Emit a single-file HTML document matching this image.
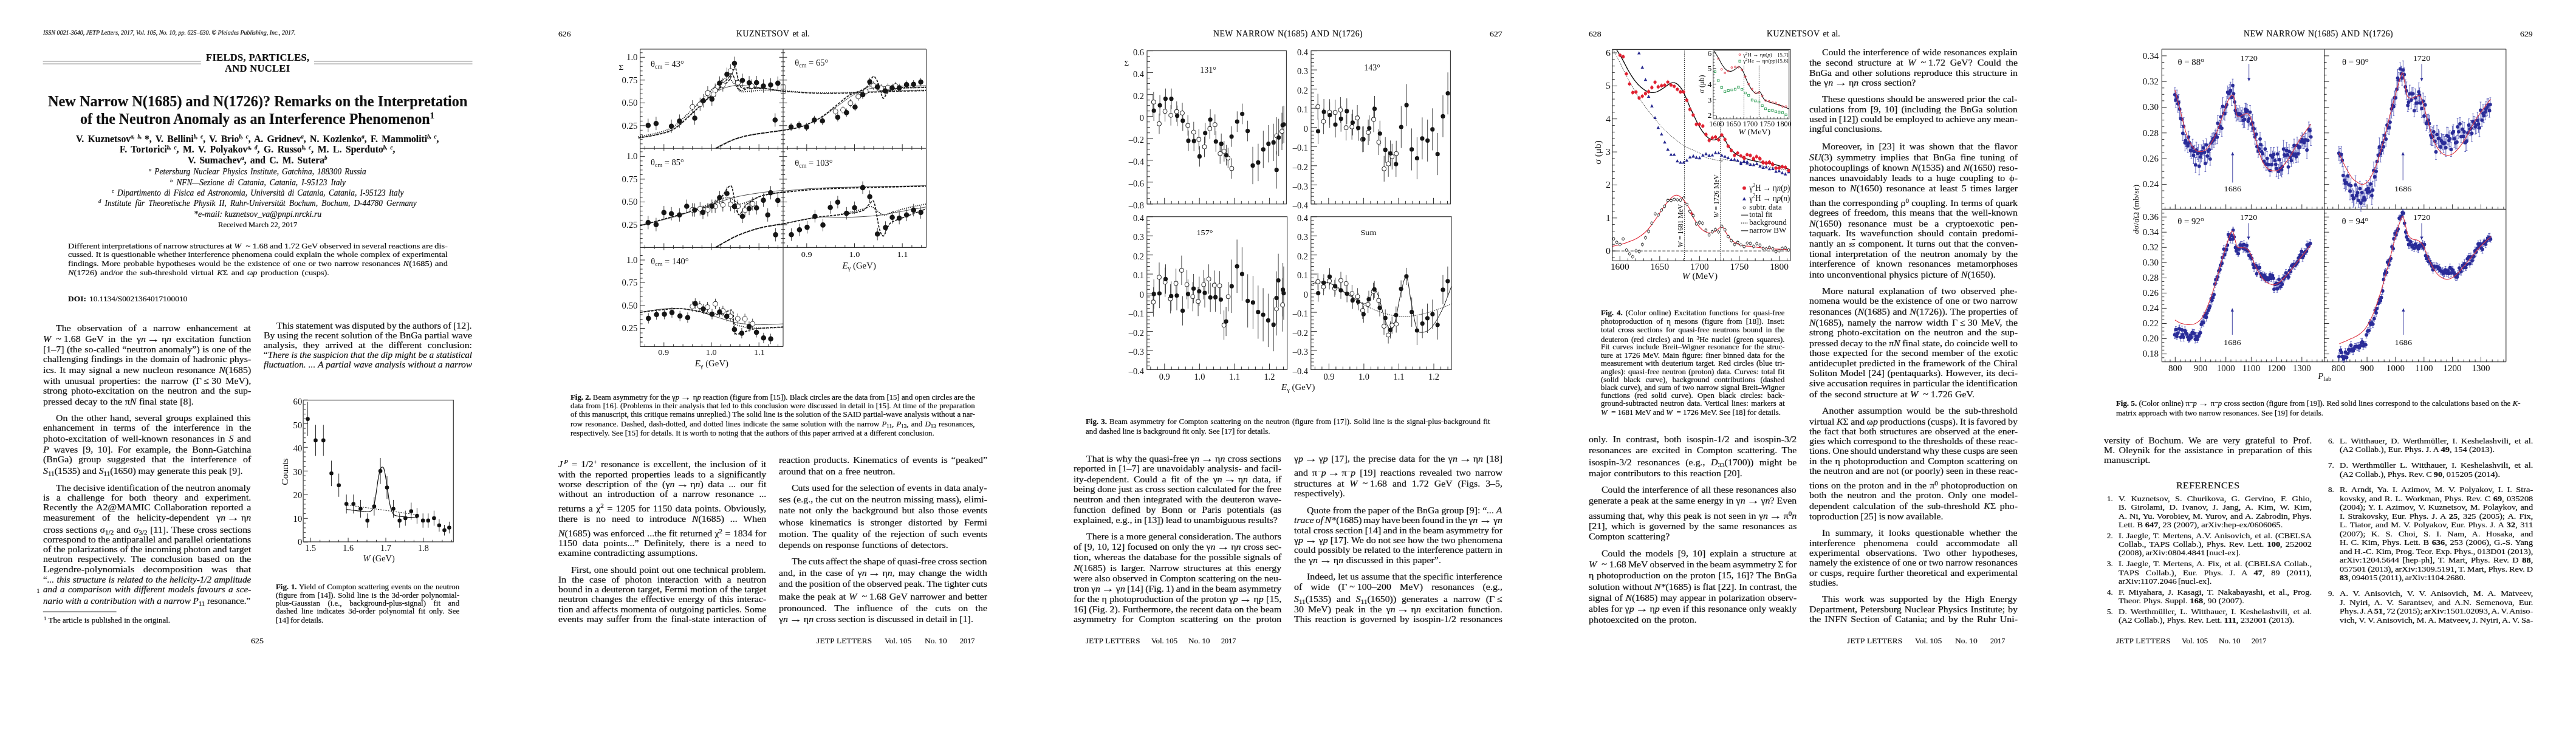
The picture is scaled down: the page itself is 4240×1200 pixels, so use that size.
<!DOCTYPE html><html><head><meta charset="utf-8"><title>JETP Letters</title><style>
html,body{margin:0;padding:0;background:#fff}
body{width:4240px;height:1200px;position:relative;overflow:hidden;font-family:"Liberation Serif",serif;color:#111}
.pg{position:absolute;top:0;width:848px;height:1200px;overflow:hidden;will-change:transform}
.l{position:absolute;white-space:nowrap;height:20px;line-height:20px;transform-origin:0 0;-webkit-text-stroke:0.2px #111}
.l sup,.l sub{font-size:70%;line-height:0;vertical-align:baseline;position:relative}
.l sup{top:-0.5em}
.l sub{top:0.3em}
.l sup.au{font-style:italic;font-size:9.5px;top:-5.5px;font-weight:bold}
.ar{display:inline-block;transform:scaleX(1.33);margin:0 4.5px}
.l sup.af{font-style:italic;font-size:9px;top:-5px}
svg{position:absolute;left:0;top:0}
svg text{font-family:"Liberation Serif",serif;fill:#111}
</style></head><body>
<div class="pg" style="left:0px">
<svg width="848" height="1200" viewBox="0 0 848 1200"><path d="M70.6 100.9H330.7M517 100.9H777.5M70.6 105.2H330.7M517 105.2H777.5" fill="none" stroke="#999" stroke-width="1.3" />
<path d="M70.8 1007H191.6" fill="none" stroke="#222" stroke-width="0.9" />
<rect x="499.1" y="658.6" width="247.2" height="233.3" fill="none" stroke="#444" stroke-width="1.3"/>
<path d="M499.7 892.3H506.7M499.7 884.5H503.2M499.7 876.7H503.2M499.7 868.9H503.2M499.7 861.1H503.2M499.7 853.3H506.7M499.7 845.5H503.2M499.7 837.7H503.2M499.7 829.9H503.2M499.7 822.1H503.2M499.7 814.3H506.7M499.7 806.5H503.2M499.7 798.7H503.2M499.7 790.9H503.2M499.7 783.1H503.2M499.7 775.3H506.7M499.7 767.5H503.2M499.7 759.7H503.2M499.7 751.9H503.2M499.7 744.1H503.2M499.7 736.3H506.7M499.7 728.5H503.2M499.7 720.7H503.2M499.7 712.9H503.2M499.7 705.1H503.2M499.7 697.3H506.7M499.7 689.5H503.2M499.7 681.7H503.2M499.7 673.9H503.2M499.7 666.1H503.2M499.7 658.3H506.7" fill="none" stroke="#333" stroke-width="1" />
<text transform="translate(497.3,897.3) scale(0.98,1)" font-size="15" text-anchor="end" >0</text>
<text transform="translate(497.3,858.7) scale(0.98,1)" font-size="15" text-anchor="end" >10</text>
<text transform="translate(497.3,820.2) scale(0.98,1)" font-size="15" text-anchor="end" >20</text>
<text transform="translate(497.3,781.6) scale(0.98,1)" font-size="15" text-anchor="end" >30</text>
<text transform="translate(497.3,743) scale(0.98,1)" font-size="15" text-anchor="end" >40</text>
<text transform="translate(497.3,704.5) scale(0.98,1)" font-size="15" text-anchor="end" >50</text>
<text transform="translate(497.3,665.9) scale(0.98,1)" font-size="15" text-anchor="end" >60</text>
<path d="M511.2 892.2V885.2M526.7 892.2V888.7M542.1 892.2V888.7M557.6 892.2V888.7M573.1 892.2V885.2M588.6 892.2V888.7M604 892.2V888.7M619.5 892.2V888.7M635 892.2V885.2M650.5 892.2V888.7M666 892.2V888.7M681.4 892.2V888.7M696.9 892.2V885.2M712.4 892.2V888.7M727.9 892.2V888.7M743.3 892.2V888.7" fill="none" stroke="#333" stroke-width="1" />
<text transform="translate(511.2,906.6) scale(0.95,1)" font-size="15" text-anchor="middle" >1.5</text>
<text transform="translate(573.1,906.6) scale(0.95,1)" font-size="15" text-anchor="middle" >1.6</text>
<text transform="translate(635,906.6) scale(0.95,1)" font-size="15" text-anchor="middle" >1.7</text>
<text transform="translate(696.9,906.6) scale(0.95,1)" font-size="15" text-anchor="middle" >1.8</text>
<text transform="translate(623.6,923.5) scale(1.03,1)" font-size="14" text-anchor="middle" ><tspan font-style="italic">W</tspan> (GeV)</text>
<text transform="translate(473.8,776.5) rotate(-90) scale(1.08,1)" font-size="14.5" text-anchor="middle">Counts</text>
<path d="M506.6 661.6V717.8M519.5 699.4V750.5M532.3 699.4V750.5M545.5 758.3V800.2M557.7 779.6V817.8M570.2 814V845.3M581.7 814V845.3M593.5 822.9V852.1M604.7 845.2V868.7M615.9 818.4V848.7M626.1 753.9V796.7M637 783.9V821.3M647.5 822.9V852.1M657.7 845.2V868.7M667.3 840.6V865.4M676.8 827.4V855.5M686.4 836.1V862M696.2 845.2V868.7M704.8 845.2V868.7M714.4 840.6V865.4M722.9 854.5V875.2M731.5 864V881.5M739.4 858.8V878.1" fill="none" stroke="#333" stroke-width="1" />
<path d="M570.2 838.5 L572.2 838.8 L575.1 839.1 L578.5 839.6 L582 840 L585.5 840.4 L588.6 840.8 L591.4 841.2 L594.1 841.5 L596.7 841.8 L599.2 842.1 L601.5 842.3 L603.4 842.5 L605 842.5 L606.3 842.5 L607.4 842.4 L608.3 842.2 L609.1 841.9 L610 841.5 L610.8 840.9 L611.6 840.4 L612.3 839.7 L613 838.8 L613.6 837.6 L614.3 835.9 L614.9 833.7 L615.6 831.2 L616.3 828.3 L616.9 825.1 L617.6 821.6 L618.2 817.8 L618.9 813.3 L619.6 808.3 L620.4 802.8 L621.1 797.5 L621.8 792.4 L622.5 788.1 L623.2 784.5 L623.9 781.2 L624.5 778.2 L625.2 775.7 L625.8 773.5 L626.5 771.7 L627.1 770.4 L627.6 769.5 L628.2 769.1 L628.7 768.9 L629.2 768.9 L629.7 769 L630.2 769.2 L630.6 769.3 L631 769.7 L631.4 770.4 L631.9 771.5 L632.4 773.3 L633 775.8 L633.6 778.9 L634.3 782.4 L634.9 786.3 L635.6 790.5 L636.3 794.7 L637 799.3 L637.7 804.5 L638.5 809.8 L639.2 815.1 L639.9 820.1 L640.6 824.4 L641.3 828 L641.9 831.2 L642.6 834 L643.2 836.5 L643.9 838.8 L644.6 840.8 L645.2 842.5 L645.9 843.9 L646.6 845 L647.3 845.9 L648 846.7 L648.8 847.4 L649.6 848 L650.3 848.4 L651.1 848.7 L652 848.9 L653.1 849.1 L654.4 849.4 L656.1 849.7 L658.1 849.9 L660.2 850.2 L662.5 850.5 L665 850.7 L667.6 851 L670.6 851.3 L674.1 851.6 L677.8 851.9 L681.3 852.2 L684.3 852.5 L686.4 852.7" fill="none" stroke="#111" stroke-width="1.2" stroke-linejoin="round" />
<path d="M572.1 831.3 L686.4 847.4" fill="none" stroke="#222" stroke-width="1" stroke-linejoin="round" stroke-dasharray="2.2 2"/>
<path d="M506.6 689.7h0M519.5 724.9h0M532.3 724.9h0M545.5 779.3h0M557.7 798.7h0M570.2 829.6h0M581.7 829.6h0M593.5 837.5h0M604.7 856.9h0M615.9 833.6h0M626.1 775.3h0M637 802.6h0M647.5 837.5h0M657.7 856.9h0M667.3 853h0M676.8 841.5h0M686.4 849h0M696.2 856.9h0M704.8 856.9h0M714.4 853h0M722.9 864.8h0M731.5 872.7h0M739.4 868.5h0" fill="none" stroke="#111" stroke-width="6.6" stroke-linecap="round"/></svg>
<div class="l" style="left:71.3px;top:44.0px;font-size:9.6px;transform:scaleX(1.0418);font-style:italic">ISSN 0021-3640, JETP Letters, 2017, Vol. 105, No. 10, pp. 625–630. © Pleiades Publishing, Inc., 2017.</div>
<div class="l" style="left:338.8px;top:85.3px;font-size:16.2px;transform:scaleX(1.0215);font-weight:bold;letter-spacing:0.3px">FIELDS, PARTICLES,</div>
<div class="l" style="left:369.8px;top:102.5px;font-size:16.2px;transform:scaleX(1.0219);font-weight:bold;letter-spacing:0.3px">AND NUCLEI</div>
<div class="l" style="left:78.8px;top:157.1px;font-size:24.6px;transform:scaleX(0.9865);font-weight:bold">New Narrow N(1685) and N(1726)? Remarks on the Interpretation</div>
<div class="l" style="left:132.0px;top:185.9px;font-size:24.6px;transform:scaleX(0.9735);font-weight:bold">of the Neutron Anomaly as an Interference Phenomenon<sup style="font-size:15px;top:-9px">1</sup></div>
<div class="l" style="left:124.8px;top:218.6px;font-size:16.5px;word-spacing:2.51px;transform:scaleX(0.9500);font-weight:bold">V. Kuznetsov<sup class="au">a, b, </sup>*, V. Bellini<sup class="au">b, c</sup>, V. Brio<sup class="au">b, c</sup>, A. Gridnev<sup class="au">a</sup>, N. Kozlenko<sup class="au">a</sup>, F. Mammoliti<sup class="au">b, c</sup>,</div>
<div class="l" style="left:196.9px;top:236.3px;font-size:16.5px;word-spacing:2.74px;transform:scaleX(0.9500);font-weight:bold">F. Tortorici<sup class="au">b, c</sup>, M. V. Polyakov<sup class="au">a, d</sup>, G. Russo<sup class="au">b, c</sup>, M. L. Sperduto<sup class="au">b, c</sup>,</div>
<div class="l" style="left:309.4px;top:253.6px;font-size:16.5px;word-spacing:2.38px;transform:scaleX(0.9500);font-weight:bold">V. Sumachev<sup class="au">a</sup>, and C. M. Sutera<sup class="au">b</sup></div>
<div class="l" style="left:245.3px;top:273.1px;font-size:13.9px;word-spacing:1.79px;transform:scaleX(0.9600);font-style:italic"><sup class="af">a</sup> Petersburg Nuclear Physics Institute, Gatchina, 188300 Russia</div>
<div class="l" style="left:279.8px;top:290.5px;font-size:13.9px;word-spacing:2.86px;transform:scaleX(0.9600);font-style:italic"><sup class="af">b</sup> NFN—Sezione di Catania, Catania, I-95123 Italy</div>
<div class="l" style="left:183.7px;top:308.0px;font-size:13.9px;word-spacing:1.98px;transform:scaleX(0.9600);font-style:italic"><sup class="af">c</sup> Dipartimento di Fisica ed Astronomia, Università di Catania, Catania, I-95123 Italy</div>
<div class="l" style="left:162.0px;top:325.4px;font-size:13.9px;word-spacing:2.99px;transform:scaleX(0.9600);font-style:italic"><sup class="af">d</sup> Institute für Theoretische Physik II, Ruhr-Universität Bochum, Bochum, D-44780 Germany</div>
<div class="l" style="left:318.7px;top:342.9px;font-size:13.9px;transform:scaleX(1.0043);font-style:italic">*e-mail: kuznetsov_va@pnpi.nrcki.ru</div>
<div class="l" style="left:358.8px;top:361.0px;font-size:11.7px;transform:scaleX(1.0800);">Received March 22, 2017</div>
<div class="l" style="left:111.6px;top:394.5px;font-size:13.2px;word-spacing:-0.41px;transform:scaleX(1.0900);">Different interpretations of narrow structures at <i>W</i>&ensp;~&#8197;1.68 and 1.72 GeV observed in several reactions are dis-</div>
<div class="l" style="left:111.6px;top:409.3px;font-size:13.2px;word-spacing:0.04px;transform:scaleX(1.0900);">cussed. It is questionable whether interference phenomena could explain the whole complex of experimental</div>
<div class="l" style="left:111.6px;top:424.0px;font-size:13.2px;word-spacing:0.96px;transform:scaleX(1.0900);">findings. More probable hypotheses would be the existence of one or two narrow resonances <i>N</i>(1685) and</div>
<div class="l" style="left:111.6px;top:438.7px;font-size:13.2px;word-spacing:1.71px;transform:scaleX(1.0900);"><i>N</i>(1726) and/or the sub-threshold virtual <i>K</i>Σ and ω<i>p</i> production (cusps).</div>
<div class="l" style="left:111.6px;top:481.7px;font-size:12.8px;transform:scaleX(1.0514);font-weight:bold">DOI:</div>
<div class="l" style="left:146.5px;top:481.7px;font-size:12.8px;transform:scaleX(1.0462);">10.1134/S0021364017100010</div>
<div class="l" style="left:92.3px;top:530.1px;font-size:14.4px;word-spacing:5.63px;transform:scaleX(1.1050);">The observation of a narrow enhancement at</div>
<div class="l" style="left:70.8px;top:548.2px;font-size:14.4px;word-spacing:3.39px;transform:scaleX(1.1050);"><i>W</i>&ensp;~&#8197;1.68 GeV in the γ<i>n</i><span class="ar">→</span>η<i>n</i> excitation function</div>
<div class="l" style="left:70.8px;top:564.6px;font-size:14.4px;word-spacing:0.56px;transform:scaleX(1.1050);">[1–7] (the so-called “neutron anomaly”) is one of the</div>
<div class="l" style="left:70.8px;top:581.1px;font-size:14.4px;word-spacing:0.57px;transform:scaleX(1.1050);">challenging findings in the domain of hadronic phys-</div>
<div class="l" style="left:70.8px;top:598.9px;font-size:14.4px;word-spacing:1.50px;transform:scaleX(1.1050);">ics. It may signal a new nucleon resonance <i>N</i>(1685)</div>
<div class="l" style="left:70.8px;top:616.6px;font-size:14.4px;word-spacing:2.90px;transform:scaleX(1.1050);">with unusual properties: the narrow (Γ&#8197;≤&#8197;30 MeV),</div>
<div class="l" style="left:70.8px;top:632.8px;font-size:14.4px;word-spacing:2.18px;transform:scaleX(1.1050);">strong photo-excitation on the neutron and the sup-</div>
<div class="l" style="left:70.8px;top:650.9px;font-size:14.4px;word-spacing:0.51px;transform:scaleX(1.1050);">pressed decay to the π<i>N</i> final state [8].</div>
<div class="l" style="left:92.3px;top:677.5px;font-size:14.4px;word-spacing:1.74px;transform:scaleX(1.1050);">On the other hand, several groups explained this</div>
<div class="l" style="left:70.8px;top:694.0px;font-size:14.4px;word-spacing:5.49px;transform:scaleX(1.1050);">enhancement in terms of the interference in the</div>
<div class="l" style="left:70.8px;top:711.7px;font-size:14.4px;word-spacing:1.80px;transform:scaleX(1.1050);">photo-excitation of well-known resonances in <i>S</i> and</div>
<div class="l" style="left:70.8px;top:729.9px;font-size:14.4px;word-spacing:3.38px;transform:scaleX(1.1050);"><i>P</i> waves [9, 10]. For example, the Bonn-Gatchina</div>
<div class="l" style="left:70.8px;top:746.3px;font-size:14.4px;word-spacing:5.81px;transform:scaleX(1.1050);">(BnGa) group suggested that the interference of</div>
<div class="l" style="left:70.8px;top:765.4px;font-size:14.4px;word-spacing:-0.16px;transform:scaleX(1.1050);"><i>S</i><sub>11</sub>(1535) and <i>S</i><sub>11</sub>(1650) may generate this peak [9].</div>
<div class="l" style="left:92.3px;top:792.7px;font-size:14.4px;word-spacing:-0.10px;transform:scaleX(1.1050);">The decisive identification of the neutron anomaly</div>
<div class="l" style="left:70.8px;top:809.2px;font-size:14.4px;word-spacing:6.46px;transform:scaleX(1.1050);">is a challenge for both theory and experiment.</div>
<div class="l" style="left:70.8px;top:825.3px;font-size:14.4px;word-spacing:1.83px;transform:scaleX(1.1050);">Recently the A2@MAMIC Collaboration reported a</div>
<div class="l" style="left:70.8px;top:841.8px;font-size:14.4px;word-spacing:7.58px;transform:scaleX(1.1050);">measurement of the helicity-dependent γ<i>n</i><span class="ar">→</span>η<i>n</i></div>
<div class="l" style="left:70.8px;top:861.5px;font-size:14.4px;word-spacing:0.70px;transform:scaleX(1.1050);">cross sections σ<sub>1/2</sub> and σ<sub>3/2</sub> [11]. These cross sections</div>
<div class="l" style="left:70.8px;top:877.5px;font-size:14.4px;word-spacing:-0.19px;transform:scaleX(1.1050);">correspond to the antiparallel and parallel orientations</div>
<div class="l" style="left:70.8px;top:894.0px;font-size:14.4px;word-spacing:-0.01px;transform:scaleX(1.1050);">of the polarizations of the incoming photon and target</div>
<div class="l" style="left:70.8px;top:910.4px;font-size:14.4px;word-spacing:3.81px;transform:scaleX(1.1050);">neutron respectively. The conclusion based on the</div>
<div class="l" style="left:70.8px;top:926.9px;font-size:14.4px;word-spacing:9.00px;transform:scaleX(1.1534);">Legendre-polynomials decomposition was that</div>
<div class="l" style="left:70.8px;top:943.7px;font-size:14.4px;word-spacing:0.56px;transform:scaleX(1.0553);">“<i>... this structure is related to the helicity-1/2 amplitude</i></div>
<div class="l" style="left:70.8px;top:960.1px;font-size:14.4px;word-spacing:1.44px;transform:scaleX(1.0553);"><i>and a comparison with different models favours a sce-</i></div>
<div class="l" style="left:70.8px;top:978.9px;font-size:14.4px;word-spacing:0.05px;transform:scaleX(1.0553);"><i>nario with a contribution with a narrow P</i><sub>11</sub> resonance.”</div>
<div class="l" style="left:71.8px;top:1011.9px;font-size:11.7px;word-spacing:0.23px;transform:scaleX(1.1000);"><sup style="font-size:8px;top:-4px">1</sup> The article is published in the original.</div>
<div class="l" style="left:60.5px;top:963.0px;font-size:9.5px;">1</div>
<div class="l" style="left:413.3px;top:1044.9px;font-size:12.8px;transform:scaleX(1.0884);">625</div>
<div class="l" style="left:455.4px;top:525.8px;font-size:14.4px;word-spacing:-0.45px;transform:scaleX(1.1050);">This statement was disputed by the authors of [12].</div>
<div class="l" style="left:433.9px;top:541.9px;font-size:14.4px;word-spacing:0.07px;transform:scaleX(1.1050);">By using the recent solution of the BnGa partial wave</div>
<div class="l" style="left:433.9px;top:558.0px;font-size:14.4px;word-spacing:4.96px;transform:scaleX(1.1050);">analysis, they arrived at the different conclusion:</div>
<div class="l" style="left:433.9px;top:573.8px;font-size:14.4px;word-spacing:0.02px;transform:scaleX(1.0553);">“<i>There is the suspicion that the dip might be a statistical</i></div>
<div class="l" style="left:433.9px;top:590.3px;font-size:14.4px;word-spacing:0.39px;transform:scaleX(1.0553);"><i>fluctuation. ... A partial wave analysis without a narrow</i></div>
<div class="l" style="left:454.3px;top:956.7px;font-size:11.7px;word-spacing:0.60px;transform:scaleX(1.1000);"><b>Fig. 1.</b> Yield of Compton scattering events on the neutron</div>
<div class="l" style="left:454.3px;top:970.6px;font-size:11.7px;word-spacing:1.11px;transform:scaleX(1.1000);">(figure from [14]). Solid line is the 3d-order polynomial-</div>
<div class="l" style="left:454.3px;top:984.0px;font-size:11.7px;word-spacing:8.55px;transform:scaleX(1.1000);">plus-Gaussian (i.e., background-plus-signal) fit and</div>
<div class="l" style="left:454.3px;top:997.3px;font-size:11.7px;word-spacing:2.72px;transform:scaleX(1.1000);">dashed line indicates 3d-order polynomial fit only. See</div>
<div class="l" style="left:454.3px;top:1012.0px;font-size:11.7px;word-spacing:-0.60px;transform:scaleX(1.1000);">[14] for details.</div>
</div>
<div class="pg" style="left:848px">
<svg width="848" height="1200" viewBox="0 0 848 1200"><path d="M205.7 80.9H676.5M205.7 80.9V570.5M676.5 80.9V407.4M205.7 244.3H676.5M205.7 407.4H676.5M205.7 570.5H441M441 80.9V570.5" fill="none" stroke="#333" stroke-width="1.1" />
<path d="M213.5 240.3V246.7M213.5 403.4V409.8M213.5 566.5V570.5M229.2 240.3V246.7M229.2 403.4V409.8M229.2 566.5V570.5M244.8 237.3V248.5M244.8 400.4V411.6M244.8 563.5V570.5M260.4 240.3V246.7M260.4 403.4V409.8M260.4 566.5V570.5M276.1 240.3V246.7M276.1 403.4V409.8M276.1 566.5V570.5M291.7 240.3V246.7M291.7 403.4V409.8M291.7 566.5V570.5M307.4 240.3V246.7M307.4 403.4V409.8M307.4 566.5V570.5M323 237.3V248.5M323 400.4V411.6M323 563.5V570.5M338.6 240.3V246.7M338.6 403.4V409.8M338.6 566.5V570.5M354.3 240.3V246.7M354.3 403.4V409.8M354.3 566.5V570.5M369.9 240.3V246.7M369.9 403.4V409.8M369.9 566.5V570.5M385.6 240.3V246.7M385.6 403.4V409.8M385.6 566.5V570.5M401.2 237.3V248.5M401.2 400.4V411.6M401.2 563.5V570.5M416.8 240.3V246.7M416.8 403.4V409.8M416.8 566.5V570.5M432.5 240.3V246.7M432.5 403.4V409.8M432.5 566.5V570.5M448.3 240.3V246.7M448.3 403.4V407.4M464.1 240.3V246.7M464.1 403.4V407.4M479.8 237.3V248.5M479.8 400.4V407.4M495.5 240.3V246.7M495.5 403.4V407.4M511.3 240.3V246.7M511.3 403.4V407.4M527 240.3V246.7M527 403.4V407.4M542.8 240.3V246.7M542.8 403.4V407.4M558.5 237.3V248.5M558.5 400.4V407.4M574.2 240.3V246.7M574.2 403.4V407.4M590 240.3V246.7M590 403.4V407.4M605.7 240.3V246.7M605.7 403.4V407.4M621.5 240.3V246.7M621.5 403.4V407.4M637.2 237.3V248.5M637.2 400.4V407.4M652.9 240.3V246.7M652.9 403.4V407.4M668.7 240.3V246.7M668.7 403.4V407.4M205.7 236.8H209.7M437.8 236.8H444.2M205.7 229.3H209.7M437.8 229.3H444.2M205.7 221.8H209.7M437.8 221.8H444.2M205.7 214.3H209.7M437.8 214.3H444.2M205.7 206.8H213.7M434.6 206.8H447.4M205.7 199.3H209.7M437.8 199.3H444.2M205.7 191.8H209.7M437.8 191.8H444.2M205.7 184.3H209.7M437.8 184.3H444.2M205.7 176.8H209.7M437.8 176.8H444.2M205.7 169.3H213.7M434.6 169.3H447.4M205.7 161.8H209.7M437.8 161.8H444.2M205.7 154.3H209.7M437.8 154.3H444.2M205.7 146.8H209.7M437.8 146.8H444.2M205.7 139.3H209.7M437.8 139.3H444.2M205.7 131.8H213.7M434.6 131.8H447.4M205.7 124.3H209.7M437.8 124.3H444.2M205.7 116.8H209.7M437.8 116.8H444.2M205.7 109.3H209.7M437.8 109.3H444.2M205.7 101.8H209.7M437.8 101.8H444.2M205.7 94.3H213.7M434.6 94.3H447.4M205.7 86.8H209.7M437.8 86.8H444.2" fill="none" stroke="#333" stroke-width="1" />
<text transform="translate(201.5,211.6) scale(1.06,1)" font-size="14" text-anchor="end" >0.25</text>
<text transform="translate(201.5,174.1) scale(1.06,1)" font-size="14" text-anchor="end" >0.50</text>
<text transform="translate(201.5,136.6) scale(1.06,1)" font-size="14" text-anchor="end" >0.75</text>
<text transform="translate(201.5,99.1) scale(1.06,1)" font-size="14" text-anchor="end" >1.0</text>
<path d="M205.7 399.9H209.7M437.8 399.9H444.2M205.7 392.4H209.7M437.8 392.4H444.2M205.7 384.9H209.7M437.8 384.9H444.2M205.7 377.4H209.7M437.8 377.4H444.2M205.7 369.9H213.7M434.6 369.9H447.4M205.7 362.4H209.7M437.8 362.4H444.2M205.7 354.9H209.7M437.8 354.9H444.2M205.7 347.4H209.7M437.8 347.4H444.2M205.7 339.9H209.7M437.8 339.9H444.2M205.7 332.4H213.7M434.6 332.4H447.4M205.7 324.9H209.7M437.8 324.9H444.2M205.7 317.4H209.7M437.8 317.4H444.2M205.7 309.9H209.7M437.8 309.9H444.2M205.7 302.4H209.7M437.8 302.4H444.2M205.7 294.9H213.7M434.6 294.9H447.4M205.7 287.4H209.7M437.8 287.4H444.2M205.7 279.9H209.7M437.8 279.9H444.2M205.7 272.4H209.7M437.8 272.4H444.2M205.7 264.9H209.7M437.8 264.9H444.2M205.7 257.4H213.7M434.6 257.4H447.4M205.7 249.9H209.7M437.8 249.9H444.2" fill="none" stroke="#333" stroke-width="1" />
<text transform="translate(201.5,374.7) scale(1.06,1)" font-size="14" text-anchor="end" >0.25</text>
<text transform="translate(201.5,337.2) scale(1.06,1)" font-size="14" text-anchor="end" >0.50</text>
<text transform="translate(201.5,299.7) scale(1.06,1)" font-size="14" text-anchor="end" >0.75</text>
<text transform="translate(201.5,262.2) scale(1.06,1)" font-size="14" text-anchor="end" >1.0</text>
<path d="M205.7 563H209.7M205.7 555.5H209.7M205.7 548H209.7M205.7 540.5H213.7M205.7 533H209.7M205.7 525.5H209.7M205.7 518H209.7M205.7 510.5H209.7M205.7 503H213.7M205.7 495.5H209.7M205.7 488H209.7M205.7 480.5H209.7M205.7 473H209.7M205.7 465.5H213.7M205.7 458H209.7M205.7 450.5H209.7M205.7 443H209.7M205.7 435.5H209.7M205.7 428H213.7M205.7 420.5H209.7" fill="none" stroke="#333" stroke-width="1" />
<text transform="translate(201.5,545.3) scale(1.06,1)" font-size="14" text-anchor="end" >0.25</text>
<text transform="translate(201.5,507.8) scale(1.06,1)" font-size="14" text-anchor="end" >0.50</text>
<text transform="translate(201.5,470.3) scale(1.06,1)" font-size="14" text-anchor="end" >0.75</text>
<text transform="translate(201.5,432.8) scale(1.06,1)" font-size="14" text-anchor="end" >1.0</text>
<text transform="translate(223,109.5) scale(1.0,1)" font-size="14.5" text-anchor="start" >θ<tspan font-size="10" dy="3">cm</tspan><tspan dy="-3"> = 43°</tspan></text>
<text transform="translate(460.3,107.5) scale(1.0,1)" font-size="14.5" text-anchor="start" >θ<tspan font-size="10" dy="3">cm</tspan><tspan dy="-3"> = 65°</tspan></text>
<text transform="translate(223,272) scale(1.0,1)" font-size="14.5" text-anchor="start" >θ<tspan font-size="10" dy="3">cm</tspan><tspan dy="-3"> = 85°</tspan></text>
<text transform="translate(460.3,273.3) scale(1.0,1)" font-size="14.5" text-anchor="start" >θ<tspan font-size="10" dy="3">cm</tspan><tspan dy="-3"> = 103°</tspan></text>
<text transform="translate(223.3,434.7) scale(1.0,1)" font-size="14.5" text-anchor="start" >θ<tspan font-size="10" dy="3">cm</tspan><tspan dy="-3"> = 140°</tspan></text>
<text transform="translate(170.5,114.5) scale(1.06,1)" font-size="13" text-anchor="start" >Σ</text>
<text transform="translate(244.1,584.1) scale(1.06,1)" font-size="13.5" text-anchor="middle" >0.9</text>
<text transform="translate(322.8,584.1) scale(1.06,1)" font-size="13.5" text-anchor="middle" >1.0</text>
<text transform="translate(401.9,584.1) scale(1.06,1)" font-size="13.5" text-anchor="middle" >1.1</text>
<text transform="translate(479.8,423.1) scale(1.06,1)" font-size="13.5" text-anchor="middle" >0.9</text>
<text transform="translate(558.4,423.1) scale(1.06,1)" font-size="13.5" text-anchor="middle" >1.0</text>
<text transform="translate(637.4,423.1) scale(1.06,1)" font-size="13.5" text-anchor="middle" >1.1</text>
<text transform="translate(295.7,602.8) scale(1.06,1)" font-size="14" text-anchor="start" ><tspan font-style="italic">E</tspan><tspan font-size="10" dy="3">γ</tspan><tspan dy="-3">  (GeV)</tspan></text>
<text transform="translate(538.5,442.3) scale(1.06,1)" font-size="14" text-anchor="start" ><tspan font-style="italic">E</tspan><tspan font-size="10" dy="3">γ</tspan><tspan dy="-3">  (GeV)</tspan></text>
<path d="M202.8 227.1 L206.5 226.4 L211.7 225.5 L217.9 224.4 L224.4 223.2 L230.7 222 L236.1 220.7 L240.7 219.5 L245 218.4 L249 217.3 L252.9 215.9 L256.8 214.2 L260.8 212 L264.9 209.3 L269 206 L273.2 202.4 L277.3 198.6 L281.4 194.8 L285.5 191 L289.6 187.4 L293.8 183.6 L297.9 179.9 L302 176.1 L306.1 172.4 L310.2 168.8 L314.3 165.2 L318.5 161.6 L322.6 158 L326.7 154.7 L330.8 151.6 L334.9 149.1 L339 147 L343.2 145.2 L347.3 143.8 L351.4 142.7 L355.5 141.8 L359.6 141.1 L363.7 140.7 L367.9 140.6 L372 140.7 L376.1 140.9 L380.2 141.3 L384.3 141.6 L388.4 142.1 L392.3 142.6 L396.2 143.2 L400.3 143.9 L404.5 144.6 L409 145.3 L414.3 146.2 L420.4 147.1 L426.6 148 L432.5 149 L437.6 149.7 L441.2 150.3" fill="none" stroke="#1a1a1a" stroke-width="0.8" stroke-linejoin="round" />
<path d="M202.8 225.1 L206.5 224.4 L211.7 223.5 L217.9 222.3 L224.4 221 L230.7 219.6 L236.1 218.2 L240.7 216.9 L245 215.6 L249 214.2 L252.9 212.7 L256.8 210.7 L260.8 208.3 L264.9 205.4 L269 201.9 L273.2 198.1 L277.3 194.2 L281.4 190.1 L285.5 186.1 L289.6 182.1 L293.8 178.1 L297.9 173.9 L302 169.7 L306.1 165.5 L310.2 161.4 L314.5 157.1 L318.8 152.6 L323.2 148 L327.4 143.7 L331.4 139.9 L334.9 136.7 L338 134.1 L340.8 132 L343.3 130.3 L345.5 129.1 L347.7 128.3 L349.7 128.1 L351.7 128.4 L353.4 129.5 L354.9 131 L356.4 132.8 L358 134.8 L359.6 136.7 L361.4 138.8 L363.2 141.4 L365 144 L366.8 146.6 L368.7 148.8 L370.7 150.3 L372.7 151.1 L374.7 151.4 L376.7 151.2 L378.9 150.9 L381.4 150.5 L384.3 150.3 L387.7 150.1 L391.5 149.7 L395.5 149.4 L399.8 149 L404.4 148.7 L409 148.6 L414.3 148.6 L420.4 148.7 L426.6 148.9 L432.5 149.2 L437.6 149.4 L441.2 149.5" fill="none" stroke="#1a1a1a" stroke-width="1.9" stroke-linejoin="round" stroke-dasharray="1.3 1.9"/>
<path d="M202.8 227.1 L206.5 226.5 L211.7 225.7 L217.9 224.7 L224.4 223.6 L230.7 222.4 L236.1 221.2 L240.7 220.1 L245 219 L249 217.9 L252.9 216.6 L256.8 214.9 L260.8 212.8 L264.9 210.1 L269 207 L273.2 203.5 L277.3 199.8 L281.4 196 L285.5 192.3 L289.6 188.5 L293.8 184.6 L297.9 180.7 L302 176.7 L306.1 172.7 L310.2 168.8 L314.4 165 L318.7 161 L323 157.2 L327.2 153.4 L331.2 149.8 L334.9 146.6 L338.4 143.7 L341.6 141.2 L344.7 138.9 L347.5 136.7 L350 134.4 L352.2 131.8 L354.1 128.7 L355.6 125.3 L356.8 121.7 L357.9 118.4 L358.8 115.4 L359.6 113.2 L360.4 111.7 L360.9 110.5 L361.4 109.8 L361.7 109.6 L362.1 109.9 L362.6 110.8 L363.1 112.4 L363.6 114.7 L364.1 117.6 L364.7 120.7 L365.3 123.9 L366.1 126.8 L366.8 129.8 L367.6 133.1 L368.5 136.5 L369.4 139.6 L370.6 142.2 L372 144.1 L373.5 145.1 L375.2 145.3 L377 145.1 L379.1 144.7 L381.5 144.2 L384.3 144.1 L387.6 144.2 L391.4 144.3 L395.4 144.4 L399.8 144.6 L404.3 144.9 L409 145.3 L414.3 146 L420.4 146.9 L426.6 147.9 L432.5 148.9 L437.6 149.7 L441.2 150.3" fill="none" stroke="#1a1a1a" stroke-width="1.7" stroke-linejoin="round" stroke-dasharray="4 2"/>
<path d="M310.2 167.6 L313 165.1 L317 161.6 L321.6 157.5 L326.5 153.1 L331.1 149 L334.9 145.3 L338.1 142.2 L340.9 139.2 L343.4 136.3 L345.7 133.7 L347.8 131.3 L349.7 129.3 L351.4 127.5 L352.9 125.9 L354.1 124.7 L355.1 123.7 L356.2 123.2 L357.2 123.1 L358.1 123.6 L358.9 124.6 L359.6 126 L360.3 127.7 L361.1 129.6 L362.1 131.8 L363.3 134.4 L364.5 137.7 L365.9 141.2 L367.4 144.5 L369 147.3 L370.7 149.1 L372.6 149.6 L374.5 149.2 L376.5 148.2 L378.8 147 L381.4 145.9 L384.3 145.3 L388.1 145.2 L392.7 145.3 L397.5 145.5 L402.2 145.7 L406.2 146 L409 146.1" fill="none" stroke="#1a1a1a" stroke-width="1.6" stroke-linejoin="round" stroke-dasharray="4 1.6 1.2 1.6"/>
<path d="M330 244.2 L332.7 242.8 L336.6 240.7 L341.1 238.4 L345.9 236 L350.6 233.7 L354.7 231.8 L358.2 230.3 L361.5 229.1 L364.7 228 L367.9 227 L371.1 226.1 L374.5 225.1 L377.8 224.3 L380.9 223.6 L384 222.9 L387.5 222.2 L391.7 221.5 L396.7 220.7 L403.3 219.7 L411.5 218.5 L420.3 217.3 L428.8 216.2 L436.1 215.2 L441.2 214.5" fill="none" stroke="#1a1a1a" stroke-width="2" stroke-linejoin="round" stroke-dasharray="6 1.2"/>
<path d="M218.8 195.4V217.4M231.9 192.2V214.2M257.1 196.8V218.8M270.4 188.4V210.4M295.6 183.5V205.5M309.7 154.8V176.8M323.8 152.1V174.1M336.4 125.7V147.7M348.5 111.4V133.4M360.9 93.3V115.3M374 121.3V143.3M385.1 125.2V147.2M397.2 125V147M408.5 130.6V152.6M420.4 128.7V150.7M432.3 125.9V147.9M427.8 186.5V208.5M291.7 165V187M304.3 160.8V182.8M316.9 142V164M329.2 137.6V159.6M341.8 128.7V150.7M354.4 105.9V127.9M366.5 125.2V147.2M326.3 144.2V166.2M389.3 130.6V152.6" fill="none" stroke="#444" stroke-width="1" />
<path d="M291.7 176h0M304.3 171.8h0M316.9 153h0M329.2 148.6h0M341.8 139.7h0M354.4 116.9h0M366.5 136.2h0M326.3 155.2h0M389.3 141.6h0" fill="none" stroke="#222" stroke-width="8.9" stroke-linecap="round"/>
<path d="M291.7 176h0M304.3 171.8h0M316.9 153h0M329.2 148.6h0M341.8 139.7h0M354.4 116.9h0M366.5 136.2h0M326.3 155.2h0M389.3 141.6h0" fill="none" stroke="#fff" stroke-width="7.1" stroke-linecap="round"/>
<path d="M218.8 206.4h0M231.9 203.2h0M257.1 207.8h0M270.4 199.4h0M295.6 194.5h0M309.7 165.8h0M323.8 163.1h0M336.4 136.7h0M348.5 122.4h0M360.9 104.3h0M374 132.3h0M385.1 136.2h0M397.2 136h0M408.5 141.6h0M420.4 139.7h0M432.3 136.9h0M427.8 197.5h0" fill="none" stroke="#151515" stroke-width="8.6" stroke-linecap="round"/>
<rect x="437.5" y="140" width="7" height="14" fill="none" stroke="#666" stroke-width="0.8"/>
<path d="M441.3 149.5 L447.2 149.9 L455.2 150.5 L464.8 151.2 L475.3 151.9 L485.9 152.4 L496.1 152.8 L506 152.9 L516.2 152.9 L526.6 152.7 L537 152.5 L547.5 152.3 L557.9 152 L568.2 151.7 L578.6 151.3 L589.1 150.8 L599.4 150.3 L609.6 149.9 L619.6 149.5 L630 149.3 L641 149.1 L651.9 148.9 L661.9 148.8 L670.3 148.6 L676.4 148.6" fill="none" stroke="#1a1a1a" stroke-width="1.9" stroke-linejoin="round" stroke-dasharray="1.3 1.9"/>
<path d="M441.3 150.3 L447.2 150.7 L455.2 151.3 L464.8 151.9 L475.3 152.6 L485.9 153.1 L496.1 153.5 L506 153.7 L516.2 153.7 L526.6 153.6 L537 153.5 L547.5 153.2 L557.9 153 L568.2 152.7 L578.6 152.3 L589.1 151.8 L599.4 151.3 L609.6 150.9 L619.6 150.5 L630 150.2 L641 150 L651.9 149.8 L661.9 149.6 L670.3 149.4 L676.4 149.3" fill="none" stroke="#1a1a1a" stroke-width="1.6" stroke-linejoin="round" stroke-dasharray="4 2"/>
<path d="M441.3 214.5 L444.5 213.9 L449 213.2 L454.3 212.4 L460.1 211.3 L465.9 209.9 L471.4 208.3 L476.7 206.4 L482.2 204.1 L487.8 201.6 L493.3 199 L498.6 196.2 L503.5 193.5 L508.1 190.8 L512.4 187.9 L516.5 184.9 L520.4 182 L524.3 179.1 L528.2 176.2 L532.1 173.4 L535.9 170.6 L539.7 167.8 L543.3 165.1 L546.9 162.5 L550.5 160.2 L553.8 158 L557 156 L560.2 154.2 L563.4 152.5 L566.7 151 L570.2 149.5 L574.1 148.3 L578.1 147.2 L582.3 146.3 L586.5 145.5 L590.8 144.8 L594.9 144.1 L598.7 143.6 L602 143.2 L605.3 142.8 L609 142.6 L613.7 142.4 L619.6 142.1 L627.9 141.9 L638.3 141.7 L649.6 141.5 L660.5 141.4 L669.9 141.2 L676.4 141.1" fill="none" stroke="#1a1a1a" stroke-width="0.8" stroke-linejoin="round" />
<path d="M441.3 214.5 L444.5 213.9 L449 213.3 L454.3 212.4 L460.1 211.3 L465.9 210 L471.4 208.3 L476.7 206.4 L482.2 204.1 L487.8 201.5 L493.3 198.8 L498.6 195.9 L503.5 193 L508.1 190 L512.4 186.8 L516.5 183.5 L520.4 180.2 L524.3 176.9 L528.2 173.8 L532.1 170.6 L535.9 167.5 L539.7 164.4 L543.3 161.5 L546.9 158.8 L550.5 156.5 L554 154.6 L557.6 153.1 L561.1 151.9 L564.5 150.8 L567.5 149.7 L570.2 148.6 L572.5 147.4 L574.4 146.4 L576 145.4 L577.4 144.3 L578.8 143.1 L580.1 141.6 L581.4 139.8 L582.5 137.6 L583.5 135.2 L584.4 132.9 L585.4 130.9 L586.3 129.3 L587.2 128.1 L588 127.1 L588.7 126.4 L589.5 126 L590.3 125.9 L591.2 126.3 L592.2 127.2 L593.2 128.5 L594.3 130.2 L595.4 132.2 L596.4 134.4 L597.4 136.7 L598.3 139.3 L599.2 142.3 L600 145.5 L600.8 148.7 L601.6 151.6 L602.3 154 L603 156 L603.6 157.9 L604.2 159.4 L604.8 160.7 L605.4 161.5 L606 161.9 L606.8 161.6 L607.6 160.7 L608.4 159.4 L609.2 158 L610.1 156.5 L611 155.2 L611.8 154.1 L612.6 153 L613.5 152 L614.4 150.9 L615.6 149.9 L617.2 149.1 L618.8 148.3 L620.4 147.5 L622.2 146.9 L624.5 146.3 L627.7 145.8 L632 145.3 L638.2 145 L646.3 144.7 L655.1 144.5 L663.8 144.3 L671.3 144.2 L676.4 144.1" fill="none" stroke="#1a1a1a" stroke-width="1.7" stroke-linejoin="round" stroke-dasharray="4 2"/>
<path d="M570.2 148.6 L571.3 148 L572.7 147.2 L574.4 146.2 L576.3 145.2 L578.2 144.3 L580.1 143.6 L582 143 L584.1 142.3 L586.3 141.7 L588.4 141.3 L590.5 141.2 L592.5 141.6 L594.3 142.7 L596 144.5 L597.7 146.5 L599.3 148.6 L600.9 150.4 L602.3 151.5 L603.5 152 L604.4 152.1 L605.3 151.9 L606.3 151.4 L607.7 150.9 L609.7 150.3 L612.3 149.5 L615.2 148.6 L618.5 147.4 L622.4 146.3 L626.8 145.3 L632 144.6 L638.6 144.1 L646.8 143.8 L655.6 143.6 L664.1 143.5 L671.4 143.5 L676.4 143.4" fill="none" stroke="#1a1a1a" stroke-width="1.9" stroke-linejoin="round" stroke-dasharray="1.3 1.9"/>
<path d="M454.1 202.3V215.9M467.2 199.3V212.9M479.6 202.3V215.9M492.4 190.7V204.3M505.7 192.2V205.8M530.9 186.2V199.8M545.3 178.6V192.2M559.4 169.4V183M572 149.2V162.8M583.6 127.9V141.5M596.2 136.3V149.9M609 142.7V156.3M620.4 137.8V151.4M632.2 137.8V151.4M644.1 132.6V146.2M655.7 131.9V145.5M667.6 128.2V141.8M527.2 176.6V190.2M539.6 174.1V187.7M551.9 163V176.6M564.8 152.1V165.7M577.1 143.5V157.1M589.7 134.1V147.7M602.3 138.5V152.1M613.5 137.3V150.9M626.1 134.8V148.4" fill="none" stroke="#444" stroke-width="1" />
<path d="M527.2 183.4h0M539.6 180.9h0M551.9 169.8h0M564.8 158.9h0M577.1 150.3h0M589.7 140.9h0M602.3 145.3h0M613.5 144.1h0M626.1 141.6h0" fill="none" stroke="#222" stroke-width="8.9" stroke-linecap="round"/>
<path d="M527.2 183.4h0M539.6 180.9h0M551.9 169.8h0M564.8 158.9h0M577.1 150.3h0M589.7 140.9h0M602.3 145.3h0M613.5 144.1h0M626.1 141.6h0" fill="none" stroke="#fff" stroke-width="7.1" stroke-linecap="round"/>
<path d="M454.1 209.1h0M467.2 206.1h0M479.6 209.1h0M492.4 197.5h0M505.7 199h0M530.9 193h0M545.3 185.4h0M559.4 176.2h0M572 156h0M583.6 134.7h0M596.2 143.1h0M609 149.5h0M620.4 144.6h0M632.2 144.6h0M644.1 139.4h0M655.7 138.7h0M667.6 135h0" fill="none" stroke="#151515" stroke-width="8.6" stroke-linecap="round"/>
<path d="M205.7 371.4 L211.8 369.9 L220.2 367.8 L230.2 365.3 L240.8 362.6 L251.3 359.9 L260.8 357.3 L269.4 354.7 L277.7 352.1 L285.9 349.4 L294 346.7 L302.1 343.9 L310.2 341.2 L318.5 338.5 L326.7 335.6 L334.9 332.7 L343.2 330 L351.4 327.4 L359.6 325.2 L368.1 323.2 L376.7 321.5 L385.4 320 L393.8 318.7 L401.8 317.5 L409 316.5 L415.8 315.7 L422.2 315 L428.2 314.5 L433.5 314.1 L437.9 313.8 L441.2 313.6" fill="none" stroke="#1a1a1a" stroke-width="0.8" stroke-linejoin="round" />
<path d="M205.7 371.4 L214.9 368.8 L228 365.2 L243.3 361 L259.1 356.6 L273.8 352.5 L285.5 349.1 L294.4 346.6 L301.8 344.5 L308 342.8 L313.3 341.1 L318 339.4 L322.6 337.5 L326.7 335.4 L330.1 333.2 L332.9 330.9 L335.4 328.6 L337.6 326.3 L339.9 323.9 L342 321.4 L343.8 318.6 L345.5 315.8 L347 313.2 L348.4 310.9 L349.7 309.1 L351 307.8 L352.2 306.7 L353.2 306 L354.2 305.7 L355.1 305.9 L355.9 306.6 L356.7 308 L357.3 309.9 L357.9 312.4 L358.4 315.1 L359 318.2 L359.6 321.5 L360.4 325.2 L361.2 329.6 L362 334.3 L362.9 338.8 L363.7 342.9 L364.6 346.2 L365.4 348.6 L366.1 350.6 L366.9 352.2 L367.7 353.2 L368.5 353.7 L369.5 353.6 L370.5 352.6 L371.6 350.9 L372.8 348.6 L374 346 L375.4 343.4 L376.9 341.2 L378.6 339.3 L380.4 337.3 L382.3 335.4 L384.4 333.6 L386.7 331.8 L389.3 330.1 L392 328.5 L394.9 326.9 L397.9 325.4 L401.3 324 L404.9 322.7 L409 321.5 L414 320.3 L420 319.2 L426.3 318.2 L432.4 317.3 L437.5 316.6 L441.2 316" fill="none" stroke="#1a1a1a" stroke-width="1.7" stroke-linejoin="round" stroke-dasharray="4 2"/>
<path d="M285.5 348.6 L289.8 347.1 L296 344.9 L303.3 342.3 L310.7 339.6 L317.4 337.1 L322.6 335 L326 333.5 L328.4 332.2 L330.1 331.1 L331.5 330.1 L333 329.2 L334.9 328.4 L337.3 327.6 L339.9 326.8 L342.5 326.1 L345.1 325.6 L347.5 325.3 L349.7 325.2 L351.7 325.3 L353.4 325.8 L355 326.4 L356.5 327.1 L358 328 L359.6 328.9 L361.2 330 L362.7 331.4 L364.3 332.8 L365.9 334.2 L367.6 335.3 L369.5 335.8 L371.6 335.8 L373.7 335.4 L376 334.6 L378.5 333.6 L381.2 332.5 L384.3 331.3 L387.8 330 L391.6 328.3 L395.6 326.4 L399.9 324.6 L404.4 322.9 L409 321.5 L414.3 320.3 L420.4 319.3 L426.6 318.4 L432.5 317.6 L437.6 317 L441.2 316.5" fill="none" stroke="#1a1a1a" stroke-width="1.9" stroke-linejoin="round" stroke-dasharray="1.3 1.9"/>
<path d="M330 407.2 L333.3 405.3 L337.9 402.6 L343.3 399.5 L349 396.3 L354.6 393.2 L359.6 390.6 L364 388.6 L368.2 386.7 L372.3 385.1 L376.3 383.6 L380.3 382.1 L384.3 380.8 L388.4 379.4 L392.3 378.2 L396.2 377 L400.3 375.9 L404.5 374.9 L409 373.8 L414.3 372.8 L420.4 371.7 L426.6 370.7 L432.5 369.8 L437.6 369 L441.2 368.4" fill="none" stroke="#1a1a1a" stroke-width="2" stroke-linejoin="round" stroke-dasharray="6 1.2"/>
<path d="M218.8 355.4V377.4M231.9 358.6V380.6M244.8 338.9V360.9M257.1 340.8V362.8M270.4 342.8V364.8M282.3 328.5V350.5M295.4 334.7V356.7M309 338.6V360.6M323.8 328.5V350.5M336.4 314.2V336.2M348.5 307.5V329.5M360.9 329V351M374 345V367M385.1 332.2V354.2M397.2 331.2V353.2M408.5 318.6V340.6M420.4 306.3V328.3M432.3 318.9V340.9M415.7 342.8V364.8M428.6 375.4V397.4M291.7 334.4V356.4M304.3 332.7V354.7M316.9 334.4V356.4M329.2 328.7V350.7M341.8 326.3V348.3M354.4 325.5V347.5M366.5 328.7V350.7M378.2 334.9V356.9M390.8 324.5V346.5" fill="none" stroke="#444" stroke-width="1" />
<path d="M291.7 345.4h0M304.3 343.7h0M316.9 345.4h0M329.2 339.7h0M341.8 337.3h0M354.4 336.5h0M366.5 339.7h0M378.2 345.9h0M390.8 335.5h0" fill="none" stroke="#222" stroke-width="8.9" stroke-linecap="round"/>
<path d="M291.7 345.4h0M304.3 343.7h0M316.9 345.4h0M329.2 339.7h0M341.8 337.3h0M354.4 336.5h0M366.5 339.7h0M378.2 345.9h0M390.8 335.5h0" fill="none" stroke="#fff" stroke-width="7.1" stroke-linecap="round"/>
<path d="M218.8 366.4h0M231.9 369.6h0M244.8 349.9h0M257.1 351.8h0M270.4 353.8h0M282.3 339.5h0M295.4 345.7h0M309 349.6h0M323.8 339.5h0M336.4 325.2h0M348.5 318.5h0M360.9 340h0M374 356h0M385.1 343.2h0M397.2 342.2h0M408.5 329.6h0M420.4 317.3h0M432.3 329.9h0M415.7 353.8h0M428.6 386.4h0" fill="none" stroke="#151515" stroke-width="8.6" stroke-linecap="round"/>
<path d="M441.3 314.5 L447 314 L454.8 313.2 L464.1 312.3 L474.4 311.4 L485.2 310.5 L496.1 309.9 L507 309.3 L518.2 308.9 L530 308.6 L542.4 308.3 L555.8 308 L570.2 307.6 L587.3 307.3 L607.2 306.9 L628 306.5 L647.7 306.2 L664.5 305.9 L676.4 305.7" fill="none" stroke="#1a1a1a" stroke-width="0.8" stroke-linejoin="round" />
<path d="M441.3 316.5 L447 316 L454.8 315.2 L464.1 314.2 L474.4 313.2 L485.2 312.3 L496.1 311.6 L507 311 L518.2 310.5 L530 310.1 L542.4 309.7 L555.8 309.3 L570.2 308.9 L587.3 308.4 L607.2 307.9 L628 307.5 L647.7 307 L664.5 306.7 L676.4 306.4" fill="none" stroke="#1a1a1a" stroke-width="2" stroke-linejoin="round" stroke-dasharray="4 2"/>
<path d="M441.3 368.4 L447.3 367.1 L455.7 365.3 L465.6 363.1 L476.2 360.9 L486.7 359.1 L496.1 357.8 L504.7 357.2 L513 357.1 L521.2 357.3 L529.3 357.6 L537.3 357.8 L545.5 357.8 L553.9 357.5 L562.4 357.1 L571 356.7 L579.4 356.1 L587.4 355.5 L594.9 354.8 L601.7 354 L607.9 353.1 L613.8 352 L619.5 350.9 L625.5 349.8 L632 348.6 L639.5 347.3 L647.9 345.8 L656.5 344.3 L664.6 342.8 L671.5 341.6 L676.4 340.7" fill="none" stroke="#1a1a1a" stroke-width="0.8" stroke-linejoin="round" />
<path d="M441.3 368.4 L447.4 367.2 L456.1 365.4 L466.4 363.4 L477.1 361.2 L487.4 359.3 L496.1 357.8 L503.3 356.7 L509.8 356 L515.8 355.4 L521.5 354.9 L527.2 354.3 L533.2 353.6 L539.6 352.7 L546.4 351.8 L553.2 350.9 L559.7 349.9 L565.5 348.7 L570.2 347.4 L573.8 345.8 L576.4 343.8 L578.2 341.8 L579.7 339.7 L581.1 337.8 L582.6 336.3 L584.1 334.8 L585.5 333.2 L586.7 331.7 L587.9 330.7 L588.9 330.5 L590 331.3 L591 333.4 L591.8 336.7 L592.6 340.6 L593.4 345 L594.1 349.4 L594.9 353.6 L595.7 357.7 L596.5 362.2 L597.3 366.7 L598.1 371 L599 375 L599.9 378.3 L600.8 381.1 L601.8 383.7 L602.9 385.8 L603.9 387.4 L605 388.4 L606 388.7 L607.1 387.8 L608.1 386 L609.1 383.5 L610.1 380.7 L611.1 378 L612.2 375.8 L613.2 374 L614 372.3 L614.8 370.7 L615.8 369.1 L617.4 367.5 L619.6 365.9 L622.7 364.3 L626.3 362.7 L630.4 361.1 L634.9 359.5 L639.6 357.8 L644.3 356 L649.6 354 L655.7 351.7 L661.9 349.3 L667.8 347 L672.9 345.1 L676.4 343.7" fill="none" stroke="#1a1a1a" stroke-width="1.7" stroke-linejoin="round" stroke-dasharray="4 2"/>
<path d="M533.2 353.1 L537.5 352.2 L543.6 350.9 L550.8 349.3 L558.1 347.7 L564.9 346.2 L570.2 344.9 L574 343.8 L577 342.6 L579.3 341.6 L581.3 340.7 L583.1 340.1 L585 340 L587 340.4 L588.7 341.2 L590.2 342.3 L591.7 343.6 L593.3 344.9 L594.9 346.2 L596.7 347.5 L598.4 349.1 L600.3 350.8 L602.1 352.3 L604 353.4 L606 354.1 L608 354.1 L610 353.7 L612 352.9 L614.2 352 L616.7 350.9 L619.6 349.9 L623 348.8 L626.8 347.6 L630.8 346.3 L635.1 345 L639.7 343.7 L644.3 342.5 L649.6 341.2 L655.7 339.9 L661.9 338.7 L667.8 337.5 L672.9 336.5 L676.4 335.8" fill="none" stroke="#1a1a1a" stroke-width="1.9" stroke-linejoin="round" stroke-dasharray="1.3 1.9"/>
<path d="M454.6 375.9V396.5M467.9 368V388.6M480.5 363.8V384.4M493.4 345.7V366.3M506.5 360.1V380.7M518.6 331.2V351.8M530.9 322.5V343.1M545.3 340.8V361.4M558.6 331.7V352.3M572 298.6V319.2M583.6 313.4V334M596.2 374.9V395.5M609.5 364.3V384.9M620.6 347.5V368.1M632.2 348.7V369.3M644.1 343.5V364.1M655.7 335.6V356.2M667.6 339.3V359.9" fill="none" stroke="#444" stroke-width="1" />
<path d="M454.6 386.2h0M467.9 378.3h0M480.5 374.1h0M493.4 356h0M506.5 370.4h0M518.6 341.5h0M530.9 332.8h0M545.3 351.1h0M558.6 342h0M572 308.9h0M583.6 323.7h0M596.2 385.2h0M609.5 374.6h0M620.6 357.8h0M632.2 359h0M644.1 353.8h0M655.7 345.9h0M667.6 349.6h0" fill="none" stroke="#151515" stroke-width="8.6" stroke-linecap="round"/>
<path d="M205.8 514.1 L209.3 513.5 L214.1 512.7 L219.9 511.7 L226 510.8 L232.1 509.9 L237.4 509.2 L242.2 508.7 L246.6 508.3 L250.9 507.9 L255.3 507.7 L259.8 507.6 L264.6 507.7 L269.8 508 L275.3 508.4 L281 509 L286.7 509.8 L292.4 510.6 L297.8 511.7 L303 512.9 L308.1 514.3 L313.1 515.9 L318 517.5 L323 519.1 L328 520.7 L333.1 522.3 L338.4 523.9 L343.6 525.6 L348.8 527.1 L353.6 528.6 L358.1 529.8 L362.2 530.7 L365.7 531.5 L369.1 532.1 L372.3 532.6 L375.7 533 L379.3 533.4 L383 533.8 L386.6 534.1 L390.3 534.3 L394.2 534.5 L398.6 534.6 L403.4 534.6 L409.4 534.5 L416.4 534.2 L423.8 533.9 L430.9 533.6 L436.9 533.3 L441.1 533.1" fill="none" stroke="#1a1a1a" stroke-width="0.8" stroke-linejoin="round" />
<path d="M205.8 514.1 L212.5 513.3 L222 512.1 L233.1 510.8 L244.7 509.6 L255.6 508.5 L264.6 508 L271.7 508 L277.7 508.4 L283 509.1 L287.9 509.9 L292.7 510.8 L297.8 511.7 L303.1 512.7 L308.4 514.1 L313.6 515.6 L318.7 516.9 L323.5 517.9 L328 518.3 L332.2 518 L336.1 517 L339.9 515.7 L343.3 514.3 L346.4 513.1 L349.1 512.3 L351.4 511.6 L353.3 510.9 L354.8 510.4 L356.1 510.3 L357.2 510.8 L358.1 512.3 L358.8 514.9 L359.2 518.7 L359.3 523.2 L359.3 527.8 L359.4 532.2 L359.7 535.8 L360 538.8 L360.3 541.6 L360.6 544.2 L361.1 546.3 L361.7 548.1 L362.7 549.4 L363.9 550 L365.4 550.2 L367 549.8 L368.9 549.3 L371 548.6 L373.2 547.9 L375.7 547.1 L378.4 546.1 L381.3 544.9 L384.4 543.7 L387.7 542.7 L391.3 541.8 L395.4 541.2 L399.9 540.7 L404.6 540.3 L409.5 540 L414.1 539.7 L418.5 539.4 L422.8 539.1 L427.2 538.9 L431.5 538.7 L435.4 538.5 L438.7 538.3 L441.1 538.2" fill="none" stroke="#1a1a1a" stroke-width="1.7" stroke-linejoin="round" stroke-dasharray="4 2"/>
<path d="M297.8 512.3 L303.1 512.9 L310.8 513.8 L319.7 514.8 L328.8 515.9 L336.9 516.9 L343.1 517.7 L347.1 518.2 L349.8 518.5 L351.5 518.8 L352.8 519.1 L353.9 519.7 L355.1 520.7 L356.4 522.3 L357.4 524.3 L358.1 526.6 L358.9 529 L359.9 531.1 L361.2 532.8 L362.8 534 L364.5 534.9 L366.4 535.6 L368.5 536.2 L370.8 536.7 L373.2 537.3 L375.5 537.9 L377.7 538.6 L379.9 539.2 L382.7 539.7 L386.4 540.1 L391.3 540.3 L398.4 540.3 L407.4 540.1 L417.4 539.8 L427.1 539.4 L435.4 539 L441.1 538.8" fill="none" stroke="#1a1a1a" stroke-width="1.9" stroke-linejoin="round" stroke-dasharray="1.3 1.9"/>
<path d="M219.3 515.5V532.5M232.6 509.2V526.2M245.6 508.6V525.6M258 505.9V522.9M271.2 511.6V528.6M283.9 514.3V531.3M296.3 491.1V508.1M309.6 500.1V517.1M324 508.6V525.6M336.4 505V522M348.2 512.2V529.2M360.9 533.9V550.9M372.9 540V557M385 529.1V546.1M397.1 538.5V555.5M408.8 547.8V564.8M420.6 549.3V566.3M291.8 495.9V512.9M303.8 495.3V512.3M316.5 497.1V514.1M329.5 491.7V508.7M341.9 503.5V520.5M354.2 512.2V529.2M366.3 516.1V533.1M378.1 516.4V533.4M390.7 524.6V541.6" fill="none" stroke="#444" stroke-width="1" />
<path d="M291.8 504.4h0M303.8 503.8h0M316.5 505.6h0M329.5 500.2h0M341.9 512h0M354.2 520.7h0M366.3 524.6h0M378.1 524.9h0M390.7 533.1h0" fill="none" stroke="#222" stroke-width="8.9" stroke-linecap="round"/>
<path d="M291.8 504.4h0M303.8 503.8h0M316.5 505.6h0M329.5 500.2h0M341.9 512h0M354.2 520.7h0M366.3 524.6h0M378.1 524.9h0M390.7 533.1h0" fill="none" stroke="#fff" stroke-width="7.1" stroke-linecap="round"/>
<path d="M219.3 524h0M232.6 517.7h0M245.6 517.1h0M258 514.4h0M271.2 520.1h0M283.9 522.8h0M296.3 499.6h0M309.6 508.6h0M324 517.1h0M336.4 513.5h0M348.2 520.7h0M360.9 542.4h0M372.9 548.5h0M385 537.6h0M397.1 547h0M408.8 556.3h0M420.6 557.8h0" fill="none" stroke="#151515" stroke-width="8.6" stroke-linecap="round"/></svg>
<div class="l" style="left:70.8px;top:46.4px;font-size:13px;transform:scaleX(1.0513);">626</div>
<div class="l" style="left:364.0px;top:46.4px;font-size:13.6px;transform:scaleX(1.0161);letter-spacing:0.5px">KUZNETSOV<span style="letter-spacing:0;word-spacing:1.5px"> et al.</span></div>
<div class="l" style="left:90.9px;top:644.9px;font-size:11.7px;word-spacing:-0.13px;transform:scaleX(1.1000);"><b>Fig. 2.</b> Beam asymmetry for the γ<i>p</i><span class="ar">→</span>η<i>p</i> reaction (figure from [15]). Black circles are the data from [15] and open circles are the</div>
<div class="l" style="left:90.9px;top:659.1px;font-size:11.7px;word-spacing:0.39px;transform:scaleX(1.1000);">data from [16]. (Problems in their analysis that led to this conclusion were discussed in detail in [15]. At time of the preparation</div>
<div class="l" style="left:90.9px;top:672.9px;font-size:11.7px;transform:scaleX(1.1000);">of this manuscript, this critique remains unreplied.) The solid line is the solution of the SAID partial-wave analysis without a nar-</div>
<div class="l" style="left:90.9px;top:689.0px;font-size:11.7px;word-spacing:0.89px;transform:scaleX(1.1000);">row resonance. Dashed, dash-dotted, and dotted lines indicate the same solution with the narrow <i>P</i><sub>11</sub>, <i>P</i><sub>13</sub>, and <i>D</i><sub>13</sub> resonances,</div>
<div class="l" style="left:90.9px;top:704.2px;font-size:11.7px;word-spacing:0.18px;transform:scaleX(1.1000);">respectively. See [15] for details. It is worth to noting that the authors of this paper arrived at a different conclusion.</div>
<div class="l" style="left:70.8px;top:754.1px;font-size:14.4px;word-spacing:1.96px;transform:scaleX(1.1050);"><i>J</i><sup style="margin-left:2px"><i>P</i></sup> = 1/2<sup>+</sup> resonance is excellent, the inclusion of it</div>
<div class="l" style="left:70.8px;top:770.6px;font-size:14.4px;word-spacing:2.41px;transform:scaleX(1.1050);">with the reported properties leads to a significantly</div>
<div class="l" style="left:70.8px;top:786.7px;font-size:14.4px;word-spacing:3.14px;transform:scaleX(1.1050);">worse description of the (γ<i>n</i><span class="ar">→</span>η<i>n</i>) data ... our fit</div>
<div class="l" style="left:70.8px;top:802.8px;font-size:14.4px;word-spacing:4.18px;transform:scaleX(1.1050);">without an introduction of a narrow resonance ...</div>
<div class="l" style="left:70.8px;top:826.5px;font-size:14.4px;word-spacing:1.37px;transform:scaleX(1.1050);">returns a χ<sup>2</sup> = 1205 for 1150 data points. Obviously,</div>
<div class="l" style="left:70.8px;top:844.0px;font-size:14.4px;word-spacing:5.33px;transform:scaleX(1.1050);">there is no need to introduce <i>N</i>(1685) ... When</div>
<div class="l" style="left:70.8px;top:868.1px;font-size:14.4px;word-spacing:0.28px;transform:scaleX(1.1050);"><i>N</i>(1685) was enforced ...the fit returned χ<sup>2</sup> = 1834 for</div>
<div class="l" style="left:70.8px;top:884.3px;font-size:14.4px;word-spacing:4.04px;transform:scaleX(1.1050);">1150 data points...” Definitely, there is a need to</div>
<div class="l" style="left:70.8px;top:900.4px;font-size:14.4px;word-spacing:0.40px;transform:scaleX(1.1050);">examine contradicting assumptions.</div>
<div class="l" style="left:92.3px;top:927.7px;font-size:14.4px;word-spacing:0.53px;transform:scaleX(1.1050);">First, one should point out one technical problem.</div>
<div class="l" style="left:70.8px;top:944.2px;font-size:14.4px;word-spacing:4.65px;transform:scaleX(1.1050);">In the case of photon interaction with a neutron</div>
<div class="l" style="left:70.8px;top:960.3px;font-size:14.4px;word-spacing:0.02px;transform:scaleX(1.1050);">bound in a deuteron target, Fermi motion of the target</div>
<div class="l" style="left:70.8px;top:976.4px;font-size:14.4px;word-spacing:1.57px;transform:scaleX(1.1050);">neutron changes the effective energy of this interac-</div>
<div class="l" style="left:70.8px;top:992.6px;font-size:14.4px;word-spacing:0.22px;transform:scaleX(1.1050);">tion and affects momenta of outgoing particles. Some</div>
<div class="l" style="left:70.8px;top:1009.0px;font-size:14.4px;word-spacing:1.88px;transform:scaleX(1.1050);">events may suffer from the final-state interaction of</div>
<div class="l" style="left:433.9px;top:746.6px;font-size:14.4px;word-spacing:1.98px;transform:scaleX(1.1050);">reaction products. Kinematics of events is “peaked”</div>
<div class="l" style="left:433.9px;top:765.6px;font-size:14.4px;word-spacing:0.61px;transform:scaleX(1.1050);">around that on a free neutron.</div>
<div class="l" style="left:455.4px;top:793.0px;font-size:14.4px;word-spacing:0.05px;transform:scaleX(1.1050);">Cuts used for the selection of events in data analy-</div>
<div class="l" style="left:433.9px;top:811.7px;font-size:14.4px;word-spacing:0.43px;transform:scaleX(1.1050);">ses (e.g., the cut on the neutron missing mass), elimi-</div>
<div class="l" style="left:433.9px;top:830.2px;font-size:14.4px;word-spacing:2.43px;transform:scaleX(1.1050);">nate not only the background but also those events</div>
<div class="l" style="left:433.9px;top:849.7px;font-size:14.4px;word-spacing:5.64px;transform:scaleX(1.1050);">whose kinematics is stronger distorted by Fermi</div>
<div class="l" style="left:433.9px;top:868.5px;font-size:14.4px;word-spacing:2.52px;transform:scaleX(1.1050);">motion. The quality of the rejection of such events</div>
<div class="l" style="left:433.9px;top:886.9px;font-size:14.4px;word-spacing:0.26px;transform:scaleX(1.1050);">depends on response functions of detectors.</div>
<div class="l" style="left:455.4px;top:914.2px;font-size:14.4px;word-spacing:-0.76px;transform:scaleX(1.1050);">The cuts affect the shape of quasi-free cross section</div>
<div class="l" style="left:433.9px;top:933.0px;font-size:14.4px;word-spacing:1.88px;transform:scaleX(1.1050);">and, in the case of γ<i>n</i><span class="ar">→</span>η<i>n</i>, may change the width</div>
<div class="l" style="left:433.9px;top:951.4px;font-size:14.4px;word-spacing:-0.21px;transform:scaleX(1.1050);">and the position of the observed peak. The tighter cuts</div>
<div class="l" style="left:433.9px;top:972.2px;font-size:14.4px;word-spacing:0.90px;transform:scaleX(1.1050);">make the peak at <i>W</i>&ensp;~&#8197;1.68 GeV narrower and better</div>
<div class="l" style="left:433.9px;top:990.6px;font-size:14.4px;word-spacing:7.62px;transform:scaleX(1.1050);">pronounced. The influence of the cuts on the</div>
<div class="l" style="left:433.9px;top:1009.0px;font-size:14.4px;word-spacing:-0.10px;transform:scaleX(1.1050);">γ<i>n</i><span class="ar">→</span>η<i>n</i> cross section is discussed in detail in [1].</div>
<div class="l" style="left:496.0px;top:1044.6px;font-size:13px;transform:scaleX(1.0138);letter-spacing:0.3px">JETP LETTERS</div>
<div class="l" style="left:608.4px;top:1044.6px;font-size:13px;transform:scaleX(1.0085);">Vol. 105</div>
<div class="l" style="left:674.2px;top:1044.6px;font-size:13px;transform:scaleX(1.0342);">No. 10</div>
<div class="l" style="left:731.8px;top:1044.6px;font-size:13px;transform:scaleX(0.9423);">2017</div>
</div>
<div class="pg" style="left:1696px">
<svg width="848" height="1200" viewBox="0 0 848 1200"><rect x="192" y="83.6" width="229.4" height="252.2" fill="none" stroke="#333" stroke-width="1.1"/>
<rect x="462" y="83.6" width="229.4" height="252.2" fill="none" stroke="#333" stroke-width="1.1"/>
<rect x="191.8" y="356.7" width="230.8" height="251.8" fill="none" stroke="#333" stroke-width="1.1"/>
<rect x="461.8" y="356.7" width="231.2" height="251.8" fill="none" stroke="#333" stroke-width="1.1"/>
<path d="M192 83.6H202M192 92.6H197M192 101.6H197M192 110.6H197M192 119.6H202M192 128.6H197M192 137.6H197M192 146.7H197M192 155.7H202M192 164.7H197M192 173.7H197M192 182.7H197M192 191.7H202M192 200.7H197M192 209.7H197M192 218.7H197M192 227.7H202M192 236.7H197M192 245.7H197M192 254.7H197M192 263.8H202M192 272.8H197M192 281.8H197M192 290.8H197M192 299.8H202M192 308.8H197M192 317.8H197M192 326.8H197M192 335.8H202" fill="none" stroke="#333" stroke-width="1" />
<text transform="translate(187,90.8) scale(1.03,1)" font-size="14" text-anchor="end" >0.6</text>
<text transform="translate(187,126.8) scale(1.03,1)" font-size="14" text-anchor="end" >0.4</text>
<text transform="translate(187,162.9) scale(1.03,1)" font-size="14" text-anchor="end" >0.2</text>
<text transform="translate(187,198.9) scale(1.03,1)" font-size="14" text-anchor="end" >0</text>
<text transform="translate(187,234.9) scale(1.03,1)" font-size="14" text-anchor="end" >–0.2</text>
<text transform="translate(187,270.9) scale(1.03,1)" font-size="14" text-anchor="end" >–0.4</text>
<text transform="translate(187,307) scale(1.03,1)" font-size="14" text-anchor="end" >–0.6</text>
<text transform="translate(187,343) scale(1.03,1)" font-size="14" text-anchor="end" >–0.8</text>
<path d="M462 83.6H472M462 89.9H467M462 96.2H467M462 102.5H467M462 108.8H467M462 115.1H472M462 121.4H467M462 127.7H467M462 134H467M462 140.4H467M462 146.7H472M462 153H467M462 159.3H467M462 165.6H467M462 171.9H467M462 178.2H472M462 184.5H467M462 190.8H467M462 197.1H467M462 203.4H467M462 209.7H472M462 216H467M462 222.3H467M462 228.6H467M462 234.9H467M462 241.2H472M462 247.6H467M462 253.9H467M462 260.2H467M462 266.5H467M462 272.8H472M462 279.1H467M462 285.4H467M462 291.7H467M462 298H467M462 304.3H472M462 310.6H467M462 316.9H467M462 323.2H467M462 329.5H467M462 335.8H472" fill="none" stroke="#333" stroke-width="1" />
<text transform="translate(457,90.8) scale(1.03,1)" font-size="14" text-anchor="end" >0.4</text>
<text transform="translate(457,122.3) scale(1.03,1)" font-size="14" text-anchor="end" >0.3</text>
<text transform="translate(457,153.9) scale(1.03,1)" font-size="14" text-anchor="end" >0.2</text>
<text transform="translate(457,185.4) scale(1.03,1)" font-size="14" text-anchor="end" >0.1</text>
<text transform="translate(457,216.9) scale(1.03,1)" font-size="14" text-anchor="end" >0</text>
<text transform="translate(457,248.4) scale(1.03,1)" font-size="14" text-anchor="end" >–0.1</text>
<text transform="translate(457,280) scale(1.03,1)" font-size="14" text-anchor="end" >–0.2</text>
<text transform="translate(457,311.5) scale(1.03,1)" font-size="14" text-anchor="end" >–0.3</text>
<text transform="translate(457,343) scale(1.03,1)" font-size="14" text-anchor="end" >–0.4</text>
<path d="M191.8 356.7H201.8M191.8 363H196.8M191.8 369.3H196.8M191.8 375.6H196.8M191.8 381.9H196.8M191.8 388.2H201.8M191.8 394.5H196.8M191.8 400.8H196.8M191.8 407.1H196.8M191.8 413.4H196.8M191.8 419.7H201.8M191.8 426H196.8M191.8 432.3H196.8M191.8 438.5H196.8M191.8 444.8H196.8M191.8 451.1H201.8M191.8 457.4H196.8M191.8 463.7H196.8M191.8 470H196.8M191.8 476.3H196.8M191.8 482.6H201.8M191.8 488.9H196.8M191.8 495.2H196.8M191.8 501.5H196.8M191.8 507.8H196.8M191.8 514.1H201.8M191.8 520.4H196.8M191.8 526.7H196.8M191.8 533H196.8M191.8 539.3H196.8M191.8 545.6H201.8M191.8 551.9H196.8M191.8 558.2H196.8M191.8 564.5H196.8M191.8 570.8H196.8M191.8 577.1H201.8M191.8 583.4H196.8M191.8 589.7H196.8M191.8 595.9H196.8M191.8 602.2H196.8M191.8 608.5H201.8" fill="none" stroke="#333" stroke-width="1" />
<text transform="translate(187,363.9) scale(1.03,1)" font-size="14" text-anchor="end" >0.4</text>
<text transform="translate(187,395.4) scale(1.03,1)" font-size="14" text-anchor="end" >0.3</text>
<text transform="translate(187,426.9) scale(1.03,1)" font-size="14" text-anchor="end" >0.2</text>
<text transform="translate(187,458.3) scale(1.03,1)" font-size="14" text-anchor="end" >0.1</text>
<text transform="translate(187,489.8) scale(1.03,1)" font-size="14" text-anchor="end" >0</text>
<text transform="translate(187,521.3) scale(1.03,1)" font-size="14" text-anchor="end" >–0.1</text>
<text transform="translate(187,552.8) scale(1.03,1)" font-size="14" text-anchor="end" >–0.2</text>
<text transform="translate(187,584.3) scale(1.03,1)" font-size="14" text-anchor="end" >–0.3</text>
<text transform="translate(187,615.7) scale(1.03,1)" font-size="14" text-anchor="end" >–0.4</text>
<path d="M461.8 356.7H471.8M461.8 363H466.8M461.8 369.3H466.8M461.8 375.6H466.8M461.8 381.9H466.8M461.8 388.2H471.8M461.8 394.5H466.8M461.8 400.8H466.8M461.8 407.1H466.8M461.8 413.4H466.8M461.8 419.7H471.8M461.8 426H466.8M461.8 432.3H466.8M461.8 438.5H466.8M461.8 444.8H466.8M461.8 451.1H471.8M461.8 457.4H466.8M461.8 463.7H466.8M461.8 470H466.8M461.8 476.3H466.8M461.8 482.6H471.8M461.8 488.9H466.8M461.8 495.2H466.8M461.8 501.5H466.8M461.8 507.8H466.8M461.8 514.1H471.8M461.8 520.4H466.8M461.8 526.7H466.8M461.8 533H466.8M461.8 539.3H466.8M461.8 545.6H471.8M461.8 551.9H466.8M461.8 558.2H466.8M461.8 564.5H466.8M461.8 570.8H466.8M461.8 577.1H471.8M461.8 583.4H466.8M461.8 589.7H466.8M461.8 595.9H466.8M461.8 602.2H466.8M461.8 608.5H471.8" fill="none" stroke="#333" stroke-width="1" />
<text transform="translate(457,363.9) scale(1.03,1)" font-size="14" text-anchor="end" >0.4</text>
<text transform="translate(457,395.4) scale(1.03,1)" font-size="14" text-anchor="end" >0.3</text>
<text transform="translate(457,426.9) scale(1.03,1)" font-size="14" text-anchor="end" >0.2</text>
<text transform="translate(457,458.3) scale(1.03,1)" font-size="14" text-anchor="end" >0.1</text>
<text transform="translate(457,489.8) scale(1.03,1)" font-size="14" text-anchor="end" >0</text>
<text transform="translate(457,521.3) scale(1.03,1)" font-size="14" text-anchor="end" >–0.1</text>
<text transform="translate(457,552.8) scale(1.03,1)" font-size="14" text-anchor="end" >–0.2</text>
<text transform="translate(457,584.3) scale(1.03,1)" font-size="14" text-anchor="end" >–0.3</text>
<text transform="translate(457,615.7) scale(1.03,1)" font-size="14" text-anchor="end" >–0.4</text>
<path d="M197.7 335.8V330.8M209.2 335.8V330.8M220.7 335.8V325.8M232.2 335.8V330.8M243.7 335.8V330.8M255.2 335.8V330.8M266.7 335.8V330.8M278.2 335.8V325.8M289.8 335.8V330.8M301.3 335.8V330.8M312.8 335.8V330.8M324.3 335.8V330.8M335.8 335.8V325.8M347.3 335.8V330.8M358.8 335.8V330.8M370.3 335.8V330.8M381.8 335.8V330.8M393.4 335.8V325.8M404.9 335.8V330.8M416.4 335.8V330.8M467.8 335.8V330.8M479.3 335.8V330.8M490.8 335.8V325.8M502.3 335.8V330.8M513.8 335.8V330.8M525.3 335.8V330.8M536.8 335.8V330.8M548.4 335.8V325.8M559.9 335.8V330.8M571.4 335.8V330.8M582.9 335.8V330.8M594.4 335.8V330.8M605.9 335.8V325.8M617.4 335.8V330.8M628.9 335.8V330.8M640.4 335.8V330.8M651.9 335.8V330.8M663.5 335.8V325.8M675 335.8V330.8M686.5 335.8V330.8M197.8 608.5V603.5M209.3 608.5V603.5M220.8 608.5V598.5M232.3 608.5V603.5M243.8 608.5V603.5M255.3 608.5V603.5M266.8 608.5V603.5M278.4 608.5V598.5M289.9 608.5V603.5M301.4 608.5V603.5M312.9 608.5V603.5M324.4 608.5V603.5M335.9 608.5V598.5M347.4 608.5V603.5M358.9 608.5V603.5M370.4 608.5V603.5M381.9 608.5V603.5M393.5 608.5V598.5M405 608.5V603.5M416.5 608.5V603.5" fill="none" stroke="#333" stroke-width="1" />
<text transform="translate(220.8,624.5) scale(1.03,1)" font-size="14" text-anchor="middle" >0.9</text>
<text transform="translate(278.4,624.5) scale(1.03,1)" font-size="14" text-anchor="middle" >1.0</text>
<text transform="translate(335.9,624.5) scale(1.03,1)" font-size="14" text-anchor="middle" >1.1</text>
<text transform="translate(393.4,624.5) scale(1.03,1)" font-size="14" text-anchor="middle" >1.2</text>
<path d="M468.4 608.5V603.5M479.9 608.5V603.5M491.4 608.5V598.5M502.9 608.5V603.5M514.4 608.5V603.5M525.9 608.5V603.5M537.4 608.5V603.5M548.9 608.5V598.5M560.5 608.5V603.5M572 608.5V603.5M583.5 608.5V603.5M595 608.5V603.5M606.5 608.5V598.5M618 608.5V603.5M629.5 608.5V603.5M641 608.5V603.5M652.5 608.5V603.5M664 608.5V598.5M675.6 608.5V603.5M687.1 608.5V603.5" fill="none" stroke="#333" stroke-width="1" />
<text transform="translate(491.4,624.5) scale(1.03,1)" font-size="14" text-anchor="middle" >0.9</text>
<text transform="translate(548.9,624.5) scale(1.03,1)" font-size="14" text-anchor="middle" >1.0</text>
<text transform="translate(606.5,624.5) scale(1.03,1)" font-size="14" text-anchor="middle" >1.1</text>
<text transform="translate(664,624.5) scale(1.03,1)" font-size="14" text-anchor="middle" >1.2</text>
<text transform="translate(154.4,107.6) scale(1.06,1)" font-size="12.5" text-anchor="start" >Σ</text>
<text transform="translate(279.2,119.9) scale(1.0,1)" font-size="14" text-anchor="start" >131°</text>
<text transform="translate(549.2,115.5) scale(1.0,1)" font-size="14" text-anchor="start" >143°</text>
<text transform="translate(273.4,387.4) scale(1.06,1)" font-size="13.5" text-anchor="start" >157°</text>
<text transform="translate(543.4,387.4) scale(1.06,1)" font-size="13.5" text-anchor="start" >Sum</text>
<text transform="translate(413.1,641.7) scale(1.06,1)" font-size="14" text-anchor="start" ><tspan font-style="italic">E</tspan><tspan font-size="10" dy="3">γ</tspan><tspan dy="-3">  (GeV)</tspan></text>
<path d="M192 155.5 L201.5 155.5 L201.5 192.5" fill="none" stroke="#555" stroke-width="0.8" stroke-linejoin="round" />
<path d="M191.8 486 L202 486 L202 514.5 L191.8 514.5" fill="none" stroke="#555" stroke-width="0.8" stroke-linejoin="round" />
<path d="M203.2 165.3V199.1M213.1 156.4V190.2M222.4 145.7V179.5M232 145.7V179.5M241.6 173.7V207.5M250.8 181.8V215.6M260 214.8V248.6M269.2 215.2V249M278.4 240.5V274.3M287.7 202.1V235.9M296.1 179.9V213.7M305.3 216V249.8M314.2 219.8V253.6M322.6 238.6V272.4M331.1 207.9V241.7M340.3 183.3V217.1M348.7 170.6V204.4M357.6 198.7V232.5M366 241.7V303.2M374.9 236.7V298.2M383.3 215.2V276.7M391.8 206V267.4M400.2 203.7V265.1M405.2 249V310.5M408.7 195.6V257.1M415.2 175.2V236.7M417.1 174.1V235.6M202.8 151V184.8M212 186.8V220.6M221.6 166.4V200.2M231.2 172.9V206.7M240.8 166.8V200.6M250 169.1V202.9M259.2 189.5V223.3M268.8 200.6V234.4M277.3 212.5V246.3M286.5 224.8V258.6M295.3 194.8V228.6M303.8 188.3V222.1M312.2 235.9V269.7M318.8 232.1V265.9M325.3 243.2V277M331.4 260.5V294.3M405.2 192.9V254.4M414 185.6V247.1" fill="none" stroke="#444" stroke-width="1" />
<path d="M202.8 167.9h0M212 203.7h0M221.6 183.3h0M231.2 189.8h0M240.8 183.7h0M250 186h0M259.2 206.4h0M268.8 217.5h0M277.3 229.4h0M286.5 241.7h0M295.3 211.7h0M303.8 205.2h0M312.2 252.8h0M318.8 249h0M325.3 260.1h0M331.4 277.4h0M405.2 223.6h0M414 216.3h0" fill="none" stroke="#222" stroke-width="7.7" stroke-linecap="round"/>
<path d="M202.8 167.9h0M212 203.7h0M221.6 183.3h0M231.2 189.8h0M240.8 183.7h0M250 186h0M259.2 206.4h0M268.8 217.5h0M277.3 229.4h0M286.5 241.7h0M295.3 211.7h0M303.8 205.2h0M312.2 252.8h0M318.8 249h0M325.3 260.1h0M331.4 277.4h0M405.2 223.6h0M414 216.3h0" fill="none" stroke="#fff" stroke-width="5.9" stroke-linecap="round"/>
<path d="M203.2 182.2h0M213.1 173.3h0M222.4 162.6h0M232 162.6h0M241.6 190.6h0M250.8 198.7h0M260 231.7h0M269.2 232.1h0M278.4 257.4h0M287.7 219h0M296.1 196.8h0M305.3 232.9h0M314.2 236.7h0M322.6 255.5h0M331.1 224.8h0M340.3 200.2h0M348.7 187.5h0M357.6 215.6h0M366 272.4h0M374.9 267.4h0M383.3 245.9h0M391.8 236.7h0M400.2 234.4h0M405.2 279.7h0M408.7 226.3h0M415.2 206h0M417.1 204.8h0" fill="none" stroke="#151515" stroke-width="7.2" stroke-linecap="round"/>
<path d="M473.5 194.8V237.1M483.1 163V205.2M492.7 168.3V210.6M502 184.1V226.3M511.2 174.5V216.7M520.8 161.8V204.1M530.4 180.6V222.9M539.6 189.5V231.7M548.1 207.9V250.1M557.7 189.8V232.1M566.5 158V200.2M575.3 198.7V240.9M584.2 225.6V267.8M592.6 231.3V273.6M601.8 249V291.2M610.3 174.5V243.6M619.1 138.4V207.5M627.6 211.4V280.5M636.4 225.9V295.1M644.9 193.3V262.4M653.7 196.8V265.9M661.8 178.3V247.5M670.2 219V288.2M679 156.8V225.9M687.1 119.2V188.3M473.2 154.5V196.8M482.4 178.7V221M492.4 163.3V205.6M501.6 164.1V206.4M510.4 159.9V202.1M519.6 189.1V231.3M529.2 187.5V229.8M538.1 172.9V215.2M546.9 208.3V250.5M556.1 196.8V239M565 175.2V217.5M573.4 212.9V255.1M582.2 256.7V298.9M589.2 248.6V290.9M595.3 236.7V279M602.2 231.7V274" fill="none" stroke="#444" stroke-width="1" />
<path d="M473.2 175.6h0M482.4 199.8h0M492.4 184.5h0M501.6 185.2h0M510.4 181h0M519.6 210.2h0M529.2 208.7h0M538.1 194.1h0M546.9 229.4h0M556.1 217.9h0M565 196.4h0M573.4 234h0M582.2 277.8h0M589.2 269.7h0M595.3 257.8h0M602.2 252.8h0" fill="none" stroke="#222" stroke-width="7.7" stroke-linecap="round"/>
<path d="M473.2 175.6h0M482.4 199.8h0M492.4 184.5h0M501.6 185.2h0M510.4 181h0M519.6 210.2h0M529.2 208.7h0M538.1 194.1h0M546.9 229.4h0M556.1 217.9h0M565 196.4h0M573.4 234h0M582.2 277.8h0M589.2 269.7h0M595.3 257.8h0M602.2 252.8h0" fill="none" stroke="#fff" stroke-width="5.9" stroke-linecap="round"/>
<path d="M473.5 216h0M483.1 184.1h0M492.7 189.5h0M502 205.2h0M511.2 195.6h0M520.8 182.9h0M530.4 201.8h0M539.6 210.6h0M548.1 229h0M557.7 211h0M566.5 179.1h0M575.3 219.8h0M584.2 246.7h0M592.6 252.5h0M601.8 270.1h0M610.3 209h0M619.1 172.9h0M627.6 245.9h0M636.4 260.5h0M644.9 227.9h0M653.7 231.3h0M661.8 212.9h0M670.2 253.6h0M679 191.4h0M687.1 153.7h0" fill="none" stroke="#151515" stroke-width="7.2" stroke-linecap="round"/>
<path d="M203.2 459.8V508M212.4 458.9V507.2M222.5 435.2V483.5M231.7 463.3V511.5M241 462.4V510.7M250.6 487.4V535.7M259.4 459.8V508M268.6 451V499.3M277.8 455.4V503.6M287 458V506.3M296.2 465.5V513.7M304.6 465V513.3M313.4 469V517.2M322.1 505V553.2M331.3 427.3V515.1M340.1 394.4V482.1M348.4 407.1V494.9M357.7 451.4V539.2M366.4 454.1V541.8M374.8 469.9V557.6M383.1 474.3V562M391.4 483.5V571.2M400.2 490.5V578.2M405 446.6V534.4M408.1 417.7V505.4M415.6 433V520.8M416.9 438.7V526.5M202.4 472.9V521.2M212 432.1V480.4M221.7 440.5V488.7M230.4 467.7V515.9M239.6 442.2V490.5M248.9 420.7V469M257.6 444.4V492.7M267.3 464.2V512.4M276.1 472.1V520.3M285.3 444.4V492.7M293.6 435.2V483.5M302.8 445.3V493.6M311.6 446.2V494.4M318.6 511.1V559.4M325.6 464.2V512.4M405 464.6V552.3M415.1 458V545.8" fill="none" stroke="#444" stroke-width="1" />
<path d="M202.4 497.1h0M212 456.3h0M221.7 464.6h0M230.4 491.8h0M239.6 466.4h0M248.9 444.9h0M257.6 468.5h0M267.3 488.3h0M276.1 496.2h0M285.3 468.5h0M293.6 459.3h0M302.8 469.4h0M311.6 470.3h0M318.6 535.2h0M325.6 488.3h0M405 508.5h0M415.1 501.9h0" fill="none" stroke="#222" stroke-width="7.7" stroke-linecap="round"/>
<path d="M202.4 497.1h0M212 456.3h0M221.7 464.6h0M230.4 491.8h0M239.6 466.4h0M248.9 444.9h0M257.6 468.5h0M267.3 488.3h0M276.1 496.2h0M285.3 468.5h0M293.6 459.3h0M302.8 469.4h0M311.6 470.3h0M318.6 535.2h0M325.6 488.3h0M405 508.5h0M415.1 501.9h0" fill="none" stroke="#fff" stroke-width="5.9" stroke-linecap="round"/>
<path d="M203.2 483.9h0M212.4 483h0M222.5 459.3h0M231.7 487.4h0M241 486.5h0M250.6 511.5h0M259.4 483.9h0M268.6 475.1h0M277.8 479.5h0M287 482.1h0M296.2 489.6h0M304.6 489.2h0M313.4 493.1h0M322.1 529.1h0M331.3 471.2h0M340.1 438.3h0M348.4 451h0M357.7 495.3h0M366.4 497.9h0M374.8 513.7h0M383.1 518.1h0M391.4 527.3h0M400.2 534.4h0M405 490.5h0M408.1 461.5h0M415.6 476.9h0M416.9 482.6h0" fill="none" stroke="#151515" stroke-width="7.2" stroke-linecap="round"/>
<path d="M461.8 468.1 L463.3 467.6 L465.2 466.9 L467.5 466 L470.1 465.2 L472.8 464.5 L475.4 464.2 L478.1 464 L480.8 464 L483.7 464.1 L486.7 464.5 L489.7 465.2 L493 466.4 L496.4 468 L500 470.2 L503.7 472.7 L507.4 475.3 L511.2 478 L514.9 480.4 L518.7 482.7 L522.5 485.1 L526.4 487.4 L530.2 489.7 L533.7 491.8 L536.8 493.6 L539.6 495.2 L542 496.8 L544.2 498.2 L546.3 499.3 L548.2 500 L550 500.1 L551.7 499.6 L553.3 498.6 L554.8 497.1 L556.1 495.3 L557.4 493.4 L558.8 491.4 L560.1 488.8 L561.3 485.6 L562.6 482.2 L563.8 479.1 L565 476.9 L566.2 476 L567.5 476.6 L568.8 478.2 L570.1 480.7 L571.4 483.8 L572.8 487.4 L574.1 491.4 L575.5 496 L577 501.6 L578.4 507.6 L579.9 513.7 L581.4 519.4 L582.9 524.3 L584.5 528.6 L586.1 532.7 L587.8 536.4 L589.4 539.5 L591 541.7 L592.6 542.7 L594 542.6 L595.3 541.5 L596.6 539.6 L597.8 536.7 L599.1 533.1 L600.5 528.7 L601.9 522.9 L603.3 515.7 L604.7 507.7 L606.2 499.5 L607.7 491.6 L609.2 484.8 L610.8 478.2 L612.5 471.1 L614.1 464.4 L615.8 459 L617.4 455.5 L618.9 454.9 L620.3 457.9 L621.6 463.9 L622.9 472 L624.2 481 L625.4 490 L626.8 497.9 L628.2 505.4 L629.6 513.2 L631.1 521 L632.6 528.3 L634.1 534.7 L635.6 539.6 L636.9 543 L638.2 545.2 L639.5 546.4 L640.9 547 L642.5 547.1 L644.3 547.1 L646.5 546.9 L648.9 546.5 L651.5 545.6 L654.2 544.2 L656.9 542.3 L659.7 539.6 L662.5 536.2 L665.4 532.1 L668.4 527.4 L671.4 522.2 L674.4 516.7 L677.2 511.1 L680.2 504.7 L683.2 497.3 L686.2 489.6 L689 482.3 L691.3 476 L693 471.6" fill="none" stroke="#1a1a1a" stroke-width="1" stroke-linejoin="round" />
<path d="M461.8 468.1 L465.2 467.7 L469.9 466.9 L475.5 466.1 L481.5 465.5 L487.4 465.5 L493 466.4 L498.1 468.2 L503.2 471 L508.4 474.2 L513.5 477.8 L518.6 481.4 L523.7 484.8 L528.8 488.1 L533.8 491.5 L538.8 495 L543.8 498.4 L549 501.6 L554.4 504.5 L560 507.2 L565.9 509.8 L571.9 512.1 L578 514.3 L583.8 516.2 L589.5 517.7 L594.9 518.9 L600.1 519.8 L605.1 520.4 L610.1 520.7 L615.1 520.8 L620.2 520.8 L625.4 520.4 L630.6 519.7 L635.8 518.9 L641 517.8 L646.1 516.7 L650.9 515.5 L655.7 514.2 L660.4 512.7 L665 511.2 L669.4 509.6 L673.5 508.1 L677.2 506.7 L680.7 505.4 L683.9 504.1 L686.8 502.9 L689.3 501.8 L691.4 500.8 L693 500.1" fill="none" stroke="#1a1a1a" stroke-width="1" stroke-linejoin="round" stroke-dasharray="1.8 1.5"/>
<path d="M473.7 468.5V496.6M482.9 451.4V479.5M492.5 441.3V469.4M501.7 457.1V485.2M511 463.7V491.8M521.1 469.4V497.5M530.3 480.4V508.5M539.5 482.6V510.7M548.3 503.2V531.3M557 478.6V506.7M566.2 462.4V490.5M575 492.7V520.8M584.2 509.4V537.4M592.6 529.1V557.2M601.8 504.5V532.6M610.1 461.5V489.6M618.9 440.9V469M627.7 489.6V537.9M636.4 519.9V568.1M645.2 508.5V556.7M653.5 499.7V548M661.9 493.1V541.4M670.2 510.7V558.9M679 452.8V501M686.9 438.7V487M473.2 449.7V477.8M482.4 458V486.1M492.1 448.4V476.4M500.9 460.7V488.7M511 447.5V475.6M519.7 452.8V480.8M529.4 469V497.1M538.6 474.3V502.3M546.9 497.1V525.1M555.7 487V515.1M564.5 465.5V493.6M573.3 480.4V508.5M582 523V551M589.1 537.4V565.5M595.2 521.2V549.3M602.2 519.4V547.5" fill="none" stroke="#444" stroke-width="1" />
<path d="M473.2 463.7h0M482.4 472.1h0M492.1 462.4h0M500.9 474.7h0M511 461.5h0M519.7 466.8h0M529.4 483h0M538.6 488.3h0M546.9 511.1h0M555.7 501h0M564.5 479.5h0M573.3 494.4h0M582 537h0M589.1 551.5h0M595.2 535.2h0M602.2 533.5h0" fill="none" stroke="#222" stroke-width="7.7" stroke-linecap="round"/>
<path d="M473.2 463.7h0M482.4 472.1h0M492.1 462.4h0M500.9 474.7h0M511 461.5h0M519.7 466.8h0M529.4 483h0M538.6 488.3h0M546.9 511.1h0M555.7 501h0M564.5 479.5h0M573.3 494.4h0M582 537h0M589.1 551.5h0M595.2 535.2h0M602.2 533.5h0" fill="none" stroke="#fff" stroke-width="5.9" stroke-linecap="round"/>
<path d="M473.7 482.6h0M482.9 465.5h0M492.5 455.4h0M501.7 471.2h0M511 477.8h0M521.1 483.5h0M530.3 494.4h0M539.5 496.6h0M548.3 517.2h0M557 492.7h0M566.2 476.4h0M575 506.7h0M584.2 523.4h0M592.6 543.1h0M601.8 518.6h0M610.1 475.6h0M618.9 454.9h0M627.7 513.7h0M636.4 544h0M645.2 532.6h0M653.5 523.8h0M661.9 517.2h0M670.2 534.8h0M679 476.9h0M686.9 462.8h0" fill="none" stroke="#151515" stroke-width="7.2" stroke-linecap="round"/></svg>
<div class="l" style="left:756.2px;top:46.4px;font-size:13px;transform:scaleX(1.0615);">627</div>
<div class="l" style="left:300.9px;top:46.4px;font-size:13.6px;transform:scaleX(1.0078);letter-spacing:0.5px;word-spacing:1px">NEW NARROW N(1685) AND N(1726)</div>
<div class="l" style="left:90.9px;top:685.4px;font-size:11.7px;word-spacing:0.85px;transform:scaleX(1.1000);"><b>Fig. 3.</b> Beam asymmetry for Compton scattering on the neutron (figure from [17]). Solid line is the signal-plus-background fit</div>
<div class="l" style="left:90.9px;top:700.9px;font-size:11.7px;word-spacing:0.01px;transform:scaleX(1.1000);">and dashed line is background fit only. See [17] for details.</div>
<div class="l" style="left:92.3px;top:744.6px;font-size:14.4px;word-spacing:0.23px;transform:scaleX(1.1050);">That is why the quasi-free γ<i>n</i><span class="ar">→</span>η<i>n</i> cross sections</div>
<div class="l" style="left:70.8px;top:761.4px;font-size:14.4px;word-spacing:0.47px;transform:scaleX(1.1050);">reported in [1–7] are unavoidably analysis- and facil-</div>
<div class="l" style="left:70.8px;top:778.5px;font-size:14.4px;word-spacing:3.29px;transform:scaleX(1.1050);">ity-dependent. Could a fit of the γ<i>n</i><span class="ar">→</span>η<i>n</i> data, if</div>
<div class="l" style="left:70.8px;top:795.3px;font-size:14.4px;word-spacing:-0.08px;transform:scaleX(1.1050);">being done just as cross section calculated for the free</div>
<div class="l" style="left:70.8px;top:811.7px;font-size:14.4px;word-spacing:1.27px;transform:scaleX(1.1050);">neutron and then integrated with the deuteron wave-</div>
<div class="l" style="left:70.8px;top:828.9px;font-size:14.4px;word-spacing:4.91px;transform:scaleX(1.1050);">function defined by Bonn or Paris potentials (as</div>
<div class="l" style="left:70.8px;top:845.7px;font-size:14.4px;word-spacing:-0.26px;transform:scaleX(1.1050);">explained, e.g., in [13]) lead to unambiguous results?</div>
<div class="l" style="left:92.3px;top:873.1px;font-size:14.4px;word-spacing:-0.27px;transform:scaleX(1.1050);">There is a more general consideration. The authors</div>
<div class="l" style="left:70.8px;top:889.9px;font-size:14.4px;word-spacing:0.23px;transform:scaleX(1.1050);">of [9, 10, 12] focused on only the γ<i>n</i><span class="ar">→</span>η<i>n</i> cross sec-</div>
<div class="l" style="left:70.8px;top:907.0px;font-size:14.4px;word-spacing:0.91px;transform:scaleX(1.1050);">tion, whereas the database for the possible signals of</div>
<div class="l" style="left:70.8px;top:925.1px;font-size:14.4px;word-spacing:2.99px;transform:scaleX(1.1050);"><i>N</i>(1685) is larger. Narrow structures at this energy</div>
<div class="l" style="left:70.8px;top:941.9px;font-size:14.4px;word-spacing:-0.04px;transform:scaleX(1.1050);">were also observed in Compton scattering on the neu-</div>
<div class="l" style="left:70.8px;top:958.7px;font-size:14.4px;word-spacing:-0.50px;transform:scaleX(1.1050);">tron γ<i>n</i><span class="ar">→</span>γ<i>n</i> [14] (Fig. 1) and in the beam asymmetry</div>
<div class="l" style="left:70.8px;top:975.8px;font-size:14.4px;word-spacing:0.29px;transform:scaleX(1.1050);">for the η photoproduction of the proton γ<i>p</i><span class="ar">→</span>η<i>p</i> [15,</div>
<div class="l" style="left:70.8px;top:992.6px;font-size:14.4px;word-spacing:-0.04px;transform:scaleX(1.1050);">16] (Fig. 2). Furthermore, the recent data on the beam</div>
<div class="l" style="left:70.8px;top:1009.4px;font-size:14.4px;word-spacing:4.73px;transform:scaleX(1.1050);">asymmetry for Compton scattering on the proton</div>
<div class="l" style="left:433.9px;top:744.6px;font-size:14.4px;word-spacing:1.40px;transform:scaleX(1.1050);">γ<i>p</i><span class="ar">→</span>γ<i>p</i> [17], the precise data for the γ<i>n</i><span class="ar">→</span>η<i>n</i> [18]</div>
<div class="l" style="left:433.9px;top:768.3px;font-size:14.4px;word-spacing:2.77px;transform:scaleX(1.1050);">and π<sup style="margin-left:1px">–</sup><i>p</i><span class="ar">→</span>π<sup style="margin-left:1px">–</sup><i>p</i> [19] reactions revealed two narrow</div>
<div class="l" style="left:433.9px;top:786.1px;font-size:14.4px;word-spacing:4.55px;transform:scaleX(1.1050);">structures at <i>W</i>&ensp;~&#8197;1.68 and 1.72 GeV (Figs. 3–5,</div>
<div class="l" style="left:433.9px;top:801.9px;font-size:14.4px;transform:scaleX(1.0767);">respectively).</div>
<div class="l" style="left:455.4px;top:829.6px;font-size:14.4px;word-spacing:-0.09px;transform:scaleX(1.1050);">Quote from the paper of the BnGa group [9]: “<i>... A</i></div>
<div class="l" style="left:433.9px;top:846.4px;font-size:14.4px;word-spacing:-1.10px;transform:scaleX(1.1050);"><i>trace of N*</i>(1685) may have been found in the γ<i>n</i><span class="ar">→</span>γ<i>n</i></div>
<div class="l" style="left:433.9px;top:862.5px;font-size:14.4px;word-spacing:-0.37px;transform:scaleX(1.1050);">total cross section [14] and in the beam asymmetry for</div>
<div class="l" style="left:433.9px;top:879.0px;font-size:14.4px;transform:scaleX(1.1050);">γ<i>p</i><span class="ar">→</span>γ<i>p</i> [17]. We do not see how the two phenomena</div>
<div class="l" style="left:433.9px;top:895.1px;font-size:14.4px;word-spacing:0.04px;transform:scaleX(1.1050);">could possibly be related to the interference pattern in</div>
<div class="l" style="left:433.9px;top:911.6px;font-size:14.4px;word-spacing:0.51px;transform:scaleX(1.1050);">the γ<i>n</i><span class="ar">→</span>η<i>n</i> discussed in this paper”.</div>
<div class="l" style="left:455.4px;top:938.6px;font-size:14.4px;word-spacing:0.12px;transform:scaleX(1.1050);">Indeed, let us assume that the specific interference</div>
<div class="l" style="left:433.9px;top:955.7px;font-size:14.4px;word-spacing:9.00px;transform:scaleX(1.1134);">of wide (Γ&#8197;~&#8197;100–200 MeV) resonances (e.g.,</div>
<div class="l" style="left:433.9px;top:976.4px;font-size:14.4px;word-spacing:4.43px;transform:scaleX(1.1050);"><i>S</i><sub>11</sub>(1535) and <i>S</i><sub>11</sub>(1650)) generates a narrow (Γ&#8197;≤</div>
<div class="l" style="left:433.9px;top:992.9px;font-size:14.4px;word-spacing:2.93px;transform:scaleX(1.1050);">30 MeV) peak in the γ<i>n</i><span class="ar">→</span>η<i>n</i> excitation function.</div>
<div class="l" style="left:433.9px;top:1009.4px;font-size:14.4px;word-spacing:2.04px;transform:scaleX(1.1050);">This reaction is governed by isospin-1/2 resonances</div>
<div class="l" style="left:90.9px;top:1044.6px;font-size:13px;transform:scaleX(0.9960);letter-spacing:0.3px">JETP LETTERS</div>
<div class="l" style="left:198.5px;top:1044.6px;font-size:13px;transform:scaleX(0.9834);">Vol. 105</div>
<div class="l" style="left:260.0px;top:1044.6px;font-size:13px;transform:scaleX(1.0059);">No. 10</div>
<div class="l" style="left:313.7px;top:1044.6px;font-size:13px;transform:scaleX(0.9385);">2017</div>
</div>
<div class="pg" style="left:2544px">
<svg width="848" height="1200" viewBox="0 0 848 1200"><path d="M109.8 424H113.8M109.8 413.1H117.8M109.8 402.2H113.8M109.8 391.4H113.8M109.8 380.5H113.8M109.8 369.6H113.8M109.8 358.8H117.8M109.8 347.9H113.8M109.8 337H113.8M109.8 326.1H113.8M109.8 315.3H113.8M109.8 304.4H117.8M109.8 293.5H113.8M109.8 282.7H113.8M109.8 271.8H113.8M109.8 260.9H113.8M109.8 250.1H117.8M109.8 239.2H113.8M109.8 228.3H113.8M109.8 217.4H113.8M109.8 206.6H113.8M109.8 195.7H117.8M109.8 184.8H113.8M109.8 174H113.8M109.8 163.1H113.8M109.8 152.2H113.8M109.8 141.4H117.8M109.8 130.5H113.8M109.8 119.6H113.8M109.8 108.7H113.8M109.8 97.9H113.8M109.8 87H117.8" fill="none" stroke="#333" stroke-width="1" />
<text transform="translate(107,418.1) scale(1.06,1)" font-size="15" text-anchor="end" >0</text>
<text transform="translate(107,363.8) scale(1.06,1)" font-size="15" text-anchor="end" >1</text>
<text transform="translate(107,309.4) scale(1.06,1)" font-size="15" text-anchor="end" >2</text>
<text transform="translate(107,255.1) scale(1.06,1)" font-size="15" text-anchor="end" >3</text>
<text transform="translate(107,200.7) scale(1.06,1)" font-size="15" text-anchor="end" >4</text>
<text transform="translate(107,146.4) scale(1.06,1)" font-size="15" text-anchor="end" >5</text>
<text transform="translate(107,92) scale(1.06,1)" font-size="15" text-anchor="end" >6</text>
<path d="M122.3 429.3V421.3M135.4 429.3V425.3M148.5 429.3V425.3M161.6 429.3V425.3M174.7 429.3V425.3M187.8 429.3V421.3M201 429.3V425.3M214.1 429.3V425.3M227.2 429.3V425.3M240.3 429.3V425.3M253.4 429.3V421.3M266.5 429.3V425.3M279.6 429.3V425.3M292.7 429.3V425.3M305.8 429.3V425.3M318.9 429.3V421.3M332.1 429.3V425.3M345.2 429.3V425.3M358.3 429.3V425.3M371.4 429.3V425.3M384.5 429.3V421.3M397.6 429.3V425.3" fill="none" stroke="#333" stroke-width="1" />
<text transform="translate(122.3,444) scale(1.06,1)" font-size="14.5" text-anchor="middle" >1600</text>
<text transform="translate(187.8,444) scale(1.06,1)" font-size="14.5" text-anchor="middle" >1650</text>
<text transform="translate(253.4,444) scale(1.06,1)" font-size="14.5" text-anchor="middle" >1700</text>
<text transform="translate(318.9,444) scale(1.06,1)" font-size="14.5" text-anchor="middle" >1750</text>
<text transform="translate(384.5,444) scale(1.06,1)" font-size="14.5" text-anchor="middle" >1800</text>
<text transform="translate(254,459.3) scale(1.06,1)" font-size="14.5" text-anchor="middle" ><tspan font-style="italic">W</tspan> (MeV)</text>
<text transform="translate(91,251) rotate(-90) scale(1.06,1)" font-size="15" text-anchor="middle">σ  (μb)</text>
<path d="M109.8 413.1H402.8" fill="none" stroke="#222" stroke-width="0.9" stroke-dasharray="5 2.5"/>
<path d="M228.5 81.4V429.3M287.5 196V429.3" fill="none" stroke="#222" stroke-width="1" stroke-dasharray="1.6 1.8"/>
<text transform="translate(225.5,371.6) rotate(-90)" font-size="11.5" text-anchor="middle"><tspan font-style="italic">W</tspan> = 1681 MeV</text>
<text transform="translate(284.5,322.8) rotate(-90)" font-size="11.5" text-anchor="middle"><tspan font-style="italic">W</tspan> = 1726 MeV</text>
<clipPath id="c4"><rect x="109.8" y="81.4" width="293" height="347.9"/></clipPath>
<g clip-path="url(#c4)">
<path d="M114 75.5 L114.2 76 L114.4 76.7 L114.8 77.5 L115.2 78.6 L115.8 79.9 L116.7 81.5 L117.9 83.5 L119.4 85.9 L121 88.6 L122.8 91.4 L124.6 94.4 L126.3 97.4 L128.1 100.6 L129.9 104.1 L131.7 107.7 L133.6 111.3 L135.4 114.7 L137.3 118 L139.1 121 L140.9 124 L142.8 126.8 L144.6 129.5 L146.4 132.1 L148.3 134.4 L150.1 136.6 L151.9 138.7 L153.7 140.6 L155.6 142.3 L157.4 143.9 L159.2 145.4 L161.1 146.8 L162.9 148.1 L164.7 149.2 L166.5 150.2 L168.4 151.1 L170.2 151.7 L172 152.1 L173.9 152.4 L175.7 152.4 L177.5 152.4 L179.3 152.1 L181.2 151.7 L183 151.1 L184.8 150.4 L186.6 149.4 L188.5 148.4 L190.3 147.3 L192.1 146.2 L194 145 L195.9 143.6 L197.9 142.2 L199.7 140.8 L201.5 139.6 L203.1 138.5 L204.5 137.8 L205.7 137.2 L206.8 136.7 L207.8 136.3 L208.9 136.1 L210 136.1 L211.1 136.1 L212.2 136.3 L213.3 136.6 L214.4 137 L215.6 137.7 L216.8 138.5 L218.1 139.6 L219.4 140.9 L220.8 142.4 L222.2 144.1 L223.6 146 L225 148.1 L226.5 150.8 L228 153.9 L229.5 157.2 L230.9 160.5 L232.2 163.5 L233.3 166 L234 167.6 L234.4 168.7 L234.6 169.4 L234.9 170.1 L235.3 171.2 L236 172.8 L237.1 175.2 L238.3 178 L239.8 181.1 L241.3 184.4 L242.8 187.6 L244.2 190.6 L245.6 193.5 L247 196.4 L248.3 199.2 L249.7 202 L251.1 204.6 L252.5 207.1 L253.8 209.4 L255.2 211.7 L256.6 213.8 L257.9 215.8 L259.3 217.7 L260.7 219.4 L262 221.1 L263.4 222.7 L264.8 224.2 L266.2 225.5 L267.5 226.7 L268.9 227.7 L270.3 228.5 L271.7 229.2 L273.1 229.7 L274.5 230.1 L275.8 230.3 L277.1 230.4 L278.4 230.3 L279.6 230 L280.7 229.5 L281.9 228.9 L282.9 228.3 L284 227.7 L285 226.9 L286 226 L286.9 225 L287.8 224 L288.6 223.3 L289.5 223 L290.2 223 L290.9 223.2 L291.5 223.7 L292.2 224.3 L292.8 225.2 L293.6 226.3 L294.4 227.7 L295.2 229.4 L296.1 231.3 L297 233.3 L298 235.3 L299.1 237.3 L300.2 239.1 L301.5 241 L302.8 242.9 L304.2 244.8 L305.7 246.6 L307.3 248.2 L308.9 249.8 L310.6 251.3 L312.4 252.7 L314.3 254 L316.2 255.3 L318.3 256.5 L320.4 257.6 L322.6 258.6 L324.9 259.5 L327.3 260.4 L329.7 261.2 L332 261.9 L334.3 262.6 L336.5 263.2 L338.8 263.8 L341.1 264.3 L343.4 264.7 L345.7 265.2 L347.9 265.7 L350 266.2 L352.1 266.6 L354.3 267 L356.7 267.5 L359.4 268 L362.4 268.5 L365.6 268.9 L369.1 269.4 L372.7 270 L376.3 270.7 L379.9 271.5 L383.9 272.7 L388.3 274.2 L392.7 275.8 L396.9 277.3 L400.4 278.6 L403 279.6" fill="none" stroke="#111" stroke-width="1.4" stroke-linejoin="round" />
<path d="M108.5 75.5 L108.7 76 L109 76.6 L109.3 77.3 L109.7 78.3 L110.4 79.7 L111.2 81.5 L112.4 83.8 L113.8 86.5 L115.4 89.5 L117.1 92.8 L118.9 96.4 L120.8 100.2 L122.9 104.3 L125.1 108.8 L127.4 113.5 L129.8 118.3 L132.2 123.1 L134.5 127.6 L136.8 131.9 L139.1 136.2 L141.4 140.3 L143.7 144.4 L146 148.4 L148.3 152.3 L150.5 156 L152.8 159.5 L155.1 163 L157.4 166.3 L159.7 169.6 L162 172.8 L164.3 176 L166.5 179 L168.8 182 L171.1 184.9 L173.4 187.8 L175.7 190.6 L178 193.5 L180.2 196.3 L182.5 199.1 L184.8 201.9 L187.1 204.5 L189.4 207.1 L191.7 209.6 L194 212 L196.2 214.3 L198.5 216.5 L200.8 218.7 L203.1 220.8 L205.4 222.8 L207.7 224.7 L210 226.5 L212.2 228.3 L214.5 230.1 L216.8 231.8 L219 233.4 L220.9 235 L222.9 236.5 L225.1 238.1 L227.6 239.7 L230.5 241.4 L234.3 243.3 L238.8 245.4 L243.7 247.5 L248.4 249.6 L252.7 251.5 L256 253.2 L258.1 254.5 L259.1 255.6 L259.6 256.5 L260.1 257.4 L261.2 258.3 L263.4 259.2 L267.2 260.3 L272.2 261.6 L277.8 262.8 L283.2 263.9 L287.8 264.8 L290.8 265.2 L291.7 265.1 L290.7 264.3 L288.9 263.4 L287.2 262.4 L286.5 261.6 L287.8 261.4 L291.5 261.9 L296.8 262.7 L303.1 263.8 L309.9 265 L316.5 266.2 L322.4 267.2 L327.5 268.1 L332.4 268.9 L337.1 269.7 L341.8 270.5 L346.4 271.3 L351.2 272.1 L356 272.9 L361 273.6 L365.9 274.4 L370.8 275.2 L375.5 275.9 L379.9 276.7 L384.4 277.6 L388.9 278.5 L393.3 279.4 L397.2 280.3 L400.5 281.1 L403 281.6" fill="none" stroke="#222" stroke-width="0.9" stroke-linejoin="round" stroke-dasharray="1.6 1.5"/>
<path d="M109.8 405.4 L111.3 405.1 L113.3 404.7 L115.8 404.2 L118.4 403.7 L121.1 403.1 L123.6 402.5 L125.9 401.8 L128.3 401.1 L130.7 400.3 L133.2 399.4 L135.6 398.5 L138 397.6 L140.4 396.7 L142.8 395.7 L145.2 394.7 L147.6 393.6 L150 392.4 L152.4 391 L154.8 389.4 L157.2 387.8 L159.6 386 L162 384 L164.4 381.9 L166.8 379.5 L169.2 376.8 L171.6 373.9 L174 370.7 L176.4 367.5 L178.8 364.1 L181.2 360.8 L183.6 357.2 L186.1 353.5 L188.5 349.6 L191 345.9 L193.3 342.3 L195.5 339.2 L197.7 336.3 L199.7 333.7 L201.7 331.3 L203.6 329.2 L205.4 327.3 L207.1 325.6 L208.6 324.3 L209.9 323.2 L211.2 322.4 L212.4 321.8 L213.6 321.5 L214.8 321.3 L216.1 321.3 L217.4 321.6 L218.7 322 L220 322.7 L221.4 323.6 L222.9 324.8 L224.4 326.2 L226 328 L227.7 330 L229.4 332.2 L231.2 334.6 L233 337.2 L235 340.3 L237.4 344.2 L239.9 348.2 L242.1 351.9 L243.7 354.8 L244.5 356.4 L244 356.2 L242.5 354.3 L240.4 351.7 L238.3 349 L236.7 347 L236 346.4 L236.4 347.4 L237.6 349.4 L239.2 352.1 L241.1 355.2 L243 358.2 L244.6 360.8 L246.1 363.1 L247.5 365.4 L249 367.7 L250.4 369.9 L251.8 371.9 L253.3 373.7 L254.7 375.3 L256.2 376.7 L257.6 378 L259 379.1 L260.5 380.1 L261.9 380.9 L263.3 381.6 L264.8 382.2 L266.2 382.7 L267.7 383 L269.1 383.2 L270.5 383.2 L272 383.1 L273.5 382.9 L275 382.6 L276.4 382.1 L277.8 381.5 L279.2 380.9 L280.5 380.1 L281.8 379.1 L283.1 378 L284.3 376.9 L285.4 375.9 L286.4 375.2 L287.2 374.5 L287.9 374 L288.5 373.6 L289 373.3 L289.6 373.1 L290.1 373.1 L290.7 373.3 L291.2 373.6 L291.7 374.1 L292.3 374.7 L292.9 375.6 L293.6 376.6 L294.4 377.9 L295.2 379.5 L296.1 381.2 L297.1 383.1 L298.2 384.9 L299.3 386.7 L300.5 388.4 L301.8 390.1 L303.1 391.9 L304.6 393.6 L306.2 395.2 L308 396.7 L310 398.2 L312.3 399.6 L314.8 400.9 L317.4 402.1 L319.9 403.1 L322.4 403.9 L324.8 404.5 L327.2 404.8 L329.6 405 L332 405.1 L334.4 405.2 L336.8 405.4 L339.2 405.7 L341.6 406 L344 406.4 L346.4 406.7 L348.8 407.1 L351.2 407.4 L353.5 407.7 L355.7 408 L358 408.3 L360.3 408.6 L362.8 408.9 L365.5 409.1 L368.6 409.4 L371.9 409.6 L375.4 409.8 L379 410 L382.4 410.1 L385.7 410.3 L388.9 410.4 L392.3 410.5 L395.6 410.6 L398.6 410.7 L401.1 410.8 L403 410.8" fill="none" stroke="#e02030" stroke-width="1.1" stroke-linejoin="round" />
<path d="M153.7 84.4l2.8 5.1h-5.5zM159.2 108l2.8 5.1h-5.5zM164.4 128.2l2.8 5.1h-5.5zM169.6 155.9l2.8 5.1h-5.5zM174.9 171.6l2.8 5.1h-5.5zM180.1 191l2.8 5.1h-5.5zM185.3 207.2l2.8 5.1h-5.5zM190.8 217.9l2.8 5.1h-5.5zM196 231.1l2.8 5.1h-5.5zM201.2 242.9l2.8 5.1h-5.5zM206.4 251.4l2.8 5.1h-5.5zM211.6 251.4l2.8 5.1h-5.5zM216.8 262.1l2.8 5.1h-5.5zM222 264.5l2.8 5.1h-5.5zM227.2 264.5l2.8 5.1h-5.5zM232.4 261l2.8 5.1h-5.5zM237.6 255.7l2.8 5.1h-5.5zM242.9 254.4l2.8 5.1h-5.5zM248.1 256.3l2.8 5.1h-5.5zM253.3 257.1l2.8 5.1h-5.5zM243.1 253.8l2.8 5.1h-5.5zM248.3 256.3l2.8 5.1h-5.5zM253.5 257.1l2.8 5.1h-5.5zM258.8 252.7l2.8 5.1h-5.5zM264 250.3l2.8 5.1h-5.5zM269.2 253l2.8 5.1h-5.5zM274.4 252.5l2.8 5.1h-5.5zM279.6 248.6l2.8 5.1h-5.5zM284.8 248.9l2.8 5.1h-5.5zM290 252.7l2.8 5.1h-5.5zM295.2 254.7l2.8 5.1h-5.5zM300.4 256.8l2.8 5.1h-5.5zM305.6 259.9l2.8 5.1h-5.5zM310.9 259.6l2.8 5.1h-5.5zM316.1 261.2l2.8 5.1h-5.5zM321.3 264.5l2.8 5.1h-5.5zM326.5 262.3l2.8 5.1h-5.5zM331.7 263.2l2.8 5.1h-5.5zM321.5 266.9l2.8 5.1h-5.5zM326.7 262.9l2.8 5.1h-5.5zM331.9 265.7l2.8 5.1h-5.5zM337 268l2.8 5.1h-5.5zM342.5 268.3l2.8 5.1h-5.5zM347.7 266.6l2.8 5.1h-5.5zM352.9 270.6l2.8 5.1h-5.5zM358.1 272.9l2.8 5.1h-5.5zM363.2 272.1l2.8 5.1h-5.5zM368.4 275.2l2.8 5.1h-5.5zM373.9 274.9l2.8 5.1h-5.5zM379.1 279.3l2.8 5.1h-5.5zM384.3 278.4l2.8 5.1h-5.5zM389.4 281.6l2.8 5.1h-5.5zM394.6 283.6l2.8 5.1h-5.5zM400.1 280.1l2.8 5.1h-5.5z" fill="#26288f"/>
<path d="M122.5 87.2V94.4M127.7 89.7V96.9M132.9 117.9V125.1M138.1 134.4V141.6M143.6 148.7V155.9M148.8 147.8V155M154 157.7V164.9M159.2 154.7V161.9M164.4 150.3V157.5M169.6 147.3V154.5M174.9 140.4V147.6M180.1 131.7V138.9M185.3 139.3V146.5M190.8 137.4V144.6M196 136.6V143.8M201.2 131.4V138.6M206.4 136.3V143.5M211.6 138.5V145.7M216.8 143.4V150.6M222 147.6V154.8M227.2 147.6V154.8M232.4 161.3V168.5M237.6 176.4V183.6M242.9 185.7V192.9M248.1 201V208.2M253.3 201V208.2M258.8 203.8V211M264 217.8V225M269.2 227.4V234.6M274.4 223.2V230.4M279.6 221.9V229.1M284.8 226.5V233.7M290 218.6V225.8M295.2 226V233.2M300.4 237V244.2M305.6 243.8V251M310.9 252V259.2M316.1 248.2V255.4M321.3 252.9V260.1M326.5 255.6V262.8M331.7 250.9V258.1M336.9 252.3V259.5M342.1 257.5V264.7M347.3 254.2V261.4M352.5 257V264.2M357.7 263.3V270.5M363 264.4V271.6M368.2 263.5V270.7M373.4 266.3V273.5M327 257V264.2M342.5 257.8V265M352.9 257.8V265M358.1 264.2V271.4M363.2 265V272.2M368.4 263.6V270.8M373.9 267.3V274.5M379.1 273.1V280.3M384.3 272.8V280M389.4 270.8V278M394.6 271.7V278.9M400.1 277.1V284.3" fill="none" stroke="#e02030" stroke-width="0.8" />
<path d="M122.5 90.8h0M127.7 93.3h0M132.9 121.5h0M138.1 138h0M143.6 152.3h0M148.8 151.4h0M154 161.3h0M159.2 158.3h0M164.4 153.9h0M169.6 150.9h0M174.9 144h0M180.1 135.3h0M185.3 142.9h0M190.8 141h0M196 140.2h0M201.2 135h0M206.4 139.9h0M211.6 142.1h0M216.8 147h0M222 151.2h0M227.2 151.2h0M232.4 164.9h0M237.6 180h0M242.9 189.3h0M248.1 204.6h0M253.3 204.6h0M258.8 207.4h0M264 221.4h0M269.2 231h0M274.4 226.8h0M279.6 225.5h0M284.8 230.1h0M290 222.2h0M295.2 229.6h0M300.4 240.6h0M305.6 247.4h0M310.9 255.6h0M316.1 251.8h0M321.3 256.5h0M326.5 259.2h0M331.7 254.5h0M336.9 255.9h0M342.1 261.1h0M347.3 257.8h0M352.5 260.6h0M357.7 266.9h0M363 268h0M368.2 267.1h0M373.4 269.9h0M327 260.6h0M342.5 261.4h0M352.9 261.4h0M358.1 267.8h0M363.2 268.6h0M368.4 267.2h0M373.9 270.9h0M379.1 276.7h0M384.3 276.4h0M389.4 274.4h0M394.6 275.3h0M400.1 280.7h0" fill="none" stroke="#e02030" stroke-width="5.2" stroke-linecap="round"/>
<path d="M112.1 389.9V396.7M117.2 395.4V402.2M122.4 398.8V405.6M127.6 389.9V396.7M133.1 408.3V415.1M138.3 414.4V421.2M143.4 419.3V426.1M148.9 409.5V416.3M154.1 410.6V417.4M159.3 399.1V405.9M164.5 387.9V394.7M169.6 377.5V384.3M174.8 364V370.8M180.3 348.7V355.5M185.5 350.4V357.2M190.7 342.4V349.2M195.8 336.3V343.1M201.3 326.6V333.4M206.5 326.6V333.4M211.7 324.8V331.6M216.8 325.7V332.5M222 326V332.8M227.2 322.5V329.3M232.7 332.9V339.7M237.9 345V351.8M243 351.6V358.4M248.2 364.8V371.6M253.4 363.1V369.9M237.4 344.4V351.2M242.9 351.6V358.4M248.1 365.1V371.9M253.3 362.8V369.6M258.5 364V370.8M263.9 375.5V382.3M269.1 383.3V390.1M274.3 378.1V384.9M279.5 374.6V381.4M284.7 378.4V385.2M290.1 369.2V376M295.3 374.9V381.7M300.5 386.1V392.9M305.7 392.8V399.6M311.1 399.1V405.9M316.3 395.6V402.4M321.5 399.7V406.5M326.7 402.6V409.4M331.9 396.8V403.6M337 397.4V404.2M342.5 402.3V409.1M347.7 397.7V404.5M352.9 400.3V407.1M358.1 405.7V412.5M363.2 406.3V413.1M368.4 404V410.8M373.9 406V412.8M379.1 410.6V417.4M384.3 409.5V416.3M389.4 405.4V412.2M394.6 404.6V411.4M400.1 408V414.8" fill="none" stroke="#444" stroke-width="0.7" />
<path d="M112.1 393.3h0M117.2 398.8h0M122.4 402.2h0M127.6 393.3h0M133.1 411.7h0M138.3 417.8h0M143.4 422.7h0M148.9 412.9h0M154.1 414h0M159.3 402.5h0M164.5 391.3h0M169.6 380.9h0M174.8 367.4h0M180.3 352.1h0M185.5 353.8h0M190.7 345.8h0M195.8 339.7h0M201.3 330h0M206.5 330h0M211.7 328.2h0M216.8 329.1h0M222 329.4h0M227.2 325.9h0M232.7 336.3h0M237.9 348.4h0M243 355h0M248.2 368.2h0M253.4 366.5h0M237.4 347.8h0M242.9 355h0M248.1 368.5h0M253.3 366.2h0M258.5 367.4h0M263.9 378.9h0M269.1 386.7h0M274.3 381.5h0M279.5 378h0M284.7 381.8h0M290.1 372.6h0M295.3 378.3h0M300.5 389.5h0M305.7 396.2h0M311.1 402.5h0M316.3 399h0M321.5 403.1h0M326.7 406h0M331.9 400.2h0M337 400.8h0M342.5 405.7h0M347.7 401.1h0M352.9 403.7h0M358.1 409.1h0M363.2 409.7h0M368.4 407.4h0M373.9 409.4h0M379.1 414h0M384.3 412.9h0M389.4 408.8h0M394.6 408h0M400.1 411.4h0" fill="none" stroke="#222" stroke-width="4.8" stroke-linecap="round"/>
<path d="M112.1 393.3h0M117.2 398.8h0M122.4 402.2h0M127.6 393.3h0M133.1 411.7h0M138.3 417.8h0M143.4 422.7h0M148.9 412.9h0M154.1 414h0M159.3 402.5h0M164.5 391.3h0M169.6 380.9h0M174.8 367.4h0M180.3 352.1h0M185.5 353.8h0M190.7 345.8h0M195.8 339.7h0M201.3 330h0M206.5 330h0M211.7 328.2h0M216.8 329.1h0M222 329.4h0M227.2 325.9h0M232.7 336.3h0M237.9 348.4h0M243 355h0M248.2 368.2h0M253.4 366.5h0M237.4 347.8h0M242.9 355h0M248.1 368.5h0M253.3 366.2h0M258.5 367.4h0M263.9 378.9h0M269.1 386.7h0M274.3 381.5h0M279.5 378h0M284.7 381.8h0M290.1 372.6h0M295.3 378.3h0M300.5 389.5h0M305.7 396.2h0M311.1 402.5h0M316.3 399h0M321.5 403.1h0M326.7 406h0M331.9 400.2h0M337 400.8h0M342.5 405.7h0M347.7 401.1h0M352.9 403.7h0M358.1 409.1h0M363.2 409.7h0M368.4 407.4h0M373.9 409.4h0M379.1 414h0M384.3 412.9h0M389.4 408.8h0M394.6 408h0M400.1 411.4h0" fill="none" stroke="#fff" stroke-width="3.2" stroke-linecap="round"/>
</g>
<rect x="109.8" y="81.4" width="293" height="347.9" fill="none" stroke="#333" stroke-width="1.2"/>
<path d="M327 309.6h0" fill="none" stroke="#e02030" stroke-width="5.8" stroke-linecap="round"/>
<path d="M327 324.3l2.9 5.4h-5.9z" fill="#26288f"/>
<circle cx="327" cy="342" r="2.0" fill="#fff" stroke="#222" stroke-width="0.8"/>
<text transform="translate(335.3,314.1) scale(1.0,1)" font-size="15" text-anchor="start" textLength="67" lengthAdjust="spacingAndGlyphs">γ<tspan font-size="10" dy="-6">2</tspan><tspan dy="6">H → η</tspan><tspan font-style="italic">n</tspan>(<tspan font-style="italic">p</tspan>)</text>
<text transform="translate(335.3,331.4) scale(1.0,1)" font-size="15" text-anchor="start" textLength="67" lengthAdjust="spacingAndGlyphs">γ<tspan font-size="10" dy="-6">2</tspan><tspan dy="6">H → η</tspan><tspan font-style="italic">p</tspan>(<tspan font-style="italic">n</tspan>)</text>
<text transform="translate(335.3,344.9) scale(1.04,1)" font-size="12.5" text-anchor="start" >subtr. data</text>
<path d="M321.8 354.1H333.3" fill="none" stroke="#222" stroke-width="1.1" />
<text transform="translate(335.3,357.2) scale(1.04,1)" font-size="12.5" text-anchor="start" >total fit</text>
<path d="M321.8 367.1H333.3" fill="none" stroke="#222" stroke-width="1.1" stroke-dasharray="1.5 1.5"/>
<text transform="translate(335.3,370.2) scale(1.04,1)" font-size="12.5" text-anchor="start" >background</text>
<path d="M321.8 379.8H333.3" fill="none" stroke="#222" stroke-width="1.1" />
<text transform="translate(335.3,382.8) scale(1.04,1)" font-size="12.5" text-anchor="start" >narrow BW</text>
<rect x="275.8" y="83.2" width="124.8" height="112.4" fill="#fff" stroke="#888" stroke-width="1.6"/>
<path d="M275.8 189.8H280.8M275.8 184.7H278.3M275.8 179.5H278.3M275.8 174.4H278.3M275.8 169.2H278.3M275.8 164.1H280.8M275.8 159H278.3M275.8 153.8H278.3M275.8 148.7H278.3M275.8 143.5H278.3M275.8 138.4H280.8M275.8 133.3H278.3M275.8 128.1H278.3M275.8 123H278.3M275.8 117.8H278.3M275.8 112.7H280.8M275.8 107.6H278.3M275.8 102.4H278.3M275.8 97.3H278.3M275.8 92.1H278.3M275.8 87H280.8M281.5 195.6V190.6M287.1 195.6V193.1M292.6 195.6V193.1M298.1 195.6V193.1M303.7 195.6V193.1M309.2 195.6V190.6M314.8 195.6V193.1M320.4 195.6V193.1M325.9 195.6V193.1M331.4 195.6V193.1M337 195.6V190.6M342.6 195.6V193.1M348.1 195.6V193.1M353.6 195.6V193.1M359.2 195.6V193.1M364.8 195.6V190.6M370.3 195.6V193.1M375.9 195.6V193.1M381.4 195.6V193.1M386.9 195.6V193.1M392.5 195.6V190.6M398.1 195.6V193.1" fill="none" stroke="#333" stroke-width="0.9" />
<text transform="translate(273.5,194.3) scale(1.06,1)" font-size="13" text-anchor="end" >2</text>
<text transform="translate(273.5,168.6) scale(1.06,1)" font-size="13" text-anchor="end" >3</text>
<text transform="translate(273.5,142.9) scale(1.06,1)" font-size="13" text-anchor="end" >4</text>
<text transform="translate(273.5,117.2) scale(1.06,1)" font-size="13" text-anchor="end" >5</text>
<text transform="translate(273.5,91.5) scale(1.06,1)" font-size="13" text-anchor="end" >6</text>
<text transform="translate(281.5,207.9) scale(0.98,1)" font-size="12.5" text-anchor="middle" >1600</text>
<text transform="translate(309.2,207.9) scale(0.98,1)" font-size="12.5" text-anchor="middle" >1650</text>
<text transform="translate(337,207.9) scale(0.98,1)" font-size="12.5" text-anchor="middle" >1700</text>
<text transform="translate(364.8,207.9) scale(0.98,1)" font-size="12.5" text-anchor="middle" >1750</text>
<text transform="translate(392.5,207.9) scale(0.98,1)" font-size="12.5" text-anchor="middle" >1800</text>
<text transform="translate(343.8,220.5) scale(1.06,1)" font-size="13" text-anchor="middle" ><tspan font-style="italic">W</tspan> (MeV)</text>
<text transform="translate(260.5,138.5) rotate(-90)" font-size="12" text-anchor="middle">σ  (μb)</text>
<path d="M326.5 108V195.6M351.4 108V195.6" fill="none" stroke="#222" stroke-width="0.9" stroke-dasharray="1.6 1.6"/>
<path d="M277.1 83.7 L277.9 84.9 L278.9 86.5 L280.1 88.4 L281.4 90.5 L282.8 92.6 L284 94.7 L285.1 96.7 L286.3 98.8 L287.4 101 L288.6 103.2 L289.7 105.2 L290.8 107 L292 108.7 L293.1 110.3 L294.3 111.8 L295.4 113.1 L296.6 114.3 L297.7 115.2 L298.8 116 L300 116.6 L301.1 117 L302.3 117.3 L303.4 117.4 L304.5 117.4 L305.7 117.2 L306.9 116.9 L308.1 116.3 L309.2 115.7 L310.3 115 L311.4 114.4 L312.4 113.7 L313.4 112.9 L314.3 112.1 L315.2 111.4 L316.1 110.7 L316.9 110.3 L317.6 110.1 L318.3 109.9 L318.9 109.9 L319.6 110 L320.3 110.4 L321 111.1 L321.8 112.2 L322.7 113.5 L323.7 115.1 L324.6 116.9 L325.6 118.8 L326.5 120.7 L327.4 122.8 L328.3 125 L329.1 127.4 L330 129.8 L331 132.2 L332 134.4 L333 136.6 L334.2 138.9 L335.3 141 L336.5 143.1 L337.7 145.1 L338.8 146.8 L340 148.3 L341.2 149.8 L342.4 151.1 L343.6 152.2 L344.7 153 L345.7 153.6 L346.5 153.9 L347.3 153.8 L348 153.5 L348.6 153 L349.2 152.6 L349.8 152.3 L350.3 152 L350.8 151.6 L351.2 151.2 L351.7 150.9 L352.1 150.8 L352.5 150.9 L353 151.2 L353.3 151.7 L353.7 152.3 L354.2 153 L354.7 153.9 L355.3 155 L356 156.3 L356.6 158 L357.4 159.8 L358.3 161.6 L359.4 163.2 L360.8 164.6 L362.4 165.7 L364.3 166.5 L366.4 167.3 L368.6 167.9 L370.9 168.6 L373.1 169.3 L375.3 170 L377.6 170.7 L379.9 171.4 L382.2 172.1 L384.5 172.9 L386.8 173.6 L389.3 174.6 L391.9 175.6 L394.5 176.7 L397 177.7 L399 178.5 L400.5 179.1" fill="none" stroke="#111" stroke-width="1.1" stroke-linejoin="round" />
<circle cx="284.3" cy="96.6" r="1.5" fill="none" stroke="#e02030" stroke-width="0.8"/>
<circle cx="289.7" cy="114.1" r="1.5" fill="none" stroke="#e02030" stroke-width="0.8"/>
<circle cx="295.2" cy="120.2" r="1.5" fill="none" stroke="#e02030" stroke-width="0.8"/>
<circle cx="300.7" cy="116.9" r="1.5" fill="none" stroke="#e02030" stroke-width="0.8"/>
<circle cx="306.5" cy="111.1" r="1.5" fill="none" stroke="#e02030" stroke-width="0.8"/>
<circle cx="312" cy="110.3" r="1.5" fill="none" stroke="#e02030" stroke-width="0.8"/>
<circle cx="317.4" cy="110.6" r="1.5" fill="none" stroke="#e02030" stroke-width="0.8"/>
<circle cx="323.2" cy="115" r="1.5" fill="none" stroke="#e02030" stroke-width="0.8"/>
<circle cx="328.7" cy="126.2" r="1.5" fill="none" stroke="#e02030" stroke-width="0.8"/>
<circle cx="334.2" cy="138.5" r="1.5" fill="none" stroke="#e02030" stroke-width="0.8"/>
<circle cx="339.9" cy="146.5" r="1.5" fill="none" stroke="#e02030" stroke-width="0.8"/>
<circle cx="345.4" cy="152.5" r="1.5" fill="none" stroke="#e02030" stroke-width="0.8"/>
<circle cx="351.2" cy="152.3" r="1.5" fill="none" stroke="#e02030" stroke-width="0.8"/>
<circle cx="356.6" cy="157.7" r="1.5" fill="none" stroke="#e02030" stroke-width="0.8"/>
<circle cx="362.1" cy="165.4" r="1.5" fill="none" stroke="#e02030" stroke-width="0.8"/>
<circle cx="367.9" cy="166.8" r="1.5" fill="none" stroke="#e02030" stroke-width="0.8"/>
<circle cx="373.4" cy="168.7" r="1.5" fill="none" stroke="#e02030" stroke-width="0.8"/>
<circle cx="378.9" cy="169.5" r="1.5" fill="none" stroke="#e02030" stroke-width="0.8"/>
<circle cx="384.3" cy="172.8" r="1.5" fill="none" stroke="#e02030" stroke-width="0.8"/>
<circle cx="390.1" cy="175.3" r="1.5" fill="none" stroke="#e02030" stroke-width="0.8"/>
<circle cx="395.6" cy="175.3" r="1.5" fill="none" stroke="#e02030" stroke-width="0.8"/>
<rect x="277.2" y="116.4" width="3.2" height="3.2" fill="none" stroke="#2e9d55" stroke-width="0.9"/>
<rect x="282.7" y="130.9" width="3.2" height="3.2" fill="none" stroke="#2e9d55" stroke-width="0.9"/>
<rect x="288.1" y="142.2" width="3.2" height="3.2" fill="none" stroke="#2e9d55" stroke-width="0.9"/>
<rect x="293.6" y="149.3" width="3.2" height="3.2" fill="none" stroke="#2e9d55" stroke-width="0.9"/>
<rect x="299.1" y="147.4" width="3.2" height="3.2" fill="none" stroke="#2e9d55" stroke-width="0.9"/>
<rect x="304.9" y="146.5" width="3.2" height="3.2" fill="none" stroke="#2e9d55" stroke-width="0.9"/>
<rect x="310.4" y="145.2" width="3.2" height="3.2" fill="none" stroke="#2e9d55" stroke-width="0.9"/>
<rect x="315.8" y="141.9" width="3.2" height="3.2" fill="none" stroke="#2e9d55" stroke-width="0.9"/>
<rect x="321.6" y="145.4" width="3.2" height="3.2" fill="none" stroke="#2e9d55" stroke-width="0.9"/>
<rect x="327.1" y="151.5" width="3.2" height="3.2" fill="none" stroke="#2e9d55" stroke-width="0.9"/>
<rect x="332.6" y="155.3" width="3.2" height="3.2" fill="none" stroke="#2e9d55" stroke-width="0.9"/>
<rect x="338.3" y="163" width="3.2" height="3.2" fill="none" stroke="#2e9d55" stroke-width="0.9"/>
<rect x="343.8" y="164.6" width="3.2" height="3.2" fill="none" stroke="#2e9d55" stroke-width="0.9"/>
<rect x="349.6" y="166.3" width="3.2" height="3.2" fill="none" stroke="#2e9d55" stroke-width="0.9"/>
<rect x="355" y="172.3" width="3.2" height="3.2" fill="none" stroke="#2e9d55" stroke-width="0.9"/>
<rect x="360.5" y="177.5" width="3.2" height="3.2" fill="none" stroke="#2e9d55" stroke-width="0.9"/>
<rect x="366.3" y="180.3" width="3.2" height="3.2" fill="none" stroke="#2e9d55" stroke-width="0.9"/>
<rect x="371.8" y="180" width="3.2" height="3.2" fill="none" stroke="#2e9d55" stroke-width="0.9"/>
<rect x="377.3" y="182.2" width="3.2" height="3.2" fill="none" stroke="#2e9d55" stroke-width="0.9"/>
<rect x="382.7" y="183" width="3.2" height="3.2" fill="none" stroke="#2e9d55" stroke-width="0.9"/>
<rect x="388.5" y="183.8" width="3.2" height="3.2" fill="none" stroke="#2e9d55" stroke-width="0.9"/>
<rect x="394" y="187.4" width="3.2" height="3.2" fill="none" stroke="#2e9d55" stroke-width="0.9"/>
<circle cx="319.6" cy="90" r="1.5" fill="none" stroke="#e02030" stroke-width="0.8"/>
<rect x="318" y="99.1" width="3.2" height="3.2" fill="none" stroke="#2e9d55" stroke-width="0.9"/>
<text transform="translate(325.2,92.7) scale(1.0,1)" font-size="9.2" text-anchor="start" >γ<tspan font-size="6" dy="-3">2</tspan><tspan dy="3">H → η</tspan><tspan font-style="italic">n</tspan>(<tspan font-style="italic">p</tspan>)</text>
<text transform="translate(399.8,92.7) scale(1.0,1)" font-size="9.2" text-anchor="end" >[5,7]</text>
<text transform="translate(325.2,103.2) scale(1.0,1)" font-size="9.2" text-anchor="start" >γ<tspan font-size="6" dy="-3">2</tspan><tspan dy="3">He → η</tspan><tspan font-style="italic">n</tspan>(<tspan font-style="italic">pp</tspan>)</text>
<text transform="translate(399.8,103.2) scale(1.0,1)" font-size="9.2" text-anchor="end" >[5,6]</text></svg>
<div class="l" style="left:70.8px;top:46.4px;font-size:13px;transform:scaleX(1.0513);">628</div>
<div class="l" style="left:364.0px;top:46.4px;font-size:13.6px;transform:scaleX(1.0161);letter-spacing:0.5px">KUZNETSOV<span style="letter-spacing:0;word-spacing:1.5px"> et al.</span></div>
<div class="l" style="left:90.9px;top:506.3px;font-size:11.7px;word-spacing:1.59px;transform:scaleX(1.1000);"><b>Fig. 4.</b> (Color online) Excitation functions for quasi-free</div>
<div class="l" style="left:90.9px;top:520.3px;font-size:11.7px;word-spacing:2.80px;transform:scaleX(1.1000);">photoproduction of η mesons (figure from [18]). Inset:</div>
<div class="l" style="left:90.9px;top:533.7px;font-size:11.7px;word-spacing:2.00px;transform:scaleX(1.1000);">total cross sections for quasi-free neutrons bound in the</div>
<div class="l" style="left:90.9px;top:550.1px;font-size:11.7px;word-spacing:1.70px;transform:scaleX(1.1000);">deuteron (red circles) and in <sup>3</sup>He nuclei (green squares).</div>
<div class="l" style="left:90.9px;top:562.3px;font-size:11.7px;word-spacing:1.66px;transform:scaleX(1.1000);">Fit curves include Breit–Wigner resonance for the struc-</div>
<div class="l" style="left:90.9px;top:575.9px;font-size:11.7px;word-spacing:1.33px;transform:scaleX(1.1000);">ture at 1726 MeV. Main figure: finer binned data for the</div>
<div class="l" style="left:90.9px;top:589.3px;font-size:11.7px;word-spacing:1.02px;transform:scaleX(1.1000);">measurement with deuterium target. Red circles (blue tri-</div>
<div class="l" style="left:90.9px;top:602.8px;font-size:11.7px;word-spacing:0.99px;transform:scaleX(1.1000);">angles): quasi-free neutron (proton) data. Curves: total fit</div>
<div class="l" style="left:90.9px;top:616.0px;font-size:11.7px;word-spacing:4.50px;transform:scaleX(1.1000);">(solid black curve), background contributions (dashed</div>
<div class="l" style="left:90.9px;top:628.9px;font-size:11.7px;word-spacing:0.64px;transform:scaleX(1.1000);">black curve), and sum of two narrow signal Breit–Wigner</div>
<div class="l" style="left:90.9px;top:642.0px;font-size:11.7px;word-spacing:3.77px;transform:scaleX(1.1000);">functions (red solid curve). Open black circles: back-</div>
<div class="l" style="left:90.9px;top:654.9px;font-size:11.7px;word-spacing:1.14px;transform:scaleX(1.1000);">ground-subtracted neutron data. Vertical lines: markers at</div>
<div class="l" style="left:90.9px;top:670.3px;font-size:11.7px;word-spacing:-0.11px;transform:scaleX(1.1000);"><i>W</i>&ensp;=&#8197;1681 MeV and <i>W</i>&ensp;=&#8197;1726 MeV. See [18] for details.</div>
<div class="l" style="left:70.8px;top:713.0px;font-size:14.4px;word-spacing:4.08px;transform:scaleX(1.1050);">only. In contrast, both isospin-1/2 and isospin-3/2</div>
<div class="l" style="left:70.8px;top:730.8px;font-size:14.4px;word-spacing:3.25px;transform:scaleX(1.1050);">resonances are excited in Compton scattering. The</div>
<div class="l" style="left:70.8px;top:750.8px;font-size:14.4px;word-spacing:4.94px;transform:scaleX(1.1050);">isospin-3/2 resonances (e.g., <i>D</i><sub>33</sub>(1700)) might be</div>
<div class="l" style="left:70.8px;top:768.6px;font-size:14.4px;word-spacing:0.36px;transform:scaleX(1.1050);">major contributors to this reaction [20].</div>
<div class="l" style="left:92.3px;top:795.9px;font-size:14.4px;word-spacing:0.20px;transform:scaleX(1.1050);">Could the interference of all these resonances also</div>
<div class="l" style="left:70.8px;top:813.7px;font-size:14.4px;word-spacing:0.11px;transform:scaleX(1.1050);">generate a peak at the same energy in γ<i>n</i><span class="ar">→</span>γ<i>n</i>? Even</div>
<div class="l" style="left:70.8px;top:838.7px;font-size:14.4px;word-spacing:0.43px;transform:scaleX(1.1050);">assuming that, why this peak is not seen in γ<i>n</i><span class="ar">→</span>π<sup>0</sup><i>n</i></div>
<div class="l" style="left:70.8px;top:855.5px;font-size:14.4px;word-spacing:2.31px;transform:scaleX(1.1050);">[21], which is governed by the same resonances as</div>
<div class="l" style="left:70.8px;top:873.3px;font-size:14.4px;word-spacing:1.13px;transform:scaleX(1.1050);">Compton scattering?</div>
<div class="l" style="left:92.3px;top:900.6px;font-size:14.4px;word-spacing:2.87px;transform:scaleX(1.1050);">Could the models [9, 10] explain a structure at</div>
<div class="l" style="left:70.8px;top:919.3px;font-size:14.4px;word-spacing:-0.63px;transform:scaleX(1.1050);"><i>W</i>&ensp;~&#8197;1.68 MeV observed in the beam asymmetry Σ for</div>
<div class="l" style="left:70.8px;top:936.8px;font-size:14.4px;word-spacing:0.59px;transform:scaleX(1.1050);">η photoproduction on the proton [15, 16]? The BnGa</div>
<div class="l" style="left:70.8px;top:955.5px;font-size:14.4px;word-spacing:0.05px;transform:scaleX(1.1050);">solution without <i>N*</i>(1685) is flat [22]. In contrast, the</div>
<div class="l" style="left:70.8px;top:974.3px;font-size:14.4px;word-spacing:0.58px;transform:scaleX(1.1050);">signal of <i>N</i>(1685) may appear in polarization observ-</div>
<div class="l" style="left:70.8px;top:991.7px;font-size:14.4px;word-spacing:0.19px;transform:scaleX(1.1050);">ables for γ<i>p</i><span class="ar">→</span>η<i>p</i> even if this resonance only weakly</div>
<div class="l" style="left:70.8px;top:1009.8px;font-size:14.4px;word-spacing:0.85px;transform:scaleX(1.1050);">photoexcited on the proton.</div>
<div class="l" style="left:455.4px;top:76.0px;font-size:14.4px;word-spacing:0.41px;transform:scaleX(1.1050);">Could the interference of wide resonances explain</div>
<div class="l" style="left:433.9px;top:93.1px;font-size:14.4px;word-spacing:3.55px;transform:scaleX(1.1050);">the second structure at <i>W</i>&ensp;~&#8197;1.72 GeV? Could the</div>
<div class="l" style="left:433.9px;top:109.6px;font-size:14.4px;word-spacing:1.35px;transform:scaleX(1.1050);">BnGa and other solutions reproduce this structure in</div>
<div class="l" style="left:433.9px;top:126.1px;font-size:14.4px;word-spacing:0.65px;transform:scaleX(1.1050);">the γ<i>n</i><span class="ar">→</span>η<i>n</i> cross section?</div>
<div class="l" style="left:455.4px;top:153.4px;font-size:14.4px;word-spacing:0.52px;transform:scaleX(1.1050);">These questions should be answered prior the cal-</div>
<div class="l" style="left:433.9px;top:169.8px;font-size:14.4px;word-spacing:1.98px;transform:scaleX(1.1050);">culations from [9, 10] (including the BnGa solution</div>
<div class="l" style="left:433.9px;top:186.3px;font-size:14.4px;word-spacing:-0.28px;transform:scaleX(1.1050);">used in [12]) could be employed to achieve any mean-</div>
<div class="l" style="left:433.9px;top:202.4px;font-size:14.4px;word-spacing:-0.84px;transform:scaleX(1.1050);">ingful conclusions.</div>
<div class="l" style="left:455.4px;top:230.5px;font-size:14.4px;word-spacing:3.22px;transform:scaleX(1.1050);">Moreover, in [23] it was shown that the flavor</div>
<div class="l" style="left:433.9px;top:248.6px;font-size:14.4px;word-spacing:3.52px;transform:scaleX(1.1050);"><i>SU</i>(3) symmetry implies that BnGa fine tuning of</div>
<div class="l" style="left:433.9px;top:266.4px;font-size:14.4px;word-spacing:0.57px;transform:scaleX(1.1050);">photocouplings of known <i>N</i>(1535) and <i>N</i>(1650) reso-</div>
<div class="l" style="left:433.9px;top:282.5px;font-size:14.4px;word-spacing:2.79px;transform:scaleX(1.1050);">nances unavoidably leads to a huge coupling to ϕ-</div>
<div class="l" style="left:433.9px;top:299.9px;font-size:14.4px;word-spacing:2.37px;transform:scaleX(1.1050);">meson to <i>N</i>(1650) resonance at least 5 times larger</div>
<div class="l" style="left:433.9px;top:324.0px;font-size:14.4px;word-spacing:0.25px;transform:scaleX(1.1050);">than the corresponding ρ<sup>0</sup> coupling. In terms of quark</div>
<div class="l" style="left:433.9px;top:340.4px;font-size:14.4px;word-spacing:1.75px;transform:scaleX(1.1050);">degrees of freedom, this means that the well-known</div>
<div class="l" style="left:433.9px;top:358.2px;font-size:14.4px;word-spacing:6.31px;transform:scaleX(1.1050);"><i>N</i>(1650) resonance must be a cryptoexotic pen-</div>
<div class="l" style="left:433.9px;top:374.3px;font-size:14.4px;word-spacing:3.89px;transform:scaleX(1.1050);">taquark. Its wavefunction should contain predomi-</div>
<div class="l" style="left:433.9px;top:390.8px;font-size:14.4px;word-spacing:1.12px;transform:scaleX(1.1050);">nantly an <i style="font-size:12px">s<span style="text-decoration:overline">s</span></i> component. It turns out that the conven-</div>
<div class="l" style="left:433.9px;top:407.6px;font-size:14.4px;word-spacing:2.84px;transform:scaleX(1.1050);">tional interpretation of the neutron anomaly by the</div>
<div class="l" style="left:433.9px;top:423.7px;font-size:14.4px;word-spacing:5.68px;transform:scaleX(1.1050);">interference of known resonances metamorphoses</div>
<div class="l" style="left:433.9px;top:441.8px;font-size:14.4px;word-spacing:0.37px;transform:scaleX(1.1050);">into unconventional physics picture of <i>N</i>(1650).</div>
<div class="l" style="left:455.4px;top:469.0px;font-size:14.4px;word-spacing:3.34px;transform:scaleX(1.1050);">More natural explanation of two observed phe-</div>
<div class="l" style="left:433.9px;top:485.2px;font-size:14.4px;word-spacing:0.52px;transform:scaleX(1.1050);">nomena would be the existence of one or two narrow</div>
<div class="l" style="left:433.9px;top:502.9px;font-size:14.4px;word-spacing:0.69px;transform:scaleX(1.1050);">resonances (<i>N</i>(1685) and <i>N</i>(1726)). The properties of</div>
<div class="l" style="left:433.9px;top:520.7px;font-size:14.4px;word-spacing:1.92px;transform:scaleX(1.1050);"><i>N</i>(1685), namely the narrow width Γ&#8197;≤&#8197;30 MeV, the</div>
<div class="l" style="left:433.9px;top:537.2px;font-size:14.4px;word-spacing:2.27px;transform:scaleX(1.1050);">strong photo-excitation on the neutron and the sup-</div>
<div class="l" style="left:433.9px;top:555.3px;font-size:14.4px;word-spacing:-0.34px;transform:scaleX(1.1050);">pressed decay to the π<i>N</i> final state, do coincide well to</div>
<div class="l" style="left:433.9px;top:571.4px;font-size:14.4px;word-spacing:1.74px;transform:scaleX(1.1050);">those expected for the second member of the exotic</div>
<div class="l" style="left:433.9px;top:587.9px;font-size:14.4px;word-spacing:0.56px;transform:scaleX(1.1050);">antidecuplet predicted in the framework of the Chiral</div>
<div class="l" style="left:433.9px;top:604.0px;font-size:14.4px;word-spacing:0.81px;transform:scaleX(1.1050);">Soliton Model [24] (pentaquarks). However, its deci-</div>
<div class="l" style="left:433.9px;top:620.5px;font-size:14.4px;word-spacing:-0.35px;transform:scaleX(1.1050);">sive accusation requires in particular the identification</div>
<div class="l" style="left:433.9px;top:638.6px;font-size:14.4px;word-spacing:0.39px;transform:scaleX(1.1050);">of the second structure at <i>W</i>&ensp;~&#8197;1.726 GeV.</div>
<div class="l" style="left:455.4px;top:665.7px;font-size:14.4px;word-spacing:2.95px;transform:scaleX(1.1050);">Another assumption would be the sub-threshold</div>
<div class="l" style="left:433.9px;top:683.5px;font-size:14.4px;word-spacing:-0.54px;transform:scaleX(1.1050);">virtual <i>K</i>Σ and ω<i>p</i> productions (cusps). It is favored by</div>
<div class="l" style="left:433.9px;top:699.6px;font-size:14.4px;word-spacing:1.00px;transform:scaleX(1.1050);">the fact that both structures are observed at the ener-</div>
<div class="l" style="left:433.9px;top:716.1px;font-size:14.4px;word-spacing:0.14px;transform:scaleX(1.1050);">gies which correspond to the thresholds of these reac-</div>
<div class="l" style="left:433.9px;top:732.2px;font-size:14.4px;word-spacing:-0.62px;transform:scaleX(1.1050);">tions. One should understand why these cusps are seen</div>
<div class="l" style="left:433.9px;top:749.0px;font-size:14.4px;word-spacing:1.30px;transform:scaleX(1.1050);">in the η photoproduction and Compton scattering on</div>
<div class="l" style="left:433.9px;top:765.2px;font-size:14.4px;word-spacing:0.19px;transform:scaleX(1.1050);">the neutron and are not (or poorly) seen in these reac-</div>
<div class="l" style="left:433.9px;top:789.2px;font-size:14.4px;word-spacing:1.01px;transform:scaleX(1.1050);">tions on the proton and in the π<sup>0</sup> photoproduction on</div>
<div class="l" style="left:433.9px;top:805.3px;font-size:14.4px;word-spacing:3.08px;transform:scaleX(1.1050);">both the neutron and the proton. Only one model-</div>
<div class="l" style="left:433.9px;top:823.1px;font-size:14.4px;word-spacing:2.38px;transform:scaleX(1.1050);">dependent calculation of the sub-threshold <i>K</i>Σ pho-</div>
<div class="l" style="left:433.9px;top:839.6px;font-size:14.4px;word-spacing:-0.57px;transform:scaleX(1.1050);">toproduction [25] is now available.</div>
<div class="l" style="left:455.4px;top:867.4px;font-size:14.4px;word-spacing:4.22px;transform:scaleX(1.1050);">In summary, it looks questionable whether the</div>
<div class="l" style="left:433.9px;top:883.5px;font-size:14.4px;word-spacing:8.68px;transform:scaleX(1.1050);">interference phenomena could accommodate all</div>
<div class="l" style="left:433.9px;top:900.0px;font-size:14.4px;word-spacing:5.58px;transform:scaleX(1.1050);">experimental observations. Two other hypotheses,</div>
<div class="l" style="left:433.9px;top:916.4px;font-size:14.4px;word-spacing:-0.26px;transform:scaleX(1.1050);">namely the existence of one or two narrow resonances</div>
<div class="l" style="left:433.9px;top:932.6px;font-size:14.4px;word-spacing:0.79px;transform:scaleX(1.1050);">or cusps, require further theoretical and experimental</div>
<div class="l" style="left:433.9px;top:949.0px;font-size:14.4px;transform:scaleX(1.0946);">studies.</div>
<div class="l" style="left:455.4px;top:976.3px;font-size:14.4px;word-spacing:4.20px;transform:scaleX(1.1050);">This work was supported by the High Energy</div>
<div class="l" style="left:433.9px;top:992.8px;font-size:14.4px;word-spacing:0.91px;transform:scaleX(1.1050);">Department, Petersburg Nuclear Physics Institute; by</div>
<div class="l" style="left:433.9px;top:1009.3px;font-size:14.4px;word-spacing:1.76px;transform:scaleX(1.1050);">the INFN Section of Catania; and by the Ruhr Uni-</div>
<div class="l" style="left:496.0px;top:1044.6px;font-size:13px;transform:scaleX(1.0138);letter-spacing:0.3px">JETP LETTERS</div>
<div class="l" style="left:608.4px;top:1044.6px;font-size:13px;transform:scaleX(1.0085);">Vol. 105</div>
<div class="l" style="left:674.2px;top:1044.6px;font-size:13px;transform:scaleX(1.0342);">No. 10</div>
<div class="l" style="left:731.8px;top:1044.6px;font-size:13px;transform:scaleX(0.9423);">2017</div>
</div>
<div class="pg" style="left:3392px">
<svg width="848" height="1200" viewBox="0 0 848 1200"><path d="M166.3 80.8H732.8M166.3 344.4H732.8M166.3 595.6H732.8M166.3 80.8V595.6M433.6 80.8V595.6M732.8 80.8V595.6" fill="none" stroke="#333" stroke-width="1.2" />
<path d="M166.3 91.9H174.3M433.6 91.9H441.6M166.3 102.5H170.3M433.6 102.5H437.6M166.3 113.1H170.3M433.6 113.1H437.6M166.3 123.6H170.3M433.6 123.6H437.6M166.3 134.2H174.3M433.6 134.2H441.6M166.3 144.8H170.3M433.6 144.8H437.6M166.3 155.3H170.3M433.6 155.3H437.6M166.3 165.9H170.3M433.6 165.9H437.6M166.3 176.5H174.3M433.6 176.5H441.6M166.3 187.1H170.3M433.6 187.1H437.6M166.3 197.7H170.3M433.6 197.7H437.6M166.3 208.2H170.3M433.6 208.2H437.6M166.3 218.8H174.3M433.6 218.8H441.6M166.3 229.4H170.3M433.6 229.4H437.6M166.3 239.9H170.3M433.6 239.9H437.6M166.3 250.5H170.3M433.6 250.5H437.6M166.3 261.1H174.3M433.6 261.1H441.6M166.3 271.7H170.3M433.6 271.7H437.6M166.3 282.2H170.3M433.6 282.2H437.6M166.3 292.8H170.3M433.6 292.8H437.6M166.3 303.4H174.3M433.6 303.4H441.6M166.3 314H170.3M433.6 314H437.6M166.3 324.5H170.3M433.6 324.5H437.6M166.3 335.1H170.3M433.6 335.1H437.6M166.3 350.9H170.3M433.6 350.9H437.6M166.3 357.2H174.3M433.6 357.2H441.6M166.3 363.5H170.3M433.6 363.5H437.6M166.3 369.7H170.3M433.6 369.7H437.6M166.3 376H170.3M433.6 376H437.6M166.3 382.2H174.3M433.6 382.2H441.6M166.3 388.5H170.3M433.6 388.5H437.6M166.3 394.8H170.3M433.6 394.8H437.6M166.3 401H170.3M433.6 401H437.6M166.3 407.3H174.3M433.6 407.3H441.6M166.3 413.5H170.3M433.6 413.5H437.6M166.3 419.8H170.3M433.6 419.8H437.6M166.3 426.1H170.3M433.6 426.1H437.6M166.3 432.3H174.3M433.6 432.3H441.6M166.3 438.6H170.3M433.6 438.6H437.6M166.3 444.8H170.3M433.6 444.8H437.6M166.3 451.1H170.3M433.6 451.1H437.6M166.3 457.4H174.3M433.6 457.4H441.6M166.3 463.6H170.3M433.6 463.6H437.6M166.3 469.9H170.3M433.6 469.9H437.6M166.3 476.1H170.3M433.6 476.1H437.6M166.3 482.4H174.3M433.6 482.4H441.6M166.3 488.7H170.3M433.6 488.7H437.6M166.3 494.9H170.3M433.6 494.9H437.6M166.3 501.2H170.3M433.6 501.2H437.6M166.3 507.4H174.3M433.6 507.4H441.6M166.3 513.7H170.3M433.6 513.7H437.6M166.3 520H170.3M433.6 520H437.6M166.3 526.2H170.3M433.6 526.2H437.6M166.3 532.5H174.3M433.6 532.5H441.6M166.3 538.7H170.3M433.6 538.7H437.6M166.3 545H170.3M433.6 545H437.6M166.3 551.3H170.3M433.6 551.3H437.6M166.3 557.5H174.3M433.6 557.5H441.6M166.3 563.8H170.3M433.6 563.8H437.6M166.3 570H170.3M433.6 570H437.6M166.3 576.3H170.3M433.6 576.3H437.6M166.3 582.6H174.3M433.6 582.6H441.6M166.3 588.8H170.3M433.6 588.8H437.6" fill="none" stroke="#333" stroke-width="1" />
<text transform="translate(161,96.6) scale(1.06,1)" font-size="14.2" text-anchor="end" >0.34</text>
<text transform="translate(161,138.9) scale(1.06,1)" font-size="14.2" text-anchor="end" >0.32</text>
<text transform="translate(161,181.2) scale(1.06,1)" font-size="14.2" text-anchor="end" >0.30</text>
<text transform="translate(161,223.5) scale(1.06,1)" font-size="14.2" text-anchor="end" >0.28</text>
<text transform="translate(161,265.8) scale(1.06,1)" font-size="14.2" text-anchor="end" >0.26</text>
<text transform="translate(161,308.1) scale(1.06,1)" font-size="14.2" text-anchor="end" >0.24</text>
<text transform="translate(161,361.9) scale(1.06,1)" font-size="14.2" text-anchor="end" >0.36</text>
<text transform="translate(161,386.9) scale(1.06,1)" font-size="14.2" text-anchor="end" >0.34</text>
<text transform="translate(161,412) scale(1.06,1)" font-size="14.2" text-anchor="end" >0.32</text>
<text transform="translate(161,437) scale(1.06,1)" font-size="14.2" text-anchor="end" >0.30</text>
<text transform="translate(161,462.1) scale(1.06,1)" font-size="14.2" text-anchor="end" >0.28</text>
<text transform="translate(161,487.1) scale(1.06,1)" font-size="14.2" text-anchor="end" >0.26</text>
<text transform="translate(161,512.1) scale(1.06,1)" font-size="14.2" text-anchor="end" >0.24</text>
<text transform="translate(161,537.2) scale(1.06,1)" font-size="14.2" text-anchor="end" >0.22</text>
<text transform="translate(161,562.2) scale(1.06,1)" font-size="14.2" text-anchor="end" >0.20</text>
<text transform="translate(161,587.3) scale(1.06,1)" font-size="14.2" text-anchor="end" >0.18</text>
<path d="M171.6 344.4V340.4M171.6 595.6V591.6M180 344.4V340.4M180 595.6V591.6M188.3 344.4V336.4M188.3 595.6V587.6M196.6 344.4V340.4M196.6 595.6V591.6M205 344.4V340.4M205 595.6V591.6M213.3 344.4V340.4M213.3 595.6V591.6M221.7 344.4V340.4M221.7 595.6V591.6M230 344.4V336.4M230 595.6V587.6M238.3 344.4V340.4M238.3 595.6V591.6M246.7 344.4V340.4M246.7 595.6V591.6M255 344.4V340.4M255 595.6V591.6M263.4 344.4V340.4M263.4 595.6V591.6M271.7 344.4V336.4M271.7 595.6V587.6M280 344.4V340.4M280 595.6V591.6M288.4 344.4V340.4M288.4 595.6V591.6M296.7 344.4V340.4M296.7 595.6V591.6M305.1 344.4V340.4M305.1 595.6V591.6M313.4 344.4V336.4M313.4 595.6V587.6M321.7 344.4V340.4M321.7 595.6V591.6M330.1 344.4V340.4M330.1 595.6V591.6M338.4 344.4V340.4M338.4 595.6V591.6M346.8 344.4V340.4M346.8 595.6V591.6M355.1 344.4V336.4M355.1 595.6V587.6M363.4 344.4V340.4M363.4 595.6V591.6M371.8 344.4V340.4M371.8 595.6V591.6M380.1 344.4V340.4M380.1 595.6V591.6M388.5 344.4V340.4M388.5 595.6V591.6M396.8 344.4V336.4M396.8 595.6V587.6M405.1 344.4V340.4M405.1 595.6V591.6M413.5 344.4V340.4M413.5 595.6V591.6M421.8 344.4V340.4M421.8 595.6V591.6M430.2 344.4V340.4M430.2 595.6V591.6M438.5 344.4V340.4M438.5 595.6V591.6M447.8 344.4V340.4M447.8 595.6V591.6M457.2 344.4V336.4M457.2 595.6V587.6M466.6 344.4V340.4M466.6 595.6V591.6M475.9 344.4V340.4M475.9 595.6V591.6M485.3 344.4V340.4M485.3 595.6V591.6M494.7 344.4V340.4M494.7 595.6V591.6M504.1 344.4V336.4M504.1 595.6V587.6M513.4 344.4V340.4M513.4 595.6V591.6M522.8 344.4V340.4M522.8 595.6V591.6M532.2 344.4V340.4M532.2 595.6V591.6M541.5 344.4V340.4M541.5 595.6V591.6M550.9 344.4V336.4M550.9 595.6V587.6M560.3 344.4V340.4M560.3 595.6V591.6M569.6 344.4V340.4M569.6 595.6V591.6M579 344.4V340.4M579 595.6V591.6M588.4 344.4V340.4M588.4 595.6V591.6M597.8 344.4V336.4M597.8 595.6V587.6M607.1 344.4V340.4M607.1 595.6V591.6M616.5 344.4V340.4M616.5 595.6V591.6M625.9 344.4V340.4M625.9 595.6V591.6M635.2 344.4V340.4M635.2 595.6V591.6M644.6 344.4V336.4M644.6 595.6V587.6M654 344.4V340.4M654 595.6V591.6M663.3 344.4V340.4M663.3 595.6V591.6M672.7 344.4V340.4M672.7 595.6V591.6M682.1 344.4V340.4M682.1 595.6V591.6M691.5 344.4V336.4M691.5 595.6V587.6M700.8 344.4V340.4M700.8 595.6V591.6M710.2 344.4V340.4M710.2 595.6V591.6M719.6 344.4V340.4M719.6 595.6V591.6M728.9 344.4V340.4M728.9 595.6V591.6" fill="none" stroke="#333" stroke-width="1" />
<text transform="translate(188.3,611.4) scale(1.06,1)" font-size="14.2" text-anchor="middle" >800</text>
<text transform="translate(457.2,611.4) scale(1.06,1)" font-size="14.2" text-anchor="middle" >800</text>
<text transform="translate(230,611.4) scale(1.06,1)" font-size="14.2" text-anchor="middle" >900</text>
<text transform="translate(504.1,611.4) scale(1.06,1)" font-size="14.2" text-anchor="middle" >900</text>
<text transform="translate(271.7,611.4) scale(1.06,1)" font-size="14.2" text-anchor="middle" >1000</text>
<text transform="translate(550.9,611.4) scale(1.06,1)" font-size="14.2" text-anchor="middle" >1000</text>
<text transform="translate(313.4,611.4) scale(1.06,1)" font-size="14.2" text-anchor="middle" >1100</text>
<text transform="translate(597.8,611.4) scale(1.06,1)" font-size="14.2" text-anchor="middle" >1100</text>
<text transform="translate(355.1,611.4) scale(1.06,1)" font-size="14.2" text-anchor="middle" >1200</text>
<text transform="translate(644.6,611.4) scale(1.06,1)" font-size="14.2" text-anchor="middle" >1200</text>
<text transform="translate(396.8,611.4) scale(1.06,1)" font-size="14.2" text-anchor="middle" >1300</text>
<text transform="translate(691.5,611.4) scale(1.06,1)" font-size="14.2" text-anchor="middle" >1300</text>
<text transform="translate(423.2,624.1) scale(1.06,1)" font-size="14" text-anchor="start" ><tspan font-style="italic">P</tspan><tspan font-size="10" dy="3">lab</tspan></text>
<text transform="translate(127.5,344.5) rotate(-90) scale(1.05,1)" font-size="13.5" text-anchor="middle"><tspan font-style="italic">d</tspan>σ/<tspan font-style="italic">d</tspan>Ω  (mb/sr)</text>
<text transform="translate(192.5,106.5) scale(1.06,1)" font-size="14" text-anchor="start" >θ = 88<tspan font-size="11" dy="-5">o</tspan></text>
<text transform="translate(463,106.5) scale(1.06,1)" font-size="14" text-anchor="start" >θ = 90<tspan font-size="11" dy="-5">o</tspan></text>
<text transform="translate(192.2,369.1) scale(1.06,1)" font-size="14" text-anchor="start" >θ = 92<tspan font-size="11" dy="-5">o</tspan></text>
<text transform="translate(462.6,369.1) scale(1.06,1)" font-size="14" text-anchor="start" >θ = 94<tspan font-size="11" dy="-5">o</tspan></text>
<path d="M309.7 105.3V133.4" fill="none" stroke="#2a2c98" stroke-width="0.9" />
<path d="M309.7 133.4 L307.1 128.4 L312.3 128.4 Z" fill="#2a2c98"/>
<text transform="translate(309.7,100) scale(1.06,1)" font-size="13.5" text-anchor="middle" >1720</text>
<path d="M594 105.3V133.4" fill="none" stroke="#2a2c98" stroke-width="0.9" />
<path d="M594 133.4 L591.4 128.4 L596.6 128.4 Z" fill="#2a2c98"/>
<text transform="translate(594,100) scale(1.06,1)" font-size="13.5" text-anchor="middle" >1720</text>
<path d="M309 367.4V394.6" fill="none" stroke="#2a2c98" stroke-width="0.9" />
<path d="M309 394.6 L306.4 389.6 L311.6 389.6 Z" fill="#2a2c98"/>
<text transform="translate(309,361.9) scale(1.06,1)" font-size="13.5" text-anchor="middle" >1720</text>
<path d="M594 367.4V394.6" fill="none" stroke="#2a2c98" stroke-width="0.9" />
<path d="M594 394.6 L591.4 389.6 L596.6 389.6 Z" fill="#2a2c98"/>
<text transform="translate(594,361.9) scale(1.06,1)" font-size="13.5" text-anchor="middle" >1720</text>
<path d="M282.8 300.5V250.6" fill="none" stroke="#2a2c98" stroke-width="0.9" />
<path d="M282.8 250.6 L280.2 255.6 L285.4 255.6 Z" fill="#2a2c98"/>
<text transform="translate(282.8,314.7) scale(1.06,1)" font-size="13.5" text-anchor="middle" >1686</text>
<path d="M563.2 296.7V250.6" fill="none" stroke="#2a2c98" stroke-width="0.9" />
<path d="M563.2 250.6 L560.6 255.6 L565.8 255.6 Z" fill="#2a2c98"/>
<text transform="translate(563.2,314.7) scale(1.06,1)" font-size="13.5" text-anchor="middle" >1686</text>
<path d="M282.3 551V507.7" fill="none" stroke="#2a2c98" stroke-width="0.9" />
<path d="M282.3 507.7 L279.7 512.7 L284.9 512.7 Z" fill="#2a2c98"/>
<text transform="translate(282.3,568) scale(1.06,1)" font-size="13.5" text-anchor="middle" >1686</text>
<path d="M563.8 551V507.7" fill="none" stroke="#2a2c98" stroke-width="0.9" />
<path d="M563.8 507.7 L561.2 512.7 L566.4 512.7 Z" fill="#2a2c98"/>
<text transform="translate(563.8,568) scale(1.06,1)" font-size="13.5" text-anchor="middle" >1686</text>
<path d="M186.4 144.2h2.8M186.4 167.4h2.8M187.8 144.2V167.4M187.8 152.7h2.8M187.8 176.6h2.8M189.2 152.7V176.6M189.8 148.2h2.8M189.8 171.6h2.8M191.2 148.2V171.6M191.3 156.7h2.8M191.3 184.9h2.8M192.7 156.7V184.9M192.6 155.6h2.8M192.6 181.3h2.8M194 155.6V181.3M194.2 165.9h2.8M194.2 193.4h2.8M195.6 165.9V193.4M196.1 181.2h2.8M196.1 209.5h2.8M197.5 181.2V209.5M197.6 185.5h2.8M197.6 206.7h2.8M199 185.5V206.7M199.5 207.2h2.8M199.5 231.5h2.8M200.9 207.2V231.5M200.9 193.7h2.8M200.9 222h2.8M202.3 193.7V222M203 221.4h2.8M203 248.5h2.8M204.4 221.4V248.5M204 221.5h2.8M204 241.4h2.8M205.4 221.5V241.4M205.5 225.3h2.8M205.5 245h2.8M206.9 225.3V245M207.7 228.5h2.8M207.7 251.5h2.8M209.1 228.5V251.5M208.8 216h2.8M208.8 235.2h2.8M210.2 216V235.2M210.5 224.4h2.8M210.5 245.4h2.8M211.9 224.4V245.4M212.3 238.4h2.8M212.3 257.6h2.8M213.7 238.4V257.6M213.6 235.2h2.8M213.6 260.6h2.8M215 235.2V260.6M215.6 229.2h2.8M215.6 255.7h2.8M217 229.2V255.7M217.1 241.8h2.8M217.1 269.5h2.8M218.5 241.8V269.5M218.6 239.2h2.8M218.6 259.2h2.8M220 239.2V259.2M220.4 258.5h2.8M220.4 284.3h2.8M221.8 258.5V284.3M221.7 234.1h2.8M221.7 259.4h2.8M223.1 234.1V259.4M223.8 242.4h2.8M223.8 262.3h2.8M225.2 242.4V262.3M225.3 237.9h2.8M225.3 265.5h2.8M226.7 237.9V265.5M226.4 259.3h2.8M226.4 287.8h2.8M227.8 259.3V287.8M228.3 247.7h2.8M228.3 268.5h2.8M229.7 247.7V268.5M229.9 238.3h2.8M229.9 266.6h2.8M231.3 238.3V266.6M231.2 238.6h2.8M231.2 261.2h2.8M232.6 238.6V261.2M233.2 231.8h2.8M233.2 255.3h2.8M234.6 231.8V255.3M235.1 236.5h2.8M235.1 265.2h2.8M236.5 236.5V265.2M236.5 255.3h2.8M236.5 282.4h2.8M237.9 255.3V282.4M238 228.5h2.8M238 248.6h2.8M239.4 228.5V248.6M239.9 245.4h2.8M239.9 268.4h2.8M241.3 245.4V268.4M241.2 237.2h2.8M241.2 261h2.8M242.6 237.2V261M243 235.6h2.8M243 257.5h2.8M244.4 235.6V257.5M244.5 251.5h2.8M244.5 272h2.8M245.9 251.5V272M245.9 224.3h2.8M245.9 246h2.8M247.3 224.3V246M247.6 220.1h2.8M247.6 246h2.8M249 220.1V246M249.2 219h2.8M249.2 237.6h2.8M250.6 219V237.6M250.6 218.2h2.8M250.6 242.4h2.8M252 218.2V242.4M252.7 214.3h2.8M252.7 237.3h2.8M254.1 214.3V237.3M253.8 212.3h2.8M253.8 230.9h2.8M255.2 212.3V230.9M256 214.8h2.8M256 236.7h2.8M257.4 214.8V236.7M257 190.5h2.8M257 215.4h2.8M258.4 190.5V215.4M259.2 197.7h2.8M259.2 221.5h2.8M260.6 197.7V221.5M260.8 198.6h2.8M260.8 217.7h2.8M262.2 198.6V217.7M262.1 178h2.8M262.1 206.7h2.8M263.5 178V206.7M263.6 197.8h2.8M263.6 224.4h2.8M265 197.8V224.4M265.1 160.8h2.8M265.1 189.3h2.8M266.5 160.8V189.3M266.7 176.5h2.8M266.7 196.1h2.8M268.1 176.5V196.1M268.5 176.7h2.8M268.5 197.9h2.8M269.9 176.7V197.9M270.2 166.3h2.8M270.2 185.2h2.8M271.6 166.3V185.2M271.7 159h2.8M271.7 185.6h2.8M273.1 159V185.6M273.3 141.4h2.8M273.3 162.6h2.8M274.7 141.4V162.6M275.1 144.1h2.8M275.1 163.9h2.8M276.5 144.1V163.9M276.6 139.3h2.8M276.6 162.2h2.8M278 139.3V162.2M277.9 135.2h2.8M277.9 163.1h2.8M279.3 135.2V163.1M280.1 146.7h2.8M280.1 173.6h2.8M281.5 146.7V173.6M281.6 130.2h2.8M281.6 151.3h2.8M283 130.2V151.3M282.9 144.3h2.8M282.9 164.3h2.8M284.3 144.3V164.3M284.7 153.8h2.8M284.7 181.8h2.8M286.1 153.8V181.8M285.9 169.5h2.8M285.9 193.9h2.8M287.3 169.5V193.9M287.6 173.4h2.8M287.6 199.1h2.8M289 173.4V199.1M289.3 177.9h2.8M289.3 197.2h2.8M290.7 177.9V197.2M290.8 178.9h2.8M290.8 197.9h2.8M292.2 178.9V197.9M292.4 174.1h2.8M292.4 199.7h2.8M293.8 174.1V199.7M294.6 177.5h2.8M294.6 200.4h2.8M296 177.5V200.4M296 181.2h2.8M296 200.3h2.8M297.4 181.2V200.3M297.4 177.4h2.8M297.4 205.6h2.8M298.8 177.4V205.6M299 185.6h2.8M299 210.6h2.8M300.4 185.6V210.6M301.1 183.2h2.8M301.1 210h2.8M302.5 183.2V210M302.3 170.2h2.8M302.3 189.6h2.8M303.7 170.2V189.6M303.6 170h2.8M303.6 197.3h2.8M305 170V197.3M305.4 171.8h2.8M305.4 190.9h2.8M306.8 171.8V190.9M306.9 185.7h2.8M306.9 213h2.8M308.3 185.7V213M308.4 184.2h2.8M308.4 207.4h2.8M309.8 184.2V207.4M310.1 173.6h2.8M310.1 195.6h2.8M311.5 173.6V195.6M312 192h2.8M312 216.2h2.8M313.4 192V216.2M314 188.2h2.8M314 216.3h2.8M315.4 188.2V216.3M315.5 200.5h2.8M315.5 221.7h2.8M316.9 200.5V221.7M316.7 201.9h2.8M316.7 221.7h2.8M318.1 201.9V221.7M318.2 213.3h2.8M318.2 237.2h2.8M319.6 213.3V237.2M320.2 210.5h2.8M320.2 231.4h2.8M321.6 210.5V231.4M321.5 231.5h2.8M321.5 251h2.8M322.9 231.5V251M323.6 238.8h2.8M323.6 258.9h2.8M325 238.8V258.9M325.1 235.5h2.8M325.1 254.5h2.8M326.5 235.5V254.5M326.6 218.5h2.8M326.6 239h2.8M328 218.5V239M327.9 227.3h2.8M327.9 249h2.8M329.3 227.3V249M329.3 239h2.8M329.3 260.6h2.8M330.7 239V260.6M330.9 239.7h2.8M330.9 266h2.8M332.3 239.7V266M333 254.8h2.8M333 276.2h2.8M334.4 254.8V276.2M334.9 233.4h2.8M334.9 257h2.8M336.3 233.4V257M336.5 259.9h2.8M336.5 280.2h2.8M337.9 259.9V280.2M338.1 249.6h2.8M338.1 271.7h2.8M339.5 249.6V271.7M339.1 261.3h2.8M339.1 280h2.8M340.5 261.3V280M340.7 260.3h2.8M340.7 281.3h2.8M342.1 260.3V281.3M342.9 271.3h2.8M342.9 289.9h2.8M344.3 271.3V289.9M344.4 242.7h2.8M344.4 268.7h2.8M345.8 242.7V268.7M346 258.9h2.8M346 283.1h2.8M347.4 258.9V283.1M347.1 248.5h2.8M347.1 268.9h2.8M348.5 248.5V268.9M349.2 242.5h2.8M349.2 265.9h2.8M350.6 242.5V265.9M350.8 250.1h2.8M350.8 278.2h2.8M352.2 250.1V278.2M352.4 260.8h2.8M352.4 280.3h2.8M353.8 260.8V280.3M353.7 263.9h2.8M353.7 290.8h2.8M355.1 263.9V290.8M355.3 242h2.8M355.3 264.9h2.8M356.7 242V264.9M356.9 270.4h2.8M356.9 294h2.8M358.3 270.4V294M358.4 249.2h2.8M358.4 276.3h2.8M359.8 249.2V276.3M360 266.3h2.8M360 288.8h2.8M361.4 266.3V288.8M362.1 267.5h2.8M362.1 291.2h2.8M363.5 267.5V291.2M363.2 261.6h2.8M363.2 287.1h2.8M364.6 261.6V287.1M365.2 231h2.8M365.2 259.6h2.8M366.6 231V259.6M366.6 243.8h2.8M366.6 265.7h2.8M368 243.8V265.7M367.9 242.8h2.8M367.9 269.8h2.8M369.3 242.8V269.8M370.3 234.7h2.8M370.3 260.5h2.8M371.7 234.7V260.5M371.8 242.4h2.8M371.8 267.4h2.8M373.2 242.4V267.4M373.1 263.5h2.8M373.1 286.1h2.8M374.5 263.5V286.1M374.5 238.2h2.8M374.5 260.3h2.8M375.9 238.2V260.3M376.1 249.4h2.8M376.1 268.4h2.8M377.5 249.4V268.4M378 254.4h2.8M378 274.2h2.8M379.4 254.4V274.2M379.4 242.4h2.8M379.4 261.6h2.8M380.8 242.4V261.6M381.5 242.3h2.8M381.5 268.4h2.8M382.9 242.3V268.4M382.6 229h2.8M382.6 250.1h2.8M384 229V250.1M384.7 243.2h2.8M384.7 263.3h2.8M386.1 243.2V263.3M385.9 248.2h2.8M385.9 267.6h2.8M387.3 248.2V267.6M387.6 225.7h2.8M387.6 252.9h2.8M389 225.7V252.9M389.2 239.4h2.8M389.2 266.9h2.8M390.6 239.4V266.9M390.6 230.2h2.8M390.6 255.6h2.8M392 230.2V255.6M392 231.3h2.8M392 252.6h2.8M393.4 231.3V252.6M394 223h2.8M394 243.9h2.8M395.4 223V243.9M395.8 218.8h2.8M395.8 240.3h2.8M397.2 218.8V240.3M397.3 221h2.8M397.3 244.2h2.8M398.7 221V244.2M398.9 224.6h2.8M398.9 244.7h2.8M400.3 224.6V244.7M400.5 218.8h2.8M400.5 241.9h2.8M401.9 218.8V241.9M401.9 219.6h2.8M401.9 240.7h2.8M403.3 219.6V240.7M403.7 232.8h2.8M403.7 261.2h2.8M405.1 232.8V261.2M405.3 217h2.8M405.3 245.5h2.8M406.7 217V245.5M406.8 200.9h2.8M406.8 225h2.8M408.2 200.9V225M408.6 204.5h2.8M408.6 225.5h2.8M410 204.5V225.5M410.3 211.1h2.8M410.3 239.5h2.8M411.7 211.1V239.5" fill="none" stroke="#4a4eb4" stroke-width="0.8" />
<path d="M187.8 155.8h0M189.2 164.7h0M191.2 159.9h0M192.7 170.8h0M194 168.4h0M195.6 179.6h0M197.5 195.3h0M199 196.1h0M200.9 219.4h0M202.3 207.9h0M204.4 235h0M205.4 231.5h0M206.9 235.2h0M209.1 240h0M210.2 225.6h0M211.9 234.9h0M213.7 248h0M215 247.9h0M217 242.4h0M218.5 255.7h0M220 249.2h0M221.8 271.4h0M223.1 246.8h0M225.2 252.4h0M226.7 251.7h0M227.8 273.5h0M229.7 258.1h0M231.3 252.5h0M232.6 249.9h0M234.6 243.5h0M236.5 250.8h0M237.9 268.9h0M239.4 238.6h0M241.3 256.9h0M242.6 249.1h0M244.4 246.6h0M245.9 261.8h0M247.3 235.1h0M249 233h0M250.6 228.3h0M252 230.3h0M254.1 225.8h0M255.2 221.6h0M257.4 225.8h0M258.4 202.9h0M260.6 209.6h0M262.2 208.1h0M263.5 192.3h0M265 211.1h0M266.5 175.1h0M268.1 186.3h0M269.9 187.3h0M271.6 175.8h0M273.1 172.3h0M274.7 152h0M276.5 154h0M278 150.8h0M279.3 149.2h0M281.5 160.2h0M283 140.7h0M284.3 154.3h0M286.1 167.8h0M287.3 181.7h0M289 186.2h0M290.7 187.6h0M292.2 188.4h0M293.8 186.9h0M296 188.9h0M297.4 190.7h0M298.8 191.5h0M300.4 198.1h0M302.5 196.6h0M303.7 179.9h0M305 183.7h0M306.8 181.4h0M308.3 199.4h0M309.8 195.8h0M311.5 184.6h0M313.4 204.1h0M315.4 202.2h0M316.9 211.1h0M318.1 211.8h0M319.6 225.2h0M321.6 220.9h0M322.9 241.3h0M325 248.8h0M326.5 245h0M328 228.8h0M329.3 238.1h0M330.7 249.8h0M332.3 252.9h0M334.4 265.5h0M336.3 245.2h0M337.9 270.1h0M339.5 260.6h0M340.5 270.6h0M342.1 270.8h0M344.3 280.6h0M345.8 255.7h0M347.4 271h0M348.5 258.7h0M350.6 254.2h0M352.2 264.1h0M353.8 270.6h0M355.1 277.4h0M356.7 253.4h0M358.3 282.2h0M359.8 262.7h0M361.4 277.6h0M363.5 279.4h0M364.6 274.3h0M366.6 245.3h0M368 254.8h0M369.3 256.3h0M371.7 247.6h0M373.2 254.9h0M374.5 274.8h0M375.9 249.3h0M377.5 258.9h0M379.4 264.3h0M380.8 252h0M382.9 255.4h0M384 239.5h0M386.1 253.3h0M387.3 257.9h0M389 239.3h0M390.6 253.1h0M392 242.9h0M393.4 241.9h0M395.4 233.4h0M397.2 229.6h0M398.7 232.6h0M400.3 234.7h0M401.9 230.4h0M403.3 230.2h0M405.1 247h0M406.7 231.2h0M408.2 213h0M410 215h0M411.7 225.3h0" fill="none" stroke="#2a2c98" stroke-width="5.8" stroke-linecap="round"/>
<path d="M187.9 148 L188.5 150.5 L189.4 153.8 L190.3 157.7 L191.4 162.1 L192.6 166.8 L193.8 171.7 L195.1 176.6 L196.4 181.4 L197.7 186.4 L199 191.9 L200.5 197.5 L201.9 203.3 L203.4 209 L204.9 214.4 L206.4 219.3 L207.9 223.7 L209.3 227.4 L210.8 230.8 L212.3 233.9 L213.8 236.6 L215.2 239 L216.7 241.2 L218.1 243.1 L219.4 244.8 L220.7 246.2 L221.9 247.3 L223.1 248.1 L224.2 248.7 L225.4 249.1 L226.5 249.3 L227.7 249.4 L229 249.4 L230.4 249.4 L231.7 249.3 L233.1 249.1 L234.5 248.7 L236 248.1 L237.5 247.3 L239 246.2 L240.5 244.8 L242.1 243 L243.8 240.9 L245.5 238.5 L247.3 235.9 L249 233 L250.7 230 L252.4 226.9 L254 223.7 L255.5 220.3 L257.1 216.6 L258.5 212.7 L260 208.7 L261.4 204.6 L262.8 200.6 L264.2 196.7 L265.5 192.9 L266.8 189.3 L268.1 185.5 L269.4 181.8 L270.6 178.2 L271.8 174.7 L273 171.5 L274.1 168.6 L275.1 166 L276.1 163.9 L277.1 162.1 L278.1 160.5 L279 159.2 L279.8 158.2 L280.6 157.4 L281.4 156.8 L282 156.4 L282.6 156.3 L283.2 156.4 L283.6 156.7 L284 157.3 L284.4 158.1 L284.7 159.2 L285.1 160.6 L285.5 162.2 L285.9 164.4 L286.3 167.1 L286.6 170.3 L287 173.7 L287.4 177 L287.8 180.2 L288.1 183 L288.6 185.3 L289 187 L289.4 188.4 L289.8 189.5 L290.2 190.3 L290.7 191 L291.2 191.5 L291.7 191.9 L292.4 192.2 L293.2 192.3 L294.1 192.1 L295 191.7 L296 191.2 L297 190.6 L298.1 190 L299.1 189.5 L300.1 189.1 L301.1 188.7 L302.1 188.3 L303.1 187.8 L304.1 187.3 L305 187 L306 186.8 L306.9 186.9 L307.8 187.2 L308.6 187.7 L309.4 188.4 L310.1 189.2 L310.8 190.2 L311.5 191.4 L312.1 192.9 L312.8 194.7 L313.5 196.8 L314.2 199.3 L314.9 202.1 L315.5 205.3 L316.2 208.7 L316.9 212.3 L317.6 216 L318.4 219.8 L319.3 223.7 L320.3 227.7 L321.4 232.2 L322.6 236.8 L323.9 241.6 L325.1 246.2 L326.4 250.6 L327.7 254.7 L328.9 258.3 L330.1 261.3 L331.3 264.1 L332.4 266.5 L333.6 268.7 L334.8 270.7 L336 272.4 L337.2 274 L338.5 275.5 L339.9 276.9 L341.3 278 L342.7 279 L344.2 279.7 L345.6 280.4 L347.1 280.8 L348.6 281.1 L350 281.3 L351.5 281.4 L352.8 281.4 L354.2 281.2 L355.6 280.9 L357 280.4 L358.4 279.7 L359.9 278.7 L361.6 277.5 L363.3 275.8 L365.1 273.9 L367 271.7 L369 269.3 L371 266.7 L373 264 L375 261.1 L376.9 258.3 L378.8 255.3 L380.7 252.1 L382.5 248.7 L384.4 245.3 L386.3 241.8 L388.2 238.3 L390.2 234.8 L392.3 231.4 L394.6 227.8 L397.3 224 L400.1 220.1 L402.9 216.2 L405.5 212.6 L408 209.3 L410 206.5 L411.5 204.5" fill="none" stroke="#dc3340" stroke-width="1.1" stroke-linejoin="round" />
<path d="M456.4 240.5h2.8M456.4 264h2.8M457.8 240.5V264M458.3 244.5h2.8M458.3 268.8h2.8M459.7 244.5V268.8M460.1 240.6h2.8M460.1 267.8h2.8M461.5 240.6V267.8M461.9 252.9h2.8M461.9 274.7h2.8M463.3 252.9V274.7M463.4 274.5h2.8M463.4 303h2.8M464.8 274.5V303M465.4 282.7h2.8M465.4 310.6h2.8M466.8 282.7V310.6M467 289.2h2.8M467 314.5h2.8M468.4 289.2V314.5M468.9 290h2.8M468.9 311.9h2.8M470.3 290V311.9M471 274.4h2.8M471 304.8h2.8M472.4 274.4V304.8M472.8 292.7h2.8M472.8 315.8h2.8M474.2 292.7V315.8M474.7 300.1h2.8M474.7 328.9h2.8M476.1 300.1V328.9M476.2 294.5h2.8M476.2 316.7h2.8M477.6 294.5V316.7M478.5 310.9h2.8M478.5 333h2.8M479.9 310.9V333M480 313h2.8M480 341.1h2.8M481.4 313V341.1M481.3 314.7h2.8M481.3 337.6h2.8M482.7 314.7V337.6M483.6 289.3h2.8M483.6 319.5h2.8M485 289.3V319.5M485.4 309.3h2.8M485.4 334.5h2.8M486.8 309.3V334.5M487.1 306.2h2.8M487.1 327.9h2.8M488.5 306.2V327.9M488.8 319h2.8M488.8 341.2h2.8M490.2 319V341.2M490.9 298.3h2.8M490.9 322.6h2.8M492.3 298.3V322.6M492.5 320.7h2.8M492.5 347.7h2.8M493.9 320.7V347.7M494.4 301.7h2.8M494.4 331.9h2.8M495.8 301.7V331.9M495.8 318.5h2.8M495.8 339.8h2.8M497.2 318.5V339.8M497.7 312.9h2.8M497.7 336.9h2.8M499.1 312.9V336.9M499.3 317.8h2.8M499.3 339.9h2.8M500.7 317.8V339.9M501.5 297.3h2.8M501.5 327.7h2.8M502.9 297.3V327.7M503.3 305.5h2.8M503.3 326.8h2.8M504.7 305.5V326.8M504.6 300.4h2.8M504.6 320.6h2.8M506 300.4V320.6M507 305.6h2.8M507 325.9h2.8M508.4 305.6V325.9M508.6 290.8h2.8M508.6 314.8h2.8M510 290.8V314.8M510.5 307.1h2.8M510.5 336.7h2.8M511.9 307.1V336.7M512 298.2h2.8M512 327.6h2.8M513.4 298.2V327.6M513.6 266.7h2.8M513.6 294.5h2.8M515 266.7V294.5M515.5 275.6h2.8M515.5 306.3h2.8M516.9 275.6V306.3M517.7 267.1h2.8M517.7 297.1h2.8M519.1 267.1V297.1M519.2 253.9h2.8M519.2 277.2h2.8M520.6 253.9V277.2M521.1 244.6h2.8M521.1 266.3h2.8M522.5 244.6V266.3M523 226.9h2.8M523 256.9h2.8M524.4 226.9V256.9M524.8 238.8h2.8M524.8 266.8h2.8M526.2 238.8V266.8M526.3 237.5h2.8M526.3 257.5h2.8M527.7 237.5V257.5M528.5 221.2h2.8M528.5 248.2h2.8M529.9 221.2V248.2M529.7 229.7h2.8M529.7 253.6h2.8M531.1 229.7V253.6M531.6 210.7h2.8M531.6 234.5h2.8M533 210.7V234.5M533.8 217.3h2.8M533.8 240.6h2.8M535.2 217.3V240.6M535.6 195.2h2.8M535.6 216.7h2.8M537 195.2V216.7M537.2 200.6h2.8M537.2 220.3h2.8M538.6 200.6V220.3M539 198.5h2.8M539 221.2h2.8M540.4 198.5V221.2M540.6 189.3h2.8M540.6 212.9h2.8M542 189.3V212.9M543 164.1h2.8M543 194.4h2.8M544.4 164.1V194.4M544.4 162.8h2.8M544.4 183.9h2.8M545.8 162.8V183.9M546.5 160.3h2.8M546.5 190.6h2.8M547.9 160.3V190.6M547.9 149.9h2.8M547.9 171.8h2.8M549.3 149.9V171.8M549.6 149.2h2.8M549.6 172.8h2.8M551 149.2V172.8M551.7 132.6h2.8M551.7 161.3h2.8M553.1 132.6V161.3M553.1 114.2h2.8M553.1 143h2.8M554.5 114.2V143M554.9 119.6h2.8M554.9 144.1h2.8M556.3 119.6V144.1M557.3 103.4h2.8M557.3 123.6h2.8M558.7 103.4V123.6M559 109.1h2.8M559 134h2.8M560.4 109.1V134M560.4 116.4h2.8M560.4 140.2h2.8M561.8 116.4V140.2M562 100.2h2.8M562 130h2.8M563.4 100.2V130M563.8 111.8h2.8M563.8 133.6h2.8M565.2 111.8V133.6M565.8 131.2h2.8M565.8 154.9h2.8M567.2 131.2V154.9M567.5 134.9h2.8M567.5 164.5h2.8M568.9 134.9V164.5M569.8 163.4h2.8M569.8 183.4h2.8M571.2 163.4V183.4M571 156.1h2.8M571 180.3h2.8M572.4 156.1V180.3M572.9 140.2h2.8M572.9 168.9h2.8M574.3 140.2V168.9M575.3 150.9h2.8M575.3 179h2.8M576.7 150.9V179M576.6 144.6h2.8M576.6 164.7h2.8M578 144.6V164.7M578.4 144.2h2.8M578.4 164.3h2.8M579.8 144.2V164.3M580.4 172h2.8M580.4 192.3h2.8M581.8 172V192.3M582 146.2h2.8M582 176.1h2.8M583.4 146.2V176.1M583.6 158.5h2.8M583.6 181h2.8M585 158.5V181M585.4 155.6h2.8M585.4 183.6h2.8M586.8 155.6V183.6M587.8 136.4h2.8M587.8 166h2.8M589.2 136.4V166M589.1 144.6h2.8M589.1 168h2.8M590.5 144.6V168M590.9 158.3h2.8M590.9 181h2.8M592.3 158.3V181M592.8 163.3h2.8M592.8 193.6h2.8M594.2 163.3V193.6M594.9 153.1h2.8M594.9 179.6h2.8M596.3 153.1V179.6M596.6 179.7h2.8M596.6 202.3h2.8M598 179.7V202.3M598.3 158.9h2.8M598.3 186.5h2.8M599.7 158.9V186.5M600.2 191.8h2.8M600.2 215h2.8M601.6 191.8V215M601.8 188.6h2.8M601.8 211.3h2.8M603.2 188.6V211.3M603.8 187.9h2.8M603.8 207.6h2.8M605.2 187.9V207.6M605.1 189.5h2.8M605.1 217.5h2.8M606.5 189.5V217.5M607.6 207.8h2.8M607.6 237.6h2.8M609 207.8V237.6M608.9 213h2.8M608.9 239.7h2.8M610.3 213V239.7M610.7 209.3h2.8M610.7 239.4h2.8M612.1 209.3V239.4M612.4 207h2.8M612.4 227h2.8M613.8 207V227M614.5 221.3h2.8M614.5 243.6h2.8M615.9 221.3V243.6M616.1 237.5h2.8M616.1 262.4h2.8M617.5 237.5V262.4M617.7 206.3h2.8M617.7 236.6h2.8M619.1 206.3V236.6M620.1 212.7h2.8M620.1 242.9h2.8M621.5 212.7V242.9M621.6 215.6h2.8M621.6 239.6h2.8M623 215.6V239.6M623.8 230.7h2.8M623.8 253.1h2.8M625.2 230.7V253.1M625.1 219.8h2.8M625.1 244.2h2.8M626.5 219.8V244.2M626.7 221.7h2.8M626.7 246.8h2.8M628.1 221.7V246.8M628.6 221.4h2.8M628.6 251.3h2.8M630 221.4V251.3M630.4 224.4h2.8M630.4 246.1h2.8M631.8 224.4V246.1M632.4 228.7h2.8M632.4 257.3h2.8M633.8 228.7V257.3M634.1 209.3h2.8M634.1 237.2h2.8M635.5 209.3V237.2M635.9 210h2.8M635.9 238.8h2.8M637.3 210V238.8M637.6 217.1h2.8M637.6 245.3h2.8M639 217.1V245.3M639.2 215.1h2.8M639.2 241.5h2.8M640.6 215.1V241.5M641 234.2h2.8M641 257.5h2.8M642.4 234.2V257.5M643.1 207.4h2.8M643.1 230.6h2.8M644.5 207.4V230.6M644.7 205.2h2.8M644.7 228.9h2.8M646.1 205.2V228.9M646.5 214.4h2.8M646.5 242.7h2.8M647.9 214.4V242.7M648.4 224.7h2.8M648.4 245.3h2.8M649.8 224.7V245.3M650.6 223.1h2.8M650.6 245h2.8M652 223.1V245M651.7 194.8h2.8M651.7 222.8h2.8M653.1 194.8V222.8M653.5 205.6h2.8M653.5 228h2.8M654.9 205.6V228M655.6 193.6h2.8M655.6 213.9h2.8M657 193.6V213.9M657.5 214.8h2.8M657.5 234.8h2.8M658.9 214.8V234.8M659.6 199.7h2.8M659.6 225.5h2.8M661 199.7V225.5M661.3 212.8h2.8M661.3 236.1h2.8M662.7 212.8V236.1M662.6 201.7h2.8M662.6 232.2h2.8M664 201.7V232.2M664.3 220.1h2.8M664.3 249.5h2.8M665.7 220.1V249.5M666.6 216.9h2.8M666.6 247.5h2.8M668 216.9V247.5M668.6 207.5h2.8M668.6 230.1h2.8M670 207.5V230.1M670.2 195.7h2.8M670.2 216.3h2.8M671.6 195.7V216.3M671.8 202.3h2.8M671.8 223.1h2.8M673.2 202.3V223.1M673.8 198.5h2.8M673.8 223.7h2.8M675.2 198.5V223.7M675.2 205.7h2.8M675.2 233.2h2.8M676.6 205.7V233.2M677 187.5h2.8M677 212.1h2.8M678.4 187.5V212.1M678.7 191.4h2.8M678.7 213.7h2.8M680.1 191.4V213.7M680.9 196.7h2.8M680.9 220.9h2.8M682.3 196.7V220.9M682.3 192.8h2.8M682.3 219.4h2.8M683.7 192.8V219.4M684.4 184.7h2.8M684.4 211.8h2.8M685.8 184.7V211.8M686.1 190.2h2.8M686.1 218.1h2.8M687.5 190.2V218.1M687.6 195.9h2.8M687.6 224.9h2.8M689 195.9V224.9M689.6 168h2.8M689.6 195h2.8M691 168V195M691.7 187.3h2.8M691.7 208.3h2.8M693.1 187.3V208.3M693.6 172h2.8M693.6 201h2.8M695 172V201M694.9 178.9h2.8M694.9 201.9h2.8M696.3 178.9V201.9M697.3 171.4h2.8M697.3 197.3h2.8M698.7 171.4V197.3M698.4 167.5h2.8M698.4 191.3h2.8M699.8 167.5V191.3M700.5 162.9h2.8M700.5 190.7h2.8M701.9 162.9V190.7M702.1 162.1h2.8M702.1 184h2.8M703.5 162.1V184M704.2 170.7h2.8M704.2 193.1h2.8M705.6 170.7V193.1M705.5 160.9h2.8M705.5 183.3h2.8M706.9 160.9V183.3" fill="none" stroke="#4a4eb4" stroke-width="0.8" />
<path d="M457.8 252.2h0M459.7 256.6h0M461.5 254.2h0M463.3 263.8h0M464.8 288.8h0M466.8 296.6h0M468.4 301.9h0M470.3 300.9h0M472.4 289.6h0M474.2 304.2h0M476.1 314.5h0M477.6 305.6h0M479.9 322h0M481.4 327.1h0M482.7 326.2h0M485 304.4h0M486.8 321.9h0M488.5 317.1h0M490.2 330.1h0M492.3 310.4h0M493.9 334.2h0M495.8 316.8h0M497.2 329.2h0M499.1 324.9h0M500.7 328.9h0M502.9 312.5h0M504.7 316.2h0M506 310.5h0M508.4 315.8h0M510 302.8h0M511.9 321.9h0M513.4 312.9h0M515 280.6h0M516.9 291h0M519.1 282.1h0M520.6 265.6h0M522.5 255.5h0M524.4 241.9h0M526.2 252.8h0M527.7 247.5h0M529.9 234.7h0M531.1 241.7h0M533 222.6h0M535.2 229h0M537 206h0M538.6 210.5h0M540.4 209.9h0M542 201.1h0M544.4 179.2h0M545.8 173.4h0M547.9 175.5h0M549.3 160.8h0M551 161h0M553.1 146.9h0M554.5 128.6h0M556.3 131.8h0M558.7 113.5h0M560.4 121.6h0M561.8 128.3h0M563.4 115.1h0M565.2 122.7h0M567.2 143h0M568.9 149.7h0M571.2 173.4h0M572.4 168.2h0M574.3 154.5h0M576.7 165h0M578 154.7h0M579.8 154.3h0M581.8 182.2h0M583.4 161.1h0M585 169.8h0M586.8 169.6h0M589.2 151.2h0M590.5 156.3h0M592.3 169.7h0M594.2 178.4h0M596.3 166.4h0M598 191h0M599.7 172.7h0M601.6 203.4h0M603.2 199.9h0M605.2 197.8h0M606.5 203.5h0M609 222.7h0M610.3 226.3h0M612.1 224.3h0M613.8 217h0M615.9 232.4h0M617.5 250h0M619.1 221.4h0M621.5 227.8h0M623 227.6h0M625.2 241.9h0M626.5 232h0M628.1 234.2h0M630 236.4h0M631.8 235.2h0M633.8 243h0M635.5 223.3h0M637.3 224.4h0M639 231.2h0M640.6 228.3h0M642.4 245.9h0M644.5 219h0M646.1 217h0M647.9 228.5h0M649.8 235h0M652 234h0M653.1 208.8h0M654.9 216.8h0M657 203.8h0M658.9 224.8h0M661 212.6h0M662.7 224.4h0M664 217h0M665.7 234.8h0M668 232.2h0M670 218.8h0M671.6 206h0M673.2 212.7h0M675.2 211.1h0M676.6 219.5h0M678.4 199.8h0M680.1 202.5h0M682.3 208.8h0M683.7 206.1h0M685.8 198.3h0M687.5 204.2h0M689 210.4h0M691 181.5h0M693.1 197.8h0M695 186.5h0M696.3 190.4h0M698.7 184.3h0M699.8 179.4h0M701.9 176.8h0M703.5 173h0M705.6 181.9h0M706.9 172.1h0" fill="none" stroke="#2a2c98" stroke-width="5.8" stroke-linecap="round"/>
<path d="M458 252.5 L458.7 254.1 L459.7 256.3 L460.9 258.9 L462.2 261.9 L463.6 264.9 L465.1 268 L466.6 270.9 L467.9 273.6 L469.3 276.2 L470.7 278.8 L472.2 281.4 L473.6 284 L475.1 286.5 L476.6 288.8 L478 290.9 L479.5 292.8 L480.9 294.5 L482.4 295.9 L484 297.2 L485.5 298.4 L487 299.3 L488.4 300.2 L489.7 301 L491 301.7 L492.1 302.3 L493.1 302.8 L494.1 303.2 L495 303.5 L495.8 303.7 L496.7 303.7 L497.7 303.5 L498.7 303.2 L499.8 302.7 L500.9 302.2 L502.1 301.5 L503.2 300.6 L504.5 299.6 L505.7 298.3 L507 296.7 L508.3 294.7 L509.6 292.5 L511 290 L512.5 287.2 L513.9 284.1 L515.4 280.9 L516.9 277.4 L518.4 273.7 L519.8 269.8 L521.3 265.7 L522.7 261.3 L524.1 256.7 L525.6 251.9 L527 246.9 L528.5 241.8 L529.9 236.6 L531.3 231.4 L532.8 225.9 L534.2 220.3 L535.7 214.5 L537.1 208.5 L538.5 202.6 L540 196.7 L541.4 190.9 L542.9 185.3 L544.3 179.7 L545.8 174 L547.4 168.3 L548.9 162.7 L550.3 157.3 L551.8 152.1 L553.1 147.3 L554.4 143 L555.6 138.9 L556.7 135 L557.7 131.3 L558.7 127.9 L559.6 124.9 L560.5 122.6 L561.3 120.9 L562.1 119.9 L562.7 120 L563.3 120.9 L563.8 122.6 L564.2 124.9 L564.6 127.4 L565 130.2 L565.5 132.9 L565.9 135.3 L566.4 137.8 L566.8 140.6 L567.3 143.5 L567.7 146.5 L568.2 149.4 L568.7 152.2 L569.2 154.5 L569.8 156.4 L570.4 157.9 L571 159 L571.6 159.8 L572.3 160.4 L573 160.8 L573.8 161.1 L574.6 161.3 L575.5 161.4 L576.6 161.5 L577.7 161.4 L579 161.1 L580.3 160.7 L581.6 160.3 L582.9 159.8 L584.1 159.4 L585.1 159.1 L586 158.8 L586.9 158.4 L587.6 158 L588.3 157.6 L589 157.3 L589.6 157.1 L590.2 157.2 L590.9 157.6 L591.5 158.2 L592.1 159 L592.6 160 L593.1 161.1 L593.6 162.5 L594.2 164.1 L594.8 165.9 L595.5 168 L596.2 170.3 L597 172.9 L597.7 175.7 L598.5 178.7 L599.4 181.9 L600.3 185.4 L601.3 189.1 L602.4 192.9 L603.6 197.2 L605 202 L606.4 207.2 L607.9 212.5 L609.4 217.8 L610.9 222.8 L612.5 227.4 L613.9 231.4 L615.4 234.8 L616.8 237.8 L618.3 240.6 L619.7 243.1 L621.1 245.2 L622.6 247.2 L624 249 L625.5 250.6 L626.9 251.9 L628.3 253.1 L629.8 253.9 L631.2 254.6 L632.7 255 L634.1 255.3 L635.5 255.5 L637 255.6 L638.4 255.5 L639.8 255.3 L641.1 255 L642.5 254.6 L643.9 253.9 L645.4 253.1 L646.9 251.9 L648.5 250.6 L650.2 249 L652 247.1 L653.8 245.1 L655.7 242.8 L657.7 240.3 L659.7 237.6 L661.7 234.6 L663.9 231.4 L666.1 227.8 L668.3 223.8 L670.6 219.5 L672.9 215 L675.4 210.3 L677.8 205.7 L680.4 201.2 L683.1 196.8 L686 192.3 L689.4 187.6 L692.9 182.7 L696.4 177.9 L699.8 173.4 L702.8 169.3 L705.4 165.9 L707.3 163.4" fill="none" stroke="#dc3340" stroke-width="1.1" stroke-linejoin="round" />
<path d="M186.2 544.5h2.8M186.2 557.4h2.8M187.6 544.5V557.4M188 537.6h2.8M188 547.3h2.8M189.4 537.6V547.3M189.6 548.7h2.8M189.6 559h2.8M191 548.7V559M191.1 543.3h2.8M191.1 553.7h2.8M192.5 543.3V553.7M193.2 536.6h2.8M193.2 545.7h2.8M194.6 536.6V545.7M194.2 534.9h2.8M194.2 548.2h2.8M195.6 534.9V548.2M196.1 548.7h2.8M196.1 561.5h2.8M197.5 548.7V561.5M198.1 536.8h2.8M198.1 549.2h2.8M199.5 536.8V549.2M198.9 546.8h2.8M198.9 555.7h2.8M200.3 546.8V555.7M200.7 548.5h2.8M200.7 561.5h2.8M202.1 548.5V561.5M202.9 538h2.8M202.9 550.6h2.8M204.3 538V550.6M204 541.7h2.8M204 552.9h2.8M205.4 541.7V552.9M206 543.4h2.8M206 556h2.8M207.4 543.4V556M207.6 549.2h2.8M207.6 560.3h2.8M209 549.2V560.3M209.3 554h2.8M209.3 563.9h2.8M210.7 554V563.9M210.6 553.1h2.8M210.6 562.4h2.8M212 553.1V562.4M211.9 546.6h2.8M211.9 556.6h2.8M213.3 546.6V556.6M213.5 550.8h2.8M213.5 559.8h2.8M214.9 550.8V559.8M215.1 541.8h2.8M215.1 552.3h2.8M216.5 541.8V552.3M216.7 542.3h2.8M216.7 554.8h2.8M218.1 542.3V554.8M218.1 542.6h2.8M218.1 554.9h2.8M219.5 542.6V554.9M219.9 551.8h2.8M219.9 564.8h2.8M221.3 551.8V564.8M221.6 547.4h2.8M221.6 559.8h2.8M223 547.4V559.8M223.4 553.4h2.8M223.4 563.6h2.8M224.8 553.4V563.6M224.6 547.5h2.8M224.6 559.1h2.8M226 547.5V559.1M226.6 544.5h2.8M226.6 555.5h2.8M228 544.5V555.5M228.3 541.3h2.8M228.3 554.1h2.8M229.7 541.3V554.1M229.9 528.3h2.8M229.9 539.7h2.8M231.3 528.3V539.7M231.3 525.1h2.8M231.3 535.3h2.8M232.7 525.1V535.3M233.4 525h2.8M233.4 537h2.8M234.8 525V537M234.4 513.8h2.8M234.4 527.4h2.8M235.8 513.8V527.4M236.1 514.4h2.8M236.1 524.4h2.8M237.5 514.4V524.4M238.1 515.6h2.8M238.1 528.8h2.8M239.5 515.6V528.8M239.1 510.7h2.8M239.1 519.6h2.8M240.5 510.7V519.6M241.2 506h2.8M241.2 516.1h2.8M242.6 506V516.1M242.9 501.9h2.8M242.9 511.9h2.8M244.3 501.9V511.9M244.1 497.6h2.8M244.1 510.1h2.8M245.5 497.6V510.1M246.1 485.1h2.8M246.1 498.7h2.8M247.5 485.1V498.7M247.4 488.2h2.8M247.4 500.8h2.8M248.8 488.2V500.8M249 484.2h2.8M249 494.7h2.8M250.4 484.2V494.7M250.7 478.4h2.8M250.7 491.6h2.8M252.1 478.4V491.6M252.3 462.5h2.8M252.3 473h2.8M253.7 462.5V473M253.7 455.1h2.8M253.7 465.2h2.8M255.1 455.1V465.2M255.2 453.2h2.8M255.2 466.5h2.8M256.6 453.2V466.5M257 449.8h2.8M257 461.7h2.8M258.4 449.8V461.7M258.6 439.8h2.8M258.6 452h2.8M260 439.8V452M260.5 437.7h2.8M260.5 449.8h2.8M261.9 437.7V449.8M261.5 429.6h2.8M261.5 443.3h2.8M262.9 429.6V443.3M263.8 428h2.8M263.8 439.1h2.8M265.2 428V439.1M264.6 417.3h2.8M264.6 430.3h2.8M266 417.3V430.3M267 403.9h2.8M267 416.2h2.8M268.4 403.9V416.2M268.3 412.9h2.8M268.3 426h2.8M269.7 412.9V426M270.1 405.5h2.8M270.1 416.5h2.8M271.5 405.5V416.5M271.2 404.8h2.8M271.2 417.2h2.8M272.6 404.8V417.2M272.9 397.8h2.8M272.9 409.5h2.8M274.3 397.8V409.5M274.4 380.7h2.8M274.4 391.1h2.8M275.8 380.7V391.1M276 385.2h2.8M276 395.1h2.8M277.4 385.2V395.1M277.7 388h2.8M277.7 400h2.8M279.1 388V400M279.1 382.6h2.8M279.1 391.8h2.8M280.5 382.6V391.8M281.4 386.9h2.8M281.4 400.3h2.8M282.8 386.9V400.3M282.2 374h2.8M282.2 383.6h2.8M283.6 374V383.6M283.8 385.6h2.8M283.8 394.6h2.8M285.2 385.6V394.6M286.1 402.8h2.8M286.1 412.1h2.8M287.5 402.8V412.1M287.5 406.2h2.8M287.5 419.6h2.8M288.9 406.2V419.6M289.1 404.5h2.8M289.1 415h2.8M290.5 404.5V415M290.7 412.7h2.8M290.7 422.2h2.8M292.1 412.7V422.2M292.2 405.4h2.8M292.2 414.4h2.8M293.6 405.4V414.4M293.8 398.7h2.8M293.8 407.7h2.8M295.2 398.7V407.7M295 397.3h2.8M295 409.6h2.8M296.4 397.3V409.6M296.8 397.7h2.8M296.8 409.7h2.8M298.2 397.7V409.7M298.9 402.8h2.8M298.9 415.1h2.8M300.3 402.8V415.1M300 396.2h2.8M300 408.7h2.8M301.4 396.2V408.7M301.8 405.5h2.8M301.8 414.7h2.8M303.2 405.5V414.7M303.4 404.2h2.8M303.4 416h2.8M304.8 404.2V416M304.7 398.4h2.8M304.7 409.1h2.8M306.1 398.4V409.1M306.3 406.5h2.8M306.3 419.4h2.8M307.7 406.5V419.4M308.4 414h2.8M308.4 426.9h2.8M309.8 414V426.9M310.1 413.4h2.8M310.1 426.7h2.8M311.5 413.4V426.7M311.5 419.5h2.8M311.5 428.7h2.8M312.9 419.5V428.7M313 418.7h2.8M313 431.8h2.8M314.4 418.7V431.8M315.1 428.8h2.8M315.1 442.1h2.8M316.5 428.8V442.1M316.7 433.6h2.8M316.7 447.1h2.8M318.1 433.6V447.1M318.1 433.2h2.8M318.1 442.6h2.8M319.5 433.2V442.6M319.9 432.2h2.8M319.9 442h2.8M321.3 432.2V442M321.1 446h2.8M321.1 455.4h2.8M322.5 446V455.4M322.4 436.4h2.8M322.4 445.4h2.8M323.8 436.4V445.4M324.5 434.6h2.8M324.5 447.6h2.8M325.9 434.6V447.6M325.8 434.1h2.8M325.8 446.9h2.8M327.2 434.1V446.9M327.7 444.9h2.8M327.7 456.9h2.8M329.1 444.9V456.9M328.9 448.9h2.8M328.9 461.9h2.8M330.3 448.9V461.9M331 447.5h2.8M331 459.5h2.8M332.4 447.5V459.5M332.7 451.9h2.8M332.7 462.2h2.8M334.1 451.9V462.2M333.7 448.2h2.8M333.7 457.6h2.8M335.1 448.2V457.6M335.4 455.8h2.8M335.4 465.1h2.8M336.8 455.8V465.1M336.7 450.2h2.8M336.7 462.8h2.8M338.1 450.2V462.8M339.1 455.2h2.8M339.1 465.1h2.8M340.5 455.2V465.1M340.5 455.2h2.8M340.5 465.7h2.8M341.9 455.2V465.7M342.2 451.6h2.8M342.2 462.5h2.8M343.6 451.6V462.5M343.2 447.7h2.8M343.2 456.7h2.8M344.6 447.7V456.7M345 453.2h2.8M345 463.3h2.8M346.4 453.2V463.3M347 448.8h2.8M347 459.1h2.8M348.4 448.8V459.1M348.6 451.9h2.8M348.6 464.3h2.8M350 451.9V464.3M349.6 470.7h2.8M349.6 481.4h2.8M351 470.7V481.4M351.4 463h2.8M351.4 473.5h2.8M352.8 463V473.5M353.4 459.6h2.8M353.4 473.3h2.8M354.8 459.6V473.3M354.8 469.9h2.8M354.8 481.2h2.8M356.2 469.9V481.2M356.2 460.1h2.8M356.2 473.2h2.8M357.6 460.1V473.2M357.7 453.9h2.8M357.7 465.9h2.8M359.1 453.9V465.9M359.7 467.7h2.8M359.7 476.7h2.8M361.1 467.7V476.7M360.9 459.8h2.8M360.9 470.7h2.8M362.3 459.8V470.7M362.9 462.5h2.8M362.9 473.5h2.8M364.3 462.5V473.5M364.5 451.8h2.8M364.5 464.5h2.8M365.9 451.8V464.5M365.8 453.5h2.8M365.8 464.1h2.8M367.2 453.5V464.1M367.3 449.9h2.8M367.3 462.3h2.8M368.7 449.9V462.3M369.2 443.4h2.8M369.2 454.9h2.8M370.6 443.4V454.9M371.1 449.3h2.8M371.1 459.3h2.8M372.5 449.3V459.3M372 446.3h2.8M372 459.4h2.8M373.4 446.3V459.4M373.6 451.3h2.8M373.6 460.6h2.8M375 451.3V460.6M375.1 439h2.8M375.1 451.9h2.8M376.5 439V451.9M377 442.3h2.8M377 452h2.8M378.4 442.3V452M378.5 433.2h2.8M378.5 442h2.8M379.9 433.2V442M380.1 433.4h2.8M380.1 443.2h2.8M381.5 433.4V443.2M382.1 428.9h2.8M382.1 441.5h2.8M383.5 428.9V441.5M383.9 429.6h2.8M383.9 443.3h2.8M385.3 429.6V443.3M385 430.9h2.8M385 439.8h2.8M386.4 430.9V439.8M386.9 428.2h2.8M386.9 439.5h2.8M388.3 428.2V439.5M388.7 425.2h2.8M388.7 436.5h2.8M390.1 425.2V436.5M389.8 418.4h2.8M389.8 431.2h2.8M391.2 418.4V431.2M391.2 418.5h2.8M391.2 428.3h2.8M392.6 418.5V428.3M393.1 414.1h2.8M393.1 425.4h2.8M394.5 414.1V425.4M394.9 408.3h2.8M394.9 418.9h2.8M396.3 408.3V418.9M396.6 417.2h2.8M396.6 430.2h2.8M398 417.2V430.2M397.8 415.7h2.8M397.8 425.9h2.8M399.2 415.7V425.9M399.6 409.2h2.8M399.6 422.8h2.8M401 409.2V422.8M401.1 409.3h2.8M401.1 419.5h2.8M402.5 409.3V419.5M403 408.6h2.8M403 418.5h2.8M404.4 408.6V418.5M404 396.9h2.8M404 409.3h2.8M405.4 396.9V409.3M405.7 400h2.8M405.7 411.3h2.8M407.1 400V411.3M407.3 398h2.8M407.3 407.4h2.8M408.7 398V407.4M409.3 394.6h2.8M409.3 406.6h2.8M410.7 394.6V406.6" fill="none" stroke="#4a4eb4" stroke-width="0.8" />
<path d="M187.6 550.9h0M189.4 542.4h0M191 553.9h0M192.5 548.5h0M194.6 541.1h0M195.6 541.6h0M197.5 555.1h0M199.5 543h0M200.3 551.2h0M202.1 555h0M204.3 544.3h0M205.4 547.3h0M207.4 549.7h0M209 554.8h0M210.7 559h0M212 557.8h0M213.3 551.6h0M214.9 555.3h0M216.5 547.1h0M218.1 548.6h0M219.5 548.7h0M221.3 558.3h0M223 553.6h0M224.8 558.5h0M226 553.3h0M228 550h0M229.7 547.7h0M231.3 534h0M232.7 530.2h0M234.8 531h0M235.8 520.6h0M237.5 519.4h0M239.5 522.2h0M240.5 515.2h0M242.6 511.1h0M244.3 506.9h0M245.5 503.9h0M247.5 491.9h0M248.8 494.5h0M250.4 489.4h0M252.1 485h0M253.7 467.7h0M255.1 460.2h0M256.6 459.9h0M258.4 455.8h0M260 445.9h0M261.9 443.7h0M262.9 436.5h0M265.2 433.5h0M266 423.8h0M268.4 410.1h0M269.7 419.4h0M271.5 411h0M272.6 411h0M274.3 403.6h0M275.8 385.9h0M277.4 390.1h0M279.1 394h0M280.5 387.2h0M282.8 393.6h0M283.6 378.8h0M285.2 390.1h0M287.5 407.5h0M288.9 412.9h0M290.5 409.8h0M292.1 417.5h0M293.6 409.9h0M295.2 403.2h0M296.4 403.4h0M298.2 403.7h0M300.3 409h0M301.4 402.4h0M303.2 410.1h0M304.8 410.1h0M306.1 403.8h0M307.7 412.9h0M309.8 420.4h0M311.5 420.1h0M312.9 424.1h0M314.4 425.3h0M316.5 435.5h0M318.1 440.4h0M319.5 437.9h0M321.3 437.1h0M322.5 450.7h0M323.8 440.9h0M325.9 441.1h0M327.2 440.5h0M329.1 450.9h0M330.3 455.4h0M332.4 453.5h0M334.1 457h0M335.1 452.9h0M336.8 460.4h0M338.1 456.5h0M340.5 460.2h0M341.9 460.4h0M343.6 457h0M344.6 452.2h0M346.4 458.2h0M348.4 454h0M350 458.1h0M351 476.1h0M352.8 468.2h0M354.8 466.5h0M356.2 475.5h0M357.6 466.7h0M359.1 459.9h0M361.1 472.2h0M362.3 465.3h0M364.3 468h0M365.9 458.1h0M367.2 458.8h0M368.7 456.1h0M370.6 449.1h0M372.5 454.3h0M373.4 452.8h0M375 456h0M376.5 445.5h0M378.4 447.2h0M379.9 437.6h0M381.5 438.3h0M383.5 435.2h0M385.3 436.4h0M386.4 435.4h0M388.3 433.8h0M390.1 430.9h0M391.2 424.8h0M392.6 423.4h0M394.5 419.7h0M396.3 413.6h0M398 423.7h0M399.2 420.8h0M401 416h0M402.5 414.4h0M404.4 413.5h0M405.4 403.1h0M407.1 405.7h0M408.7 402.7h0M410.7 400.6h0" fill="none" stroke="#2a2c98" stroke-width="5.8" stroke-linecap="round"/>
<path d="M187.9 526.8 L188.6 527.2 L189.5 527.8 L190.6 528.4 L191.8 529.2 L193.1 529.9 L194.5 530.7 L195.9 531.3 L197.3 531.9 L198.7 532.4 L200.2 532.8 L201.8 533.2 L203.4 533.6 L205.1 534 L206.7 534.2 L208.4 534.4 L210 534.4 L211.6 534.4 L213.2 534.3 L214.9 534.2 L216.5 534 L218.1 533.7 L219.7 533.2 L221.3 532.6 L222.8 531.9 L224.2 531 L225.6 530.1 L226.9 529 L228.2 527.9 L229.5 526.5 L230.8 525 L232.1 523.2 L233.4 521.3 L234.7 519 L236 516.5 L237.4 513.8 L238.7 510.9 L240 507.8 L241.3 504.6 L242.7 501.3 L244 497.9 L245.3 494.3 L246.7 490.7 L248 486.8 L249.3 482.9 L250.6 478.8 L252 474.6 L253.3 470.3 L254.6 466 L256 461.5 L257.3 456.8 L258.6 451.9 L259.9 447 L261.3 442.1 L262.6 437.2 L263.9 432.4 L265.3 427.8 L266.6 423.2 L268 418.5 L269.4 413.8 L270.8 409.2 L272.2 404.8 L273.5 400.7 L274.8 397 L275.9 393.8 L276.9 390.9 L277.8 388.3 L278.7 386 L279.5 384 L280.2 382.4 L280.9 381.2 L281.6 380.4 L282.3 380.2 L282.9 380.6 L283.5 381.7 L284 383.3 L284.5 385.3 L285 387.5 L285.5 389.8 L286 391.9 L286.5 393.8 L287 395.5 L287.5 397.3 L287.9 399.1 L288.4 400.9 L288.8 402.6 L289.4 404.1 L290 405.5 L290.8 406.5 L291.6 407.2 L292.6 407.6 L293.7 407.8 L294.9 407.9 L296 407.8 L297.2 407.7 L298.3 407.7 L299.3 407.8 L300.2 407.9 L301 407.9 L301.8 408 L302.6 408 L303.3 408.1 L304.1 408.3 L304.8 408.6 L305.6 409.1 L306.4 409.6 L307.2 410.3 L307.9 411 L308.7 411.8 L309.5 412.8 L310.3 414 L311.1 415.4 L312 417.1 L312.9 419.2 L313.9 421.5 L314.8 424.1 L315.9 426.9 L316.9 429.8 L318 432.8 L319.2 435.6 L320.5 438.4 L321.9 441.1 L323.4 444 L325 446.9 L326.6 449.8 L328.3 452.6 L330 455.2 L331.6 457.6 L333.3 459.6 L334.9 461.4 L336.5 462.9 L338.1 464.2 L339.8 465.3 L341.4 466.2 L343 467 L344.5 467.6 L346 468.1 L347.4 468.5 L348.7 468.8 L350 468.9 L351.2 468.9 L352.4 468.7 L353.7 468.3 L355.1 467.7 L356.6 466.9 L358.3 465.8 L360 464.5 L361.8 463 L363.7 461.3 L365.6 459.5 L367.5 457.5 L369.5 455.4 L371.5 453.3 L373.5 451 L375.5 448.6 L377.5 446.1 L379.6 443.5 L381.7 440.8 L383.8 437.9 L386.1 435 L388.5 432 L391.2 428.7 L394.2 424.9 L397.4 420.9 L400.6 416.9 L403.7 413 L406.5 409.5 L408.9 406.6 L410.6 404.4" fill="none" stroke="#dc3340" stroke-width="1.1" stroke-linejoin="round" />
<path d="M456.6 580.9h2.8M456.6 592.8h2.8M458 580.9V592.8M459 570.6h2.8M459 582.7h2.8M460.4 570.6V582.7M460.5 573.9h2.8M460.5 586.6h2.8M461.9 573.9V586.6M462.1 580.3h2.8M462.1 593.7h2.8M463.5 580.3V593.7M464.2 584.5h2.8M464.2 596.4h2.8M465.6 584.5V596.4M465.2 581.3h2.8M465.2 593.2h2.8M466.6 581.3V593.2M467.1 573.6h2.8M467.1 585.6h2.8M468.5 573.6V585.6M469.1 582.4h2.8M469.1 594.7h2.8M470.5 582.4V594.7M470.7 576.1h2.8M470.7 587.9h2.8M472.1 576.1V587.9M472.5 569.4h2.8M472.5 581.6h2.8M473.9 569.4V581.6M474.3 572.7h2.8M474.3 582.6h2.8M475.7 572.7V582.6M476.2 562.1h2.8M476.2 574.3h2.8M477.6 562.1V574.3M477.6 569.2h2.8M477.6 580.3h2.8M479 569.2V580.3M479.8 571.1h2.8M479.8 583.7h2.8M481.2 571.1V583.7M481.4 569.3h2.8M481.4 578.6h2.8M482.8 569.3V578.6M482.9 565.4h2.8M482.9 575.1h2.8M484.3 565.4V575.1M484.9 565.8h2.8M484.9 574.8h2.8M486.3 565.8V574.8M486.4 564.2h2.8M486.4 576.9h2.8M487.8 564.2V576.9M488.5 563.7h2.8M488.5 577.1h2.8M489.9 563.7V577.1M489.7 566.5h2.8M489.7 578.6h2.8M491.1 566.5V578.6M491.8 563.8h2.8M491.8 574.5h2.8M493.2 563.8V574.5M493.1 557.7h2.8M493.1 570.7h2.8M494.5 557.7V570.7M494.9 556.5h2.8M494.9 569.3h2.8M496.3 556.5V569.3M496.5 563.5h2.8M496.5 575.1h2.8M497.9 563.5V575.1M498.4 561.7h2.8M498.4 571.8h2.8M499.8 561.7V571.8M500.5 562.4h2.8M500.5 572.7h2.8M501.9 562.4V572.7M501.7 545.7h2.8M501.7 556.6h2.8M503.1 545.7V556.6M503.7 539.7h2.8M503.7 550.2h2.8M505.1 539.7V550.2M505.9 538.6h2.8M505.9 549.6h2.8M507.3 538.6V549.6M507.2 525.8h2.8M507.2 537.9h2.8M508.6 525.8V537.9M508.7 527.2h2.8M508.7 540.7h2.8M510.1 527.2V540.7M510.4 526.9h2.8M510.4 536h2.8M511.8 526.9V536M512.3 527.7h2.8M512.3 539.4h2.8M513.7 527.7V539.4M514.4 519.9h2.8M514.4 529h2.8M515.8 519.9V529M516 505.9h2.8M516 515.3h2.8M517.4 505.9V515.3M517.6 508.5h2.8M517.6 521.3h2.8M519 508.5V521.3M519 501.9h2.8M519 513.6h2.8M520.4 501.9V513.6M521.3 492.5h2.8M521.3 505.9h2.8M522.7 492.5V505.9M523.2 487.4h2.8M523.2 498.5h2.8M524.6 487.4V498.5M524.8 490.5h2.8M524.8 499.4h2.8M526.2 490.5V499.4M526.2 484.4h2.8M526.2 495.1h2.8M527.6 484.4V495.1M528.3 473.1h2.8M528.3 484.9h2.8M529.7 473.1V484.9M530 453.5h2.8M530 467h2.8M531.4 453.5V467M531.6 443.9h2.8M531.6 457.6h2.8M533 443.9V457.6M533.3 441.6h2.8M533.3 452.8h2.8M534.7 441.6V452.8M535 443.2h2.8M535 454.1h2.8M536.4 443.2V454.1M536.3 426.9h2.8M536.3 436.2h2.8M537.7 426.9V436.2M538.6 429.8h2.8M538.6 441.9h2.8M540 429.8V441.9M540.2 422.8h2.8M540.2 432.7h2.8M541.6 422.8V432.7M541.8 420.8h2.8M541.8 430.4h2.8M543.2 420.8V430.4M543.7 401.7h2.8M543.7 410.7h2.8M545.1 401.7V410.7M545.7 404.9h2.8M545.7 413.7h2.8M547.1 404.9V413.7M546.8 386.9h2.8M546.8 399.1h2.8M548.2 386.9V399.1M548.7 379.3h2.8M548.7 388.7h2.8M550.1 379.3V388.7M550.5 379.8h2.8M550.5 393.5h2.8M551.9 379.8V393.5M552.3 374.9h2.8M552.3 384.2h2.8M553.7 374.9V384.2M553.7 370.4h2.8M553.7 383.6h2.8M555.1 370.4V383.6M555.7 354.4h2.8M555.7 363.9h2.8M557.1 354.4V363.9M557.1 353.9h2.8M557.1 362.9h2.8M558.5 353.9V362.9M559.4 349.6h2.8M559.4 362h2.8M560.8 349.6V362M560.9 345h2.8M560.9 355h2.8M562.3 345V355M562.7 344.7h2.8M562.7 357.2h2.8M564.1 344.7V357.2M564.3 362.4h2.8M564.3 372.2h2.8M565.7 362.4V372.2M566.3 377.5h2.8M566.3 386.5h2.8M567.7 377.5V386.5M567.8 383.6h2.8M567.8 396.3h2.8M569.2 383.6V396.3M570 388.3h2.8M570 400.7h2.8M571.4 388.3V400.7M571.2 396.1h2.8M571.2 409.2h2.8M572.6 396.1V409.2M573 396.1h2.8M573 408.6h2.8M574.4 396.1V408.6M574.4 393.2h2.8M574.4 402.4h2.8M575.8 393.2V402.4M576.7 400.3h2.8M576.7 412.2h2.8M578.1 400.3V412.2M578.1 397.8h2.8M578.1 410.2h2.8M579.5 397.8V410.2M580.2 403.1h2.8M580.2 414.2h2.8M581.6 403.1V414.2M582.1 395h2.8M582.1 408.5h2.8M583.5 395V408.5M583.7 399.8h2.8M583.7 409.9h2.8M585.1 399.8V409.9M585.1 399.6h2.8M585.1 413.3h2.8M586.5 399.6V413.3M587.1 403.3h2.8M587.1 415.7h2.8M588.5 403.3V415.7M588.9 399.5h2.8M588.9 408.4h2.8M590.3 399.5V408.4M590.4 400.5h2.8M590.4 409.5h2.8M591.8 400.5V409.5M591.9 398.6h2.8M591.9 410.7h2.8M593.3 398.6V410.7M594 395.5h2.8M594 408.4h2.8M595.4 395.5V408.4M595.8 403.6h2.8M595.8 412.9h2.8M597.2 403.6V412.9M597.1 397.3h2.8M597.1 407.6h2.8M598.5 397.3V407.6M599.1 414.6h2.8M599.1 427.1h2.8M600.5 414.6V427.1M600.6 420.7h2.8M600.6 430.4h2.8M602 420.7V430.4M602.8 416.3h2.8M602.8 429.4h2.8M604.2 416.3V429.4M604 425h2.8M604 436.2h2.8M605.4 425V436.2M605.9 425.5h2.8M605.9 434.6h2.8M607.3 425.5V434.6M607.9 428.8h2.8M607.9 439.5h2.8M609.3 428.8V439.5M609.2 432h2.8M609.2 443.7h2.8M610.6 432V443.7M611.2 438.5h2.8M611.2 449.5h2.8M612.6 438.5V449.5M612.8 432.4h2.8M612.8 444.6h2.8M614.2 432.4V444.6M614.5 434.7h2.8M614.5 444.2h2.8M615.9 434.7V444.2M616.7 432.4h2.8M616.7 445.2h2.8M618.1 432.4V445.2M618.4 433.8h2.8M618.4 444.4h2.8M619.8 433.8V444.4M620.2 436.3h2.8M620.2 448.3h2.8M621.6 436.3V448.3M621.8 435.1h2.8M621.8 447.1h2.8M623.2 435.1V447.1M623.4 440.1h2.8M623.4 451.1h2.8M624.8 440.1V451.1M625.4 441.2h2.8M625.4 451.9h2.8M626.8 441.2V451.9M626.9 440.8h2.8M626.9 453.5h2.8M628.3 440.8V453.5M628.2 443.3h2.8M628.2 456.9h2.8M629.6 443.3V456.9M630 442.6h2.8M630 455.4h2.8M631.4 442.6V455.4M631.7 438.4h2.8M631.7 450h2.8M633.1 438.4V450M634 444.7h2.8M634 455h2.8M635.4 444.7V455M635.8 441.4h2.8M635.8 450.6h2.8M637.2 441.4V450.6M637.2 443.4h2.8M637.2 457.1h2.8M638.6 443.4V457.1M639.2 434.6h2.8M639.2 446.9h2.8M640.6 434.6V446.9M640.9 443h2.8M640.9 455.9h2.8M642.3 443V455.9M642.5 438.3h2.8M642.5 448.8h2.8M643.9 438.3V448.8M644.1 439.4h2.8M644.1 451.3h2.8M645.5 439.4V451.3M646.1 443h2.8M646.1 456.7h2.8M647.5 443V456.7M647.6 446.4h2.8M647.6 459.4h2.8M649 446.4V459.4M649 449.8h2.8M649 461.6h2.8M650.4 449.8V461.6M651 450.8h2.8M651 461.1h2.8M652.4 450.8V461.1M652.4 445.7h2.8M652.4 456.6h2.8M653.8 445.7V456.6M654.5 434.4h2.8M654.5 447.7h2.8M655.9 434.4V447.7M656.5 440.4h2.8M656.5 451.1h2.8M657.9 440.4V451.1M657.5 440.8h2.8M657.5 453h2.8M658.9 440.8V453M659.7 431.2h2.8M659.7 443h2.8M661.1 431.2V443M661.6 434h2.8M661.6 447.3h2.8M663 434V447.3M663.1 427.4h2.8M663.1 440.2h2.8M664.5 427.4V440.2M665.3 435.3h2.8M665.3 445.6h2.8M666.7 435.3V445.6M666.7 430.9h2.8M666.7 439.7h2.8M668.1 430.9V439.7M667.9 421h2.8M667.9 431.1h2.8M669.3 421V431.1M670.4 417.5h2.8M670.4 428.5h2.8M671.8 417.5V428.5M671.7 428.1h2.8M671.7 439.8h2.8M673.1 428.1V439.8M673.5 416.4h2.8M673.5 429.3h2.8M674.9 416.4V429.3M675.6 422.6h2.8M675.6 435.8h2.8M677 422.6V435.8M677.1 418.4h2.8M677.1 427.5h2.8M678.5 418.4V427.5M678.6 415.6h2.8M678.6 428.6h2.8M680 415.6V428.6M680.4 406.6h2.8M680.4 419.5h2.8M681.8 406.6V419.5M682.2 408.4h2.8M682.2 421.6h2.8M683.6 408.4V421.6M683.9 403.1h2.8M683.9 414.7h2.8M685.3 403.1V414.7M685.6 396.5h2.8M685.6 406.7h2.8M687 396.5V406.7M687.2 398.6h2.8M687.2 411.7h2.8M688.6 398.6V411.7M689.4 395.1h2.8M689.4 408h2.8M690.8 395.1V408M690.7 402h2.8M690.7 414.3h2.8M692.1 402V414.3M692.6 403.6h2.8M692.6 417h2.8M694 403.6V417M694.6 394.8h2.8M694.6 405.4h2.8M696 394.8V405.4M695.9 393.2h2.8M695.9 402.4h2.8M697.3 393.2V402.4M697.9 396.1h2.8M697.9 407.7h2.8M699.3 396.1V407.7M699.6 390.3h2.8M699.6 403.1h2.8M701 390.3V403.1M701.4 387.3h2.8M701.4 397.1h2.8M702.8 387.3V397.1M703.3 384.5h2.8M703.3 397.1h2.8M704.7 384.5V397.1M704.6 384.1h2.8M704.6 397.5h2.8M706 384.1V397.5M706 388.7h2.8M706 398.7h2.8M707.4 388.7V398.7" fill="none" stroke="#4a4eb4" stroke-width="0.8" />
<path d="M458 586.9h0M460.4 576.7h0M461.9 580.2h0M463.5 587h0M465.6 590.4h0M466.6 587.3h0M468.5 579.6h0M470.5 588.6h0M472.1 582h0M473.9 575.5h0M475.7 577.6h0M477.6 568.2h0M479 574.7h0M481.2 577.4h0M482.8 573.9h0M484.3 570.3h0M486.3 570.3h0M487.8 570.6h0M489.9 570.4h0M491.1 572.6h0M493.2 569.2h0M494.5 564.2h0M496.3 562.9h0M497.9 569.3h0M499.8 566.7h0M501.9 567.6h0M503.1 551.2h0M505.1 545h0M507.3 544.1h0M508.6 531.8h0M510.1 534h0M511.8 531.4h0M513.7 533.5h0M515.8 524.5h0M517.4 510.6h0M519 514.9h0M520.4 507.8h0M522.7 499.2h0M524.6 493h0M526.2 495h0M527.6 489.7h0M529.7 479h0M531.4 460.2h0M533 450.7h0M534.7 447.2h0M536.4 448.6h0M537.7 431.5h0M540 435.8h0M541.6 427.7h0M543.2 425.6h0M545.1 406.2h0M547.1 409.3h0M548.2 393h0M550.1 384h0M551.9 386.7h0M553.7 379.5h0M555.1 377h0M557.1 359.2h0M558.5 358.4h0M560.8 355.8h0M562.3 350h0M564.1 350.9h0M565.7 367.3h0M567.7 382h0M569.2 390h0M571.4 394.5h0M572.6 402.7h0M574.4 402.3h0M575.8 397.8h0M578.1 406.3h0M579.5 404h0M581.6 408.7h0M583.5 401.8h0M585.1 404.9h0M586.5 406.5h0M588.5 409.5h0M590.3 404h0M591.8 405h0M593.3 404.7h0M595.4 402h0M597.2 408.2h0M598.5 402.4h0M600.5 420.8h0M602 425.5h0M604.2 422.9h0M605.4 430.6h0M607.3 430h0M609.3 434.2h0M610.6 437.9h0M612.6 444h0M614.2 438.5h0M615.9 439.5h0M618.1 438.8h0M619.8 439.1h0M621.6 442.3h0M623.2 441.1h0M624.8 445.6h0M626.8 446.6h0M628.3 447.2h0M629.6 450.1h0M631.4 449h0M633.1 444.2h0M635.4 449.8h0M637.2 446h0M638.6 450.3h0M640.6 440.7h0M642.3 449.5h0M643.9 443.5h0M645.5 445.3h0M647.5 449.9h0M649 452.9h0M650.4 455.7h0M652.4 456h0M653.8 451.1h0M655.9 441.1h0M657.9 445.7h0M658.9 446.9h0M661.1 437.1h0M663 440.6h0M664.5 433.8h0M666.7 440.4h0M668.1 435.3h0M669.3 426h0M671.8 423h0M673.1 434h0M674.9 422.8h0M677 429.2h0M678.5 423h0M680 422.1h0M681.8 413h0M683.6 415h0M685.3 408.9h0M687 401.6h0M688.6 405.2h0M690.8 401.5h0M692.1 408.2h0M694 410.3h0M696 400.1h0M697.3 397.8h0M699.3 401.9h0M701 396.7h0M702.8 392.2h0M704.7 390.8h0M706 390.8h0M707.4 393.7h0" fill="none" stroke="#2a2c98" stroke-width="5.8" stroke-linecap="round"/>
<path d="M458.4 565.9 L459.5 565.4 L461 564.8 L462.8 564 L464.8 563.2 L466.9 562.3 L469 561.4 L471.2 560.4 L473.3 559.5 L475.3 558.6 L477.5 557.6 L479.7 556.7 L481.9 555.7 L484.1 554.6 L486.3 553.5 L488.3 552.3 L490.3 551 L492 549.7 L493.7 548.4 L495.3 547.1 L496.9 545.7 L498.4 544.2 L499.9 542.4 L501.4 540.5 L503 538.3 L504.6 535.8 L506.2 533.1 L507.8 530.2 L509.4 527.1 L511 523.8 L512.6 520.3 L514.2 516.6 L515.8 512.8 L517.3 508.6 L518.9 504.3 L520.5 499.7 L522.1 495 L523.7 490 L525.3 485 L526.9 479.8 L528.5 474.5 L530.1 469 L531.7 463.3 L533.4 457.4 L535 451.4 L536.6 445.3 L538.2 439.3 L539.8 433.5 L541.3 427.8 L542.7 422.1 L544.1 416.4 L545.5 410.8 L546.8 405.2 L548.1 399.8 L549.4 394.6 L550.7 389.7 L551.9 385.3 L553.1 381.1 L554.3 377.1 L555.4 373.4 L556.6 370 L557.7 366.9 L558.7 364.1 L559.6 361.7 L560.4 359.8 L561 358.3 L561.6 357.2 L562 356.5 L562.4 356.2 L562.7 356.1 L563 356.4 L563.4 356.9 L563.8 357.6 L564.2 358.7 L564.7 360.1 L565.2 362 L565.6 364 L566.1 366.2 L566.6 368.4 L567.1 370.5 L567.6 372.5 L568.1 374.4 L568.6 376.4 L569 378.5 L569.5 380.5 L570 382.4 L570.5 384.3 L571.2 385.9 L571.9 387.4 L572.6 388.6 L573.5 389.7 L574.4 390.6 L575.4 391.4 L576.4 392 L577.5 392.7 L578.5 393.2 L579.5 393.8 L580.5 394.2 L581.6 394.4 L582.6 394.6 L583.7 394.7 L584.8 394.8 L585.9 395 L586.9 395.3 L588 395.9 L589.1 396.5 L590.1 397.2 L591.1 397.8 L592.1 398.7 L593.2 399.7 L594.2 400.9 L595.3 402.5 L596.5 404.4 L597.7 406.8 L599 409.7 L600.2 412.9 L601.6 416.3 L602.9 419.9 L604.3 423.4 L605.7 426.8 L607.1 429.9 L608.6 432.8 L610.1 435.8 L611.7 438.7 L613.2 441.6 L614.8 444.3 L616.5 446.8 L618.2 449.1 L619.9 451.1 L621.6 452.9 L623.4 454.5 L625.3 455.9 L627.2 457.1 L629.1 458.1 L631 458.8 L632.9 459.4 L634.8 459.6 L636.6 459.6 L638.4 459.4 L640.1 459 L641.9 458.3 L643.7 457.4 L645.6 456.2 L647.6 454.9 L649.6 453.3 L651.8 451.3 L654.1 449.1 L656.4 446.6 L658.8 443.8 L661.2 440.9 L663.7 438 L666.2 435 L668.8 432 L671.3 429 L674 425.7 L676.7 422.4 L679.5 419 L682.2 415.6 L684.9 412.4 L687.5 409.3 L690 406.5 L692.5 403.9 L695.1 401.3 L697.7 398.8 L700.3 396.4 L702.6 394.3 L704.7 392.4 L706.5 390.8 L707.9 389.5" fill="none" stroke="#dc3340" stroke-width="1.1" stroke-linejoin="round" /></svg>
<div class="l" style="left:756.2px;top:46.4px;font-size:13px;transform:scaleX(1.0615);">629</div>
<div class="l" style="left:300.9px;top:46.4px;font-size:13.6px;transform:scaleX(1.0078);letter-spacing:0.5px;word-spacing:1px">NEW NARROW N(1685) AND N(1726)</div>
<div class="l" style="left:90.9px;top:655.4px;font-size:11.7px;word-spacing:0.19px;transform:scaleX(1.1000);"><b>Fig. 5.</b> (Color online) π<sup style="margin-left:1px">–</sup><i>p</i><span class="ar">→</span>π<sup style="margin-left:1px">–</sup><i>p</i> cross section (figure from [19]). Red solid lines correspond to the calculations based on the <i>K</i>-</div>
<div class="l" style="left:90.9px;top:671.2px;font-size:11.7px;word-spacing:0.15px;transform:scaleX(1.1000);">matrix approach with two narrow resonances. See [19] for details.</div>
<div class="l" style="left:70.8px;top:715.0px;font-size:14.4px;word-spacing:3.93px;transform:scaleX(1.1050);">versity of Bochum. We are very grateful to Prof.</div>
<div class="l" style="left:70.8px;top:731.1px;font-size:14.4px;word-spacing:2.10px;transform:scaleX(1.1050);">M. Oleynik for the assistance in preparation of this</div>
<div class="l" style="left:70.8px;top:746.9px;font-size:14.4px;transform:scaleX(1.1311);">manuscript.</div>
<div class="l" style="left:190.0px;top:788.7px;font-size:14.4px;transform:scaleX(1.1085);letter-spacing:0.4px">REFERENCES</div>
<div class="l" style="left:76.4px;top:810.6px;font-size:13.1px;transform:scaleX(0.9971);">1.</div>
<div class="l" style="left:95.1px;top:810.6px;font-size:13.1px;word-spacing:4.25px;transform:scaleX(1.1000);">V. Kuznetsov, S. Churikova, G. Gervino, F. Ghio,</div>
<div class="l" style="left:95.1px;top:825.4px;font-size:13.1px;word-spacing:3.40px;transform:scaleX(1.1000);">B. Girolami, D. Ivanov, J. Jang, A. Kim, W. Kim,</div>
<div class="l" style="left:95.1px;top:839.7px;font-size:13.1px;word-spacing:0.38px;transform:scaleX(1.1000);">A. Ni, Yu. Vorobiev, M. Yurov, and A. Zabrodin, Phys.</div>
<div class="l" style="left:95.1px;top:854.2px;font-size:13.1px;word-spacing:0.05px;transform:scaleX(1.1000);">Lett. B <b>647</b>, 23 (2007), arXiv:hep-ex/0606065.</div>
<div class="l" style="left:76.4px;top:871.9px;font-size:13.1px;transform:scaleX(0.9971);">2.</div>
<div class="l" style="left:95.1px;top:871.9px;font-size:13.1px;word-spacing:0.86px;transform:scaleX(1.1000);">I. Jaegle, T. Mertens, A.V. Anisovich, et al. (CBELSA</div>
<div class="l" style="left:95.1px;top:886.1px;font-size:13.1px;word-spacing:1.33px;transform:scaleX(1.1000);">Collab., TAPS Collab.), Phys. Rev. Lett. <b>100</b>, 252002</div>
<div class="l" style="left:95.1px;top:900.2px;font-size:13.1px;word-spacing:-1.09px;transform:scaleX(1.1000);">(2008), arXiv:0804.4841 [nucl-ex].</div>
<div class="l" style="left:76.4px;top:918.3px;font-size:13.1px;transform:scaleX(0.9971);">3.</div>
<div class="l" style="left:95.1px;top:918.3px;font-size:13.1px;word-spacing:1.06px;transform:scaleX(1.1000);">I. Jaegle, T. Mertens, A. Fix, et al. (CBELSA Collab.,</div>
<div class="l" style="left:95.1px;top:932.8px;font-size:13.1px;word-spacing:6.54px;transform:scaleX(1.1000);">TAPS Collab.), Eur. Phys. J. A <b>47</b>, 89 (2011),</div>
<div class="l" style="left:95.1px;top:947.0px;font-size:13.1px;word-spacing:-1.20px;transform:scaleX(1.0806);">arXiv:1107.2046 [nucl-ex].</div>
<div class="l" style="left:76.4px;top:964.8px;font-size:13.1px;transform:scaleX(0.9971);">4.</div>
<div class="l" style="left:95.1px;top:964.8px;font-size:13.1px;word-spacing:2.19px;transform:scaleX(1.1000);">F. Miyahara, J. Kasagi, T. Nakabayashi, et al., Prog.</div>
<div class="l" style="left:95.1px;top:979.2px;font-size:13.1px;word-spacing:0.21px;transform:scaleX(1.1000);">Theor. Phys. Suppl. <b>168</b>, 90 (2007).</div>
<div class="l" style="left:76.4px;top:996.7px;font-size:13.1px;transform:scaleX(0.9971);">5.</div>
<div class="l" style="left:95.1px;top:996.7px;font-size:13.1px;word-spacing:2.16px;transform:scaleX(1.1000);">D. Werthmüller, L. Witthauer, I. Keshelashvili, et al.</div>
<div class="l" style="left:95.1px;top:1010.8px;font-size:13.1px;word-spacing:-0.23px;transform:scaleX(1.1000);">(A2 Collab.), Phys. Rev. Lett. <b>111</b>, 232001 (2013).</div>
<div class="l" style="left:439.5px;top:715.8px;font-size:13.1px;transform:scaleX(0.9971);">6.</div>
<div class="l" style="left:458.6px;top:715.8px;font-size:13.1px;word-spacing:2.20px;transform:scaleX(1.1000);">L. Witthauer, D. Werthmüller, I. Keshelashvili, et al.</div>
<div class="l" style="left:458.6px;top:730.3px;font-size:13.1px;word-spacing:-0.16px;transform:scaleX(1.1000);">(A2 Collab.), Eur. Phys. J. A <b>49</b>, 154 (2013).</div>
<div class="l" style="left:439.5px;top:756.0px;font-size:13.1px;transform:scaleX(0.9971);">7.</div>
<div class="l" style="left:458.6px;top:756.0px;font-size:13.1px;word-spacing:2.59px;transform:scaleX(1.1000);">D. Werthmüller L. Witthauer, I. Keshelashvili, et al.</div>
<div class="l" style="left:458.6px;top:770.8px;font-size:13.1px;word-spacing:-0.56px;transform:scaleX(1.1000);">(A2 Collab.), Phys. Rev. C <b>90</b>, 015205 (2014).</div>
<div class="l" style="left:439.5px;top:796.4px;font-size:13.1px;transform:scaleX(0.9971);">8.</div>
<div class="l" style="left:458.6px;top:796.4px;font-size:13.1px;word-spacing:2.49px;transform:scaleX(1.1000);">R. Arndt, Ya. I. Azimov, M. V. Polyakov, I. I. Stra-</div>
<div class="l" style="left:458.6px;top:810.6px;font-size:13.1px;word-spacing:0.72px;transform:scaleX(1.1000);">kovsky, and R. L. Workman, Phys. Rev. C <b>69</b>, 035208</div>
<div class="l" style="left:458.6px;top:825.4px;font-size:13.1px;word-spacing:0.95px;transform:scaleX(1.1000);">(2004); Y. I. Azimov, V. Kuznetsov, M. Polaykov, and</div>
<div class="l" style="left:458.6px;top:839.7px;font-size:13.1px;word-spacing:1.38px;transform:scaleX(1.1000);">I. Strakovsky, Eur. Phys. J. A <b>25</b>, 325 (2005); A. Fix,</div>
<div class="l" style="left:458.6px;top:854.2px;font-size:13.1px;word-spacing:0.86px;transform:scaleX(1.1000);">L. Tiator, and M. V. Polyakov, Eur. Phys. J. A <b>32</b>, 311</div>
<div class="l" style="left:458.6px;top:869.0px;font-size:13.1px;word-spacing:5.44px;transform:scaleX(1.1000);">(2007); K. S. Choi, S. I. Nam, A. Hosaka, and</div>
<div class="l" style="left:458.6px;top:883.1px;font-size:13.1px;word-spacing:0.85px;transform:scaleX(1.1000);">H. C. Kim, Phys. Lett. B <b>636</b>, 253 (2006), G.-S. Yang</div>
<div class="l" style="left:458.6px;top:897.6px;font-size:13.1px;word-spacing:-0.28px;transform:scaleX(1.1000);">and H.-C. Kim, Prog. Teor. Exp. Phys., 013D01 (2013),</div>
<div class="l" style="left:458.6px;top:912.1px;font-size:13.1px;word-spacing:1.73px;transform:scaleX(1.1000);">arXiv:1204.5644 [hep-ph], T. Mart, Phys. Rev. D <b>88</b>,</div>
<div class="l" style="left:458.6px;top:926.6px;font-size:13.1px;word-spacing:-0.56px;transform:scaleX(1.1000);">057501 (2013), arXiv:1309.5191, T. Mart, Phys. Rev. D</div>
<div class="l" style="left:458.6px;top:941.4px;font-size:13.1px;word-spacing:-1.20px;transform:scaleX(1.0812);"><b>83</b>, 094015 (2011), arXiv:1104.2680.</div>
<div class="l" style="left:439.5px;top:967.1px;font-size:13.1px;transform:scaleX(0.9971);">9.</div>
<div class="l" style="left:458.6px;top:967.1px;font-size:13.1px;word-spacing:3.76px;transform:scaleX(1.1000);">A. V. Anisovich, V. V. Anisovich, M. A. Matveev,</div>
<div class="l" style="left:458.6px;top:981.5px;font-size:13.1px;word-spacing:3.10px;transform:scaleX(1.1000);">J. Nyiri, A. V. Sarantsev, and A.N. Semenova, Eur.</div>
<div class="l" style="left:458.6px;top:996.4px;font-size:13.1px;word-spacing:-1.10px;transform:scaleX(1.1000);">Phys. J. A <b>51</b>, 72 (2015); arXiv:1501.02093, A. V. Aniso-</div>
<div class="l" style="left:458.6px;top:1010.8px;font-size:13.1px;word-spacing:-0.47px;transform:scaleX(1.1000);">vich, V. V. Anisovich, M. A. Matveev, J. Nyiri, A. V. Sa-</div>
<div class="l" style="left:90.9px;top:1044.6px;font-size:13px;transform:scaleX(0.9960);letter-spacing:0.3px">JETP LETTERS</div>
<div class="l" style="left:198.5px;top:1044.6px;font-size:13px;transform:scaleX(0.9834);">Vol. 105</div>
<div class="l" style="left:260.0px;top:1044.6px;font-size:13px;transform:scaleX(1.0059);">No. 10</div>
<div class="l" style="left:313.7px;top:1044.6px;font-size:13px;transform:scaleX(0.9385);">2017</div>
</div>
</body></html>
